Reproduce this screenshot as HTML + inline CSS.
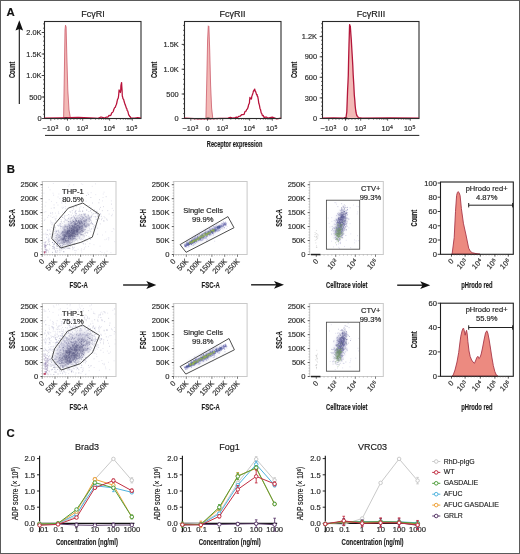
<!DOCTYPE html>
<html><head><meta charset="utf-8"><style>
html,body{margin:0;padding:0;background:#fff;}
svg{display:block;filter:blur(0.3px);}
text{font-family:"Liberation Sans", sans-serif;}
</style></head><body>
<svg width="520" height="554" viewBox="0 0 520 554">
<defs><filter id="bl" x="-50%" y="-50%" width="200%" height="200%"><feGaussianBlur stdDeviation="2.2"/></filter></defs>
<rect x="0.5" y="0.5" width="519" height="553" fill="#fff" stroke="#5a5a5a" stroke-width="1"/>
<text x="6.6" y="15.9" font-size="11.4" font-weight="bold" fill="#111" stroke="#111" stroke-width="0.144">A</text>
<line x1="19.3" y1="27" x2="19.3" y2="104" stroke="#111" stroke-width="1.1"/>
<path d="M15.5 30.4 L19.3 20.2 L23.1 30.4 L19.3 28.9 Z" fill="#111" stroke="none" stroke-width="1" stroke-linejoin="round"/>
<rect x="44.5" y="21.5" width="96.5" height="97.0" fill="none" stroke="#2a2a2a" stroke-width="1.1"/>
<text x="93.0" y="16.6" font-size="9" text-anchor="middle" fill="#222" stroke="#222" stroke-width="0.18">Fc&#947;RI</text>
<line x1="41.7" y1="118.5" x2="44.5" y2="118.5" stroke="#333" stroke-width="0.9"/>
<text x="41.5" y="121.1" font-size="7.4" text-anchor="end" fill="#2e2e2e" stroke="#2e2e2e" stroke-width="0.18">0</text>
<line x1="41.7" y1="97" x2="44.5" y2="97" stroke="#333" stroke-width="0.9"/>
<text x="41.5" y="99.6" font-size="7.4" text-anchor="end" fill="#2e2e2e" stroke="#2e2e2e" stroke-width="0.18">500</text>
<line x1="41.7" y1="75.5" x2="44.5" y2="75.5" stroke="#333" stroke-width="0.9"/>
<text x="41.5" y="78.1" font-size="7.4" text-anchor="end" fill="#2e2e2e" stroke="#2e2e2e" stroke-width="0.18">1.0K</text>
<line x1="41.7" y1="54" x2="44.5" y2="54" stroke="#333" stroke-width="0.9"/>
<text x="41.5" y="56.6" font-size="7.4" text-anchor="end" fill="#2e2e2e" stroke="#2e2e2e" stroke-width="0.18">1.5K</text>
<line x1="41.7" y1="32.5" x2="44.5" y2="32.5" stroke="#333" stroke-width="0.9"/>
<text x="41.5" y="35.1" font-size="7.4" text-anchor="end" fill="#2e2e2e" stroke="#2e2e2e" stroke-width="0.18">2.0K</text>
<line x1="43.1" y1="118.5" x2="44.5" y2="118.5" stroke="#333" stroke-width="0.8"/>
<line x1="43.1" y1="114.2" x2="44.5" y2="114.2" stroke="#333" stroke-width="0.8"/>
<line x1="43.1" y1="109.9" x2="44.5" y2="109.9" stroke="#333" stroke-width="0.8"/>
<line x1="43.1" y1="105.60000000000001" x2="44.5" y2="105.60000000000001" stroke="#333" stroke-width="0.8"/>
<line x1="43.1" y1="101.30000000000001" x2="44.5" y2="101.30000000000001" stroke="#333" stroke-width="0.8"/>
<line x1="43.1" y1="97.00000000000001" x2="44.5" y2="97.00000000000001" stroke="#333" stroke-width="0.8"/>
<line x1="43.1" y1="92.70000000000002" x2="44.5" y2="92.70000000000002" stroke="#333" stroke-width="0.8"/>
<line x1="43.1" y1="88.40000000000002" x2="44.5" y2="88.40000000000002" stroke="#333" stroke-width="0.8"/>
<line x1="43.1" y1="84.10000000000002" x2="44.5" y2="84.10000000000002" stroke="#333" stroke-width="0.8"/>
<line x1="43.1" y1="79.80000000000003" x2="44.5" y2="79.80000000000003" stroke="#333" stroke-width="0.8"/>
<line x1="43.1" y1="75.50000000000003" x2="44.5" y2="75.50000000000003" stroke="#333" stroke-width="0.8"/>
<line x1="43.1" y1="71.20000000000003" x2="44.5" y2="71.20000000000003" stroke="#333" stroke-width="0.8"/>
<line x1="43.1" y1="66.90000000000003" x2="44.5" y2="66.90000000000003" stroke="#333" stroke-width="0.8"/>
<line x1="43.1" y1="62.60000000000004" x2="44.5" y2="62.60000000000004" stroke="#333" stroke-width="0.8"/>
<line x1="43.1" y1="58.30000000000004" x2="44.5" y2="58.30000000000004" stroke="#333" stroke-width="0.8"/>
<line x1="43.1" y1="54.00000000000004" x2="44.5" y2="54.00000000000004" stroke="#333" stroke-width="0.8"/>
<line x1="43.1" y1="49.700000000000045" x2="44.5" y2="49.700000000000045" stroke="#333" stroke-width="0.8"/>
<line x1="43.1" y1="45.40000000000005" x2="44.5" y2="45.40000000000005" stroke="#333" stroke-width="0.8"/>
<line x1="43.1" y1="41.10000000000005" x2="44.5" y2="41.10000000000005" stroke="#333" stroke-width="0.8"/>
<line x1="43.1" y1="36.800000000000054" x2="44.5" y2="36.800000000000054" stroke="#333" stroke-width="0.8"/>
<line x1="43.1" y1="32.50000000000006" x2="44.5" y2="32.50000000000006" stroke="#333" stroke-width="0.8"/>
<line x1="43.1" y1="28.200000000000056" x2="44.5" y2="28.200000000000056" stroke="#333" stroke-width="0.8"/>
<line x1="43.1" y1="23.900000000000055" x2="44.5" y2="23.900000000000055" stroke="#333" stroke-width="0.8"/>
<text x="50.4" y="130.6" font-size="7.4" text-anchor="middle" fill="#2e2e2e" stroke="#2e2e2e" stroke-width="0.18">−10<tspan dx="0.3" dy="-2.1" font-size="5.2">3</tspan></text>
<text x="67.5" y="130.6" font-size="7.4" text-anchor="middle" fill="#2e2e2e" stroke="#2e2e2e" stroke-width="0.18">0</text>
<text x="82.5" y="130.6" font-size="7.4" text-anchor="middle" fill="#2e2e2e" stroke="#2e2e2e" stroke-width="0.18">10<tspan dx="0.3" dy="-2.1" font-size="5.2">3</tspan></text>
<text x="109.3" y="130.6" font-size="7.4" text-anchor="middle" fill="#2e2e2e" stroke="#2e2e2e" stroke-width="0.18">10<tspan dx="0.3" dy="-2.1" font-size="5.2">4</tspan></text>
<text x="131.7" y="130.6" font-size="7.4" text-anchor="middle" fill="#2e2e2e" stroke="#2e2e2e" stroke-width="0.18">10<tspan dx="0.3" dy="-2.1" font-size="5.2">5</tspan></text>
<line x1="50.8" y1="118.5" x2="50.8" y2="120.7" stroke="#333" stroke-width="0.8"/>
<line x1="67.5" y1="118.5" x2="67.5" y2="120.7" stroke="#333" stroke-width="0.8"/>
<line x1="82.7" y1="118.5" x2="82.7" y2="120.7" stroke="#333" stroke-width="0.8"/>
<line x1="109.6" y1="118.5" x2="109.6" y2="120.7" stroke="#333" stroke-width="0.8"/>
<line x1="132.3" y1="118.5" x2="132.3" y2="120.7" stroke="#333" stroke-width="0.8"/>
<line x1="90.7977068833611" y1="118.5" x2="90.7977068833611" y2="119.8" stroke="#444" stroke-width="0.6"/>
<line x1="95.53456175195892" y1="118.5" x2="95.53456175195892" y2="119.8" stroke="#444" stroke-width="0.6"/>
<line x1="98.89541376672219" y1="118.5" x2="98.89541376672219" y2="119.8" stroke="#444" stroke-width="0.6"/>
<line x1="101.50229311663891" y1="118.5" x2="101.50229311663891" y2="119.8" stroke="#444" stroke-width="0.6"/>
<line x1="103.63226863532002" y1="118.5" x2="103.63226863532002" y2="119.8" stroke="#444" stroke-width="0.6"/>
<line x1="105.4331372763835" y1="118.5" x2="105.4331372763835" y2="119.8" stroke="#444" stroke-width="0.6"/>
<line x1="106.99312065008328" y1="118.5" x2="106.99312065008328" y2="119.8" stroke="#444" stroke-width="0.6"/>
<line x1="108.36912350391785" y1="118.5" x2="108.36912350391785" y2="119.8" stroke="#444" stroke-width="0.6"/>
<line x1="116.43338090157236" y1="118.5" x2="116.43338090157236" y2="119.8" stroke="#444" stroke-width="0.6"/>
<line x1="120.43065248213634" y1="118.5" x2="120.43065248213634" y2="119.8" stroke="#444" stroke-width="0.6"/>
<line x1="123.26676180314475" y1="118.5" x2="123.26676180314475" y2="119.8" stroke="#444" stroke-width="0.6"/>
<line x1="125.46661909842763" y1="118.5" x2="125.46661909842763" y2="119.8" stroke="#444" stroke-width="0.6"/>
<line x1="127.2640333837087" y1="118.5" x2="127.2640333837087" y2="119.8" stroke="#444" stroke-width="0.6"/>
<line x1="128.7837255083236" y1="118.5" x2="128.7837255083236" y2="119.8" stroke="#444" stroke-width="0.6"/>
<line x1="130.10014270471711" y1="118.5" x2="130.10014270471711" y2="119.8" stroke="#444" stroke-width="0.6"/>
<line x1="131.26130496427265" y1="118.5" x2="131.26130496427265" y2="119.8" stroke="#444" stroke-width="0.6"/>
<rect x="184.5" y="21.5" width="96.5" height="97.0" fill="none" stroke="#2a2a2a" stroke-width="1.1"/>
<text x="232.5" y="16.6" font-size="9" text-anchor="middle" fill="#222" stroke="#222" stroke-width="0.18">Fc&#947;RII</text>
<line x1="181.7" y1="118.5" x2="184.5" y2="118.5" stroke="#333" stroke-width="0.9"/>
<text x="178.7" y="121.1" font-size="7.4" text-anchor="end" fill="#2e2e2e" stroke="#2e2e2e" stroke-width="0.18">0</text>
<line x1="181.7" y1="94" x2="184.5" y2="94" stroke="#333" stroke-width="0.9"/>
<text x="178.7" y="96.6" font-size="7.4" text-anchor="end" fill="#2e2e2e" stroke="#2e2e2e" stroke-width="0.18">500</text>
<line x1="181.7" y1="69.2" x2="184.5" y2="69.2" stroke="#333" stroke-width="0.9"/>
<text x="178.7" y="71.8" font-size="7.4" text-anchor="end" fill="#2e2e2e" stroke="#2e2e2e" stroke-width="0.18">1.0K</text>
<line x1="181.7" y1="44.4" x2="184.5" y2="44.4" stroke="#333" stroke-width="0.9"/>
<text x="178.7" y="47.0" font-size="7.4" text-anchor="end" fill="#2e2e2e" stroke="#2e2e2e" stroke-width="0.18">1.5K</text>
<line x1="183.1" y1="118.5" x2="184.5" y2="118.5" stroke="#333" stroke-width="0.8"/>
<line x1="183.1" y1="113.6" x2="184.5" y2="113.6" stroke="#333" stroke-width="0.8"/>
<line x1="183.1" y1="108.69999999999999" x2="184.5" y2="108.69999999999999" stroke="#333" stroke-width="0.8"/>
<line x1="183.1" y1="103.79999999999998" x2="184.5" y2="103.79999999999998" stroke="#333" stroke-width="0.8"/>
<line x1="183.1" y1="98.89999999999998" x2="184.5" y2="98.89999999999998" stroke="#333" stroke-width="0.8"/>
<line x1="183.1" y1="93.99999999999997" x2="184.5" y2="93.99999999999997" stroke="#333" stroke-width="0.8"/>
<line x1="183.1" y1="89.09999999999997" x2="184.5" y2="89.09999999999997" stroke="#333" stroke-width="0.8"/>
<line x1="183.1" y1="84.19999999999996" x2="184.5" y2="84.19999999999996" stroke="#333" stroke-width="0.8"/>
<line x1="183.1" y1="79.29999999999995" x2="184.5" y2="79.29999999999995" stroke="#333" stroke-width="0.8"/>
<line x1="183.1" y1="74.39999999999995" x2="184.5" y2="74.39999999999995" stroke="#333" stroke-width="0.8"/>
<line x1="183.1" y1="69.49999999999994" x2="184.5" y2="69.49999999999994" stroke="#333" stroke-width="0.8"/>
<line x1="183.1" y1="64.59999999999994" x2="184.5" y2="64.59999999999994" stroke="#333" stroke-width="0.8"/>
<line x1="183.1" y1="59.69999999999994" x2="184.5" y2="59.69999999999994" stroke="#333" stroke-width="0.8"/>
<line x1="183.1" y1="54.79999999999994" x2="184.5" y2="54.79999999999994" stroke="#333" stroke-width="0.8"/>
<line x1="183.1" y1="49.89999999999994" x2="184.5" y2="49.89999999999994" stroke="#333" stroke-width="0.8"/>
<line x1="183.1" y1="44.99999999999994" x2="184.5" y2="44.99999999999994" stroke="#333" stroke-width="0.8"/>
<line x1="183.1" y1="40.099999999999945" x2="184.5" y2="40.099999999999945" stroke="#333" stroke-width="0.8"/>
<line x1="183.1" y1="35.199999999999946" x2="184.5" y2="35.199999999999946" stroke="#333" stroke-width="0.8"/>
<line x1="183.1" y1="30.299999999999947" x2="184.5" y2="30.299999999999947" stroke="#333" stroke-width="0.8"/>
<line x1="183.1" y1="25.39999999999995" x2="184.5" y2="25.39999999999995" stroke="#333" stroke-width="0.8"/>
<text x="190.4" y="130.6" font-size="7.4" text-anchor="middle" fill="#2e2e2e" stroke="#2e2e2e" stroke-width="0.18">−10<tspan dx="0.3" dy="-2.1" font-size="5.2">3</tspan></text>
<text x="207.5" y="130.6" font-size="7.4" text-anchor="middle" fill="#2e2e2e" stroke="#2e2e2e" stroke-width="0.18">0</text>
<text x="222.5" y="130.6" font-size="7.4" text-anchor="middle" fill="#2e2e2e" stroke="#2e2e2e" stroke-width="0.18">10<tspan dx="0.3" dy="-2.1" font-size="5.2">3</tspan></text>
<text x="249.29999999999998" y="130.6" font-size="7.4" text-anchor="middle" fill="#2e2e2e" stroke="#2e2e2e" stroke-width="0.18">10<tspan dx="0.3" dy="-2.1" font-size="5.2">4</tspan></text>
<text x="271.70000000000005" y="130.6" font-size="7.4" text-anchor="middle" fill="#2e2e2e" stroke="#2e2e2e" stroke-width="0.18">10<tspan dx="0.3" dy="-2.1" font-size="5.2">5</tspan></text>
<line x1="190.8" y1="118.5" x2="190.8" y2="120.7" stroke="#333" stroke-width="0.8"/>
<line x1="207.5" y1="118.5" x2="207.5" y2="120.7" stroke="#333" stroke-width="0.8"/>
<line x1="222.7" y1="118.5" x2="222.7" y2="120.7" stroke="#333" stroke-width="0.8"/>
<line x1="249.6" y1="118.5" x2="249.6" y2="120.7" stroke="#333" stroke-width="0.8"/>
<line x1="272.3" y1="118.5" x2="272.3" y2="120.7" stroke="#333" stroke-width="0.8"/>
<line x1="230.7977068833611" y1="118.5" x2="230.7977068833611" y2="119.8" stroke="#444" stroke-width="0.6"/>
<line x1="235.5345617519589" y1="118.5" x2="235.5345617519589" y2="119.8" stroke="#444" stroke-width="0.6"/>
<line x1="238.89541376672219" y1="118.5" x2="238.89541376672219" y2="119.8" stroke="#444" stroke-width="0.6"/>
<line x1="241.5022931166389" y1="118.5" x2="241.5022931166389" y2="119.8" stroke="#444" stroke-width="0.6"/>
<line x1="243.63226863532" y1="118.5" x2="243.63226863532" y2="119.8" stroke="#444" stroke-width="0.6"/>
<line x1="245.4331372763835" y1="118.5" x2="245.4331372763835" y2="119.8" stroke="#444" stroke-width="0.6"/>
<line x1="246.99312065008326" y1="118.5" x2="246.99312065008326" y2="119.8" stroke="#444" stroke-width="0.6"/>
<line x1="248.36912350391782" y1="118.5" x2="248.36912350391782" y2="119.8" stroke="#444" stroke-width="0.6"/>
<line x1="256.4333809015724" y1="118.5" x2="256.4333809015724" y2="119.8" stroke="#444" stroke-width="0.6"/>
<line x1="260.43065248213634" y1="118.5" x2="260.43065248213634" y2="119.8" stroke="#444" stroke-width="0.6"/>
<line x1="263.26676180314473" y1="118.5" x2="263.26676180314473" y2="119.8" stroke="#444" stroke-width="0.6"/>
<line x1="265.4666190984276" y1="118.5" x2="265.4666190984276" y2="119.8" stroke="#444" stroke-width="0.6"/>
<line x1="267.2640333837087" y1="118.5" x2="267.2640333837087" y2="119.8" stroke="#444" stroke-width="0.6"/>
<line x1="268.78372550832364" y1="118.5" x2="268.78372550832364" y2="119.8" stroke="#444" stroke-width="0.6"/>
<line x1="270.1001427047171" y1="118.5" x2="270.1001427047171" y2="119.8" stroke="#444" stroke-width="0.6"/>
<line x1="271.26130496427265" y1="118.5" x2="271.26130496427265" y2="119.8" stroke="#444" stroke-width="0.6"/>
<rect x="322.5" y="21.5" width="96.5" height="97.0" fill="none" stroke="#2a2a2a" stroke-width="1.1"/>
<text x="371.0" y="16.6" font-size="9" text-anchor="middle" fill="#222" stroke="#222" stroke-width="0.18">Fc&#947;RIII</text>
<line x1="319.7" y1="118.5" x2="322.5" y2="118.5" stroke="#333" stroke-width="0.9"/>
<text x="317.0" y="121.1" font-size="7.4" text-anchor="end" fill="#2e2e2e" stroke="#2e2e2e" stroke-width="0.18">0</text>
<line x1="319.7" y1="97.9" x2="322.5" y2="97.9" stroke="#333" stroke-width="0.9"/>
<text x="317.0" y="100.5" font-size="7.4" text-anchor="end" fill="#2e2e2e" stroke="#2e2e2e" stroke-width="0.18">300</text>
<line x1="319.7" y1="77.3" x2="322.5" y2="77.3" stroke="#333" stroke-width="0.9"/>
<text x="317.0" y="79.89999999999999" font-size="7.4" text-anchor="end" fill="#2e2e2e" stroke="#2e2e2e" stroke-width="0.18">600</text>
<line x1="319.7" y1="56.8" x2="322.5" y2="56.8" stroke="#333" stroke-width="0.9"/>
<text x="317.0" y="59.4" font-size="7.4" text-anchor="end" fill="#2e2e2e" stroke="#2e2e2e" stroke-width="0.18">900</text>
<line x1="319.7" y1="36.6" x2="322.5" y2="36.6" stroke="#333" stroke-width="0.9"/>
<text x="317.0" y="39.2" font-size="7.4" text-anchor="end" fill="#2e2e2e" stroke="#2e2e2e" stroke-width="0.18">1.2K</text>
<line x1="321.1" y1="118.5" x2="322.5" y2="118.5" stroke="#333" stroke-width="0.8"/>
<line x1="321.1" y1="114.38" x2="322.5" y2="114.38" stroke="#333" stroke-width="0.8"/>
<line x1="321.1" y1="110.25999999999999" x2="322.5" y2="110.25999999999999" stroke="#333" stroke-width="0.8"/>
<line x1="321.1" y1="106.13999999999999" x2="322.5" y2="106.13999999999999" stroke="#333" stroke-width="0.8"/>
<line x1="321.1" y1="102.01999999999998" x2="322.5" y2="102.01999999999998" stroke="#333" stroke-width="0.8"/>
<line x1="321.1" y1="97.89999999999998" x2="322.5" y2="97.89999999999998" stroke="#333" stroke-width="0.8"/>
<line x1="321.1" y1="93.77999999999997" x2="322.5" y2="93.77999999999997" stroke="#333" stroke-width="0.8"/>
<line x1="321.1" y1="89.65999999999997" x2="322.5" y2="89.65999999999997" stroke="#333" stroke-width="0.8"/>
<line x1="321.1" y1="85.53999999999996" x2="322.5" y2="85.53999999999996" stroke="#333" stroke-width="0.8"/>
<line x1="321.1" y1="81.41999999999996" x2="322.5" y2="81.41999999999996" stroke="#333" stroke-width="0.8"/>
<line x1="321.1" y1="77.29999999999995" x2="322.5" y2="77.29999999999995" stroke="#333" stroke-width="0.8"/>
<line x1="321.1" y1="73.17999999999995" x2="322.5" y2="73.17999999999995" stroke="#333" stroke-width="0.8"/>
<line x1="321.1" y1="69.05999999999995" x2="322.5" y2="69.05999999999995" stroke="#333" stroke-width="0.8"/>
<line x1="321.1" y1="64.93999999999994" x2="322.5" y2="64.93999999999994" stroke="#333" stroke-width="0.8"/>
<line x1="321.1" y1="60.81999999999994" x2="322.5" y2="60.81999999999994" stroke="#333" stroke-width="0.8"/>
<line x1="321.1" y1="56.699999999999946" x2="322.5" y2="56.699999999999946" stroke="#333" stroke-width="0.8"/>
<line x1="321.1" y1="52.57999999999995" x2="322.5" y2="52.57999999999995" stroke="#333" stroke-width="0.8"/>
<line x1="321.1" y1="48.45999999999995" x2="322.5" y2="48.45999999999995" stroke="#333" stroke-width="0.8"/>
<line x1="321.1" y1="44.339999999999954" x2="322.5" y2="44.339999999999954" stroke="#333" stroke-width="0.8"/>
<line x1="321.1" y1="40.219999999999956" x2="322.5" y2="40.219999999999956" stroke="#333" stroke-width="0.8"/>
<line x1="321.1" y1="36.09999999999996" x2="322.5" y2="36.09999999999996" stroke="#333" stroke-width="0.8"/>
<line x1="321.1" y1="31.97999999999996" x2="322.5" y2="31.97999999999996" stroke="#333" stroke-width="0.8"/>
<line x1="321.1" y1="27.859999999999964" x2="322.5" y2="27.859999999999964" stroke="#333" stroke-width="0.8"/>
<line x1="321.1" y1="23.739999999999966" x2="322.5" y2="23.739999999999966" stroke="#333" stroke-width="0.8"/>
<text x="328.40000000000003" y="130.6" font-size="7.4" text-anchor="middle" fill="#2e2e2e" stroke="#2e2e2e" stroke-width="0.18">−10<tspan dx="0.3" dy="-2.1" font-size="5.2">3</tspan></text>
<text x="345.5" y="130.6" font-size="7.4" text-anchor="middle" fill="#2e2e2e" stroke="#2e2e2e" stroke-width="0.18">0</text>
<text x="360.5" y="130.6" font-size="7.4" text-anchor="middle" fill="#2e2e2e" stroke="#2e2e2e" stroke-width="0.18">10<tspan dx="0.3" dy="-2.1" font-size="5.2">3</tspan></text>
<text x="387.3" y="130.6" font-size="7.4" text-anchor="middle" fill="#2e2e2e" stroke="#2e2e2e" stroke-width="0.18">10<tspan dx="0.3" dy="-2.1" font-size="5.2">4</tspan></text>
<text x="409.70000000000005" y="130.6" font-size="7.4" text-anchor="middle" fill="#2e2e2e" stroke="#2e2e2e" stroke-width="0.18">10<tspan dx="0.3" dy="-2.1" font-size="5.2">5</tspan></text>
<line x1="328.8" y1="118.5" x2="328.8" y2="120.7" stroke="#333" stroke-width="0.8"/>
<line x1="345.5" y1="118.5" x2="345.5" y2="120.7" stroke="#333" stroke-width="0.8"/>
<line x1="360.7" y1="118.5" x2="360.7" y2="120.7" stroke="#333" stroke-width="0.8"/>
<line x1="387.6" y1="118.5" x2="387.6" y2="120.7" stroke="#333" stroke-width="0.8"/>
<line x1="410.3" y1="118.5" x2="410.3" y2="120.7" stroke="#333" stroke-width="0.8"/>
<line x1="368.79770688336106" y1="118.5" x2="368.79770688336106" y2="119.8" stroke="#444" stroke-width="0.6"/>
<line x1="373.5345617519589" y1="118.5" x2="373.5345617519589" y2="119.8" stroke="#444" stroke-width="0.6"/>
<line x1="376.8954137667222" y1="118.5" x2="376.8954137667222" y2="119.8" stroke="#444" stroke-width="0.6"/>
<line x1="379.5022931166389" y1="118.5" x2="379.5022931166389" y2="119.8" stroke="#444" stroke-width="0.6"/>
<line x1="381.63226863532" y1="118.5" x2="381.63226863532" y2="119.8" stroke="#444" stroke-width="0.6"/>
<line x1="383.4331372763835" y1="118.5" x2="383.4331372763835" y2="119.8" stroke="#444" stroke-width="0.6"/>
<line x1="384.99312065008326" y1="118.5" x2="384.99312065008326" y2="119.8" stroke="#444" stroke-width="0.6"/>
<line x1="386.3691235039178" y1="118.5" x2="386.3691235039178" y2="119.8" stroke="#444" stroke-width="0.6"/>
<line x1="394.4333809015724" y1="118.5" x2="394.4333809015724" y2="119.8" stroke="#444" stroke-width="0.6"/>
<line x1="398.43065248213634" y1="118.5" x2="398.43065248213634" y2="119.8" stroke="#444" stroke-width="0.6"/>
<line x1="401.2667618031448" y1="118.5" x2="401.2667618031448" y2="119.8" stroke="#444" stroke-width="0.6"/>
<line x1="403.46661909842766" y1="118.5" x2="403.46661909842766" y2="119.8" stroke="#444" stroke-width="0.6"/>
<line x1="405.26403338370875" y1="118.5" x2="405.26403338370875" y2="119.8" stroke="#444" stroke-width="0.6"/>
<line x1="406.78372550832364" y1="118.5" x2="406.78372550832364" y2="119.8" stroke="#444" stroke-width="0.6"/>
<line x1="408.10014270471714" y1="118.5" x2="408.10014270471714" y2="119.8" stroke="#444" stroke-width="0.6"/>
<line x1="409.2613049642727" y1="118.5" x2="409.2613049642727" y2="119.8" stroke="#444" stroke-width="0.6"/>
<text transform="translate(14.6,69.9) rotate(-90)" font-size="8.8" text-anchor="middle" font-weight="bold" fill="#1a1a1a" textLength="16.4" lengthAdjust="spacingAndGlyphs" stroke="#1a1a1a" stroke-width="0.144">Count</text>
<text transform="translate(157.4,69.9) rotate(-90)" font-size="8.8" text-anchor="middle" font-weight="bold" fill="#1a1a1a" textLength="16.4" lengthAdjust="spacingAndGlyphs" stroke="#1a1a1a" stroke-width="0.144">Count</text>
<text transform="translate(297.4,69.9) rotate(-90)" font-size="8.8" text-anchor="middle" font-weight="bold" fill="#1a1a1a" textLength="16.4" lengthAdjust="spacingAndGlyphs" stroke="#1a1a1a" stroke-width="0.144">Count</text>
<line x1="45" y1="135.4" x2="419.3" y2="135.4" stroke="#222" stroke-width="1"/>
<text x="234.6" y="146.5" font-size="8.4" text-anchor="middle" font-weight="bold" fill="#1a1a1a" textLength="55.5" lengthAdjust="spacingAndGlyphs" stroke="#1a1a1a" stroke-width="0.144">Receptor expression</text>
<path d="M63.6 118.4 L64.4 70.0 L65.0 30.0 L65.5 25.2 L66.1 27.0 L66.8 55.0 L67.8 90.0 L69.0 110.0 L70.5 118.4 Z" fill="#f3b9b6" stroke="#cc5a6a" stroke-width="0.8" stroke-linejoin="round"/>
<path d="M44.5 118.2 L61.3 117.8 L78.2 117.4 L95.0 118.2 L98.0 118.4 L101.0 117.0 L104.0 117.8 L105.3 117.6 L106.7 117.0 L108.0 117.0 L109.0 115.4 L110.0 115.7 L111.0 115.0 L111.7 112.8 L112.5 112.5 L113.2 111.5 L113.9 109.2 L114.6 107.8 L115.3 107.3 L115.9 105.4 L116.4 104.5 L117.0 102.0 L117.4 99.8 L117.9 98.7 L118.3 97.9 L118.6 95.5 L118.8 93.6 L119.1 89.9 L119.5 90.9 L120.0 91.4 L120.4 92.5 L120.7 90.7 L120.9 85.8 L121.2 84.0 L121.3 84.3 L121.5 82.6 L121.6 82.6 L121.8 86.4 L122.1 90.8 L122.3 96.2 L122.6 96.7 L123.0 98.8 L123.3 99.0 L123.7 99.6 L124.2 101.8 L124.6 103.0 L125.1 104.6 L125.5 105.4 L126.0 107.0 L126.4 108.3 L126.8 108.5 L127.2 110.7 L127.6 110.8 L128.1 112.3 L128.5 114.0 L128.9 115.3 L129.3 115.6 L129.7 116.6 L130.3 116.7 L130.8 117.7 L131.4 118.0 L134.6 118.0 L137.8 117.7 L141.0 118.2" fill="none" stroke="#b8123a" stroke-width="1.25" stroke-linejoin="round"/>
<path d="M205.9 118.4 L206.8 80.0 L207.6 40.0 L208.3 25.8 L208.9 26.5 L209.7 50.0 L210.6 85.0 L211.6 108.0 L212.8 118.4 Z" fill="#f3b9b6" stroke="#cc5a6a" stroke-width="0.8" stroke-linejoin="round"/>
<path d="M184.5 118.2 L199.0 118.8 L213.5 118.6 L228.0 118.2 L230.4 117.4 L232.8 118.0 L235.2 117.6 L236.4 117.2 L237.5 117.6 L238.7 116.3 L240.1 116.2 L241.6 114.7 L243.0 114.6 L244.0 114.5 L245.0 111.5 L246.0 111.2 L246.7 109.6 L247.5 108.8 L248.2 106.8 L248.6 104.6 L249.1 103.9 L249.5 102.5 L249.6 99.8 L249.8 99.4 L249.9 97.3 L250.3 98.4 L250.8 98.6 L251.2 99.0 L251.5 98.7 L251.8 96.3 L252.1 95.6 L252.5 94.6 L253.0 92.9 L253.4 91.2 L253.8 90.7 L254.3 89.7 L254.7 89.1 L255.0 90.5 L255.2 91.5 L255.5 91.2 L255.9 92.4 L256.4 94.2 L256.8 95.1 L257.1 94.6 L257.4 96.4 L257.7 96.4 L258.3 99.6 L258.8 103.3 L259.4 105.1 L260.0 108.4 L260.6 109.8 L261.2 112.9 L261.8 113.6 L262.3 115.3 L262.9 115.9 L263.3 115.4 L263.8 116.9 L264.2 117.6 L265.5 117.1 L266.7 117.2 L268.0 118.2 L272.3 117.2 L276.7 118.8 L281.0 118.2" fill="none" stroke="#b8123a" stroke-width="1.25" stroke-linejoin="round"/>
<path d="M346.0 118.4 L346.8 112.0 L347.6 90.0 L348.3 75.0 L349.0 45.0 L349.6 24.6 L350.3 26.0 L351.3 40.0 L352.3 57.0 L353.2 75.0 L354.3 95.0 L355.2 106.0 L355.8 111.0 L356.8 115.5 L358.4 118.4 Z" fill="#f3b9b6" stroke="none" stroke-width="1" stroke-linejoin="round"/>
<path d="M322.5 118.2 L333.2 118.0 L344.0 118.2 L345.0 117.7 L346.0 117.6 L346.4 114.7 L346.8 112.0 L347.2 101.2 L347.6 90.0 L348.0 82.2 L348.3 75.0 L348.6 60.0 L349.0 45.0 L349.3 34.8 L349.6 24.6 L350.0 25.5 L350.3 26.0 L350.8 33.2 L351.3 40.0 L351.8 48.7 L352.3 57.0 L352.8 65.9 L353.2 75.0 L353.8 84.9 L354.3 95.0 L354.8 100.4 L355.2 106.0 L355.5 108.7 L355.8 111.0 L356.3 113.5 L356.8 115.5 L357.6 116.4 L358.4 117.8 L360.2 117.8 L362.0 118.2 L390.5 118.0 L419.0 118.2" fill="none" stroke="#b3163a" stroke-width="1.3" stroke-linejoin="round"/>
<line x1="44.5" y1="118.5" x2="141.0" y2="118.5" stroke="#2a2a2a" stroke-width="1.1"/>
<line x1="54.7" y1="118.5" x2="54.7" y2="119.9" stroke="#444" stroke-width="0.6"/>
<line x1="57.9" y1="118.5" x2="57.9" y2="119.9" stroke="#444" stroke-width="0.6"/>
<line x1="61.1" y1="118.5" x2="61.1" y2="119.9" stroke="#444" stroke-width="0.6"/>
<line x1="64.3" y1="118.5" x2="64.3" y2="119.9" stroke="#444" stroke-width="0.6"/>
<line x1="67.5" y1="118.5" x2="67.5" y2="119.9" stroke="#444" stroke-width="0.6"/>
<line x1="70.7" y1="118.5" x2="70.7" y2="119.9" stroke="#444" stroke-width="0.6"/>
<line x1="73.9" y1="118.5" x2="73.9" y2="119.9" stroke="#444" stroke-width="0.6"/>
<line x1="77.1" y1="118.5" x2="77.1" y2="119.9" stroke="#444" stroke-width="0.6"/>
<line x1="80.3" y1="118.5" x2="80.3" y2="119.9" stroke="#444" stroke-width="0.6"/>
<line x1="184.5" y1="118.5" x2="281.0" y2="118.5" stroke="#2a2a2a" stroke-width="1.1"/>
<line x1="194.7" y1="118.5" x2="194.7" y2="119.9" stroke="#444" stroke-width="0.6"/>
<line x1="197.9" y1="118.5" x2="197.9" y2="119.9" stroke="#444" stroke-width="0.6"/>
<line x1="201.1" y1="118.5" x2="201.1" y2="119.9" stroke="#444" stroke-width="0.6"/>
<line x1="204.3" y1="118.5" x2="204.3" y2="119.9" stroke="#444" stroke-width="0.6"/>
<line x1="207.5" y1="118.5" x2="207.5" y2="119.9" stroke="#444" stroke-width="0.6"/>
<line x1="210.7" y1="118.5" x2="210.7" y2="119.9" stroke="#444" stroke-width="0.6"/>
<line x1="213.9" y1="118.5" x2="213.9" y2="119.9" stroke="#444" stroke-width="0.6"/>
<line x1="217.1" y1="118.5" x2="217.1" y2="119.9" stroke="#444" stroke-width="0.6"/>
<line x1="220.3" y1="118.5" x2="220.3" y2="119.9" stroke="#444" stroke-width="0.6"/>
<line x1="322.5" y1="118.5" x2="419.0" y2="118.5" stroke="#2a2a2a" stroke-width="1.1"/>
<line x1="332.7" y1="118.5" x2="332.7" y2="119.9" stroke="#444" stroke-width="0.6"/>
<line x1="335.9" y1="118.5" x2="335.9" y2="119.9" stroke="#444" stroke-width="0.6"/>
<line x1="339.1" y1="118.5" x2="339.1" y2="119.9" stroke="#444" stroke-width="0.6"/>
<line x1="342.3" y1="118.5" x2="342.3" y2="119.9" stroke="#444" stroke-width="0.6"/>
<line x1="345.5" y1="118.5" x2="345.5" y2="119.9" stroke="#444" stroke-width="0.6"/>
<line x1="348.7" y1="118.5" x2="348.7" y2="119.9" stroke="#444" stroke-width="0.6"/>
<line x1="351.9" y1="118.5" x2="351.9" y2="119.9" stroke="#444" stroke-width="0.6"/>
<line x1="355.1" y1="118.5" x2="355.1" y2="119.9" stroke="#444" stroke-width="0.6"/>
<line x1="358.3" y1="118.5" x2="358.3" y2="119.9" stroke="#444" stroke-width="0.6"/>
<rect x="64.5" y="117.6" width="3" height="1.6" fill="#222"/>
<rect x="206.5" y="117.6" width="3" height="1.6" fill="#222"/>
<rect x="344.5" y="117.6" width="3" height="1.6" fill="#222"/>
<text x="6.7" y="173.1" font-size="11.4" font-weight="bold" fill="#111" stroke="#111" stroke-width="0.144">B</text>
<ellipse cx="73" cy="230" rx="20" ry="8.5" transform="rotate(-40 73 230)" fill="#a8a8c8" fill-opacity="0.5" filter="url(#bl)"/>
<ellipse cx="72" cy="232" rx="11" ry="4.2" transform="rotate(-40 72 232)" fill="#707094" fill-opacity="0.5" filter="url(#bl)"/>
<path d="M60.2 216.9h.9M85.6 201.2h.9M43.8 212.2h.9M69.9 222.7h.9M111.6 231.5h.9M80.4 226.3h.9M91.8 186.3h.9M107.8 237.9h.9M106.0 239.1h.9M71.6 210.8h.9M50.9 227.5h.9M48.0 187.3h.9M58.4 194.0h.9M67.8 186.2h.9M43.5 193.2h.9M50.8 208.3h.9M45.3 244.6h.9M87.4 193.0h.9M61.5 207.2h.9M69.5 191.2h.9M104.2 253.0h.9M76.8 216.9h.9M49.6 189.8h.9M68.0 201.3h.9M102.8 194.0h.9M45.2 250.0h.9M81.3 192.9h.9M82.3 184.4h.9M81.3 252.0h.9M105.2 231.9h.9M62.2 208.5h.9M55.4 237.3h.9M81.6 237.8h.9M67.1 198.3h.9M101.5 252.4h.9M104.5 239.7h.9M102.0 235.0h.9M59.7 219.3h.9M68.9 184.6h.9M45.5 202.3h.9M62.0 231.7h.9M111.9 214.3h.9M110.5 252.7h.9M111.8 208.4h.9M59.3 198.6h.9M57.6 197.0h.9M88.1 246.4h.9M103.6 216.5h.9M90.2 239.3h.9M49.6 229.4h.9M108.5 238.0h.9M97.1 216.4h.9M56.3 238.5h.9M67.3 239.4h.9M113.0 210.6h.9M72.2 249.7h.9M95.3 194.6h.9M52.6 193.2h.9M108.2 239.8h.9M54.0 241.2h.9M113.6 229.2h.9M68.6 221.5h.9M52.9 183.5h.9M112.9 228.6h.9M81.2 248.8h.9M74.5 244.4h.9M102.6 197.5h.9M61.5 203.3h.9M60.7 224.1h.9M62.0 212.2h.9M52.9 247.1h.9M68.8 215.0h.9M85.2 246.7h.9M73.6 247.7h.9M79.4 220.3h.9M80.9 183.8h.9M75.0 195.5h.9M43.8 239.2h.9M55.8 216.1h.9M95.4 222.0h.9M66.8 219.3h.9M83.2 238.2h.9M51.1 222.3h.9M61.3 202.2h.9M98.7 218.5h.9M83.7 236.5h.9M108.7 214.0h.9M87.3 218.4h.9M80.1 231.7h.9M75.8 220.4h.9M77.7 249.3h.9M93.5 244.7h.9M110.9 200.9h.9M83.5 249.5h.9M103.6 192.2h.9M52.2 213.9h.9M48.7 199.6h.9M48.7 230.0h.9M99.6 246.2h.9M54.5 233.3h.9M90.7 192.7h.9M106.6 251.2h.9M59.2 250.1h.9M72.0 217.1h.9M114.3 241.6h.9M55.0 213.1h.9M80.4 206.6h.9M57.5 205.1h.9M95.1 183.9h.9M83.1 213.8h.9M44.8 206.0h.9M88.1 218.9h.9M48.1 252.4h.9M99.9 251.5h.9M51.0 201.4h.9M46.3 237.8h.9M62.8 191.7h.9M73.7 247.2h.9M102.1 200.9h.9M54.2 247.8h.9" stroke="#a0a0c4" stroke-width=".9" stroke-opacity="0.3" fill="none"/>
<path d="M66.3 225.0h.9M50.2 221.0h.9M90.7 216.3h.9M86.3 219.6h.9M85.9 217.0h.9M55.8 236.0h.9M65.7 231.1h.9M54.1 231.4h.9M69.4 225.2h.9M69.8 222.2h.9M65.4 235.8h.9M55.7 218.3h.9M56.0 231.5h.9M62.2 228.3h.9M63.4 227.5h.9M50.4 216.1h.9M74.6 231.5h.9M64.6 220.5h.9M58.3 213.6h.9M44.5 243.3h.9M59.2 240.7h.9M65.0 249.1h.9M47.2 217.4h.9M59.0 237.3h.9M68.2 223.1h.9M81.9 219.1h.9M66.7 231.4h.9M85.7 219.9h.9M62.9 207.4h.9M66.6 233.7h.9M67.9 238.0h.9M75.1 228.7h.9M80.8 250.2h.9M72.0 213.1h.9M84.1 248.0h.9M65.9 236.7h.9M71.4 217.4h.9M52.4 238.0h.9M74.7 232.7h.9M69.6 219.3h.9M74.5 223.2h.9M64.4 224.7h.9M65.3 234.2h.9M46.8 229.8h.9M50.1 213.1h.9M60.2 237.0h.9M66.9 220.5h.9M48.2 215.6h.9M83.6 214.3h.9M65.2 208.6h.9M45.4 211.7h.9M77.1 227.3h.9M43.5 242.4h.9M53.6 204.9h.9M44.5 219.3h.9M64.3 227.9h.9M73.8 226.5h.9M85.8 222.9h.9M45.4 233.2h.9M61.3 226.8h.9M53.7 207.7h.9M50.0 236.8h.9M57.6 225.0h.9M55.2 219.9h.9M71.6 222.9h.9M55.7 220.9h.9M53.0 235.0h.9M49.3 241.1h.9M52.1 212.6h.9M57.0 225.5h.9M71.4 227.3h.9M54.7 218.8h.9M60.1 226.7h.9M71.4 222.1h.9M44.0 220.5h.9M52.4 222.8h.9M50.5 234.8h.9M58.2 231.3h.9M63.6 217.7h.9M81.5 202.6h.9M73.5 217.3h.9M53.2 195.2h.9M56.9 234.8h.9M86.8 241.2h.9M75.5 234.4h.9M77.0 227.5h.9M65.6 220.1h.9M58.0 212.0h.9M64.9 206.6h.9M81.7 242.4h.9M60.0 228.2h.9M73.3 215.9h.9M56.4 235.4h.9M73.3 227.1h.9M69.0 248.2h.9M78.0 211.4h.9M61.0 219.9h.9M69.7 207.3h.9M64.5 215.8h.9M61.3 238.5h.9M74.6 214.1h.9M62.2 239.1h.9M64.1 229.2h.9M85.7 222.4h.9M75.7 250.7h.9M68.5 232.9h.9M55.5 231.3h.9M65.1 203.2h.9M69.4 211.5h.9M58.9 223.8h.9M51.9 217.5h.9M50.5 213.2h.9M63.8 229.3h.9M64.6 219.8h.9M54.7 235.4h.9M70.2 244.0h.9M68.4 218.2h.9M51.8 224.0h.9M50.2 231.2h.9M69.0 227.9h.9M84.6 239.4h.9M55.4 232.4h.9M73.3 184.8h.9M58.4 232.1h.9M66.8 228.2h.9M62.7 231.3h.9M68.8 232.3h.9M53.5 217.0h.9M57.2 240.8h.9M61.0 237.3h.9M71.6 222.1h.9M66.0 220.6h.9M48.4 238.2h.9M62.0 217.3h.9M67.2 233.5h.9M58.9 239.4h.9M75.2 204.6h.9M62.2 223.4h.9M79.2 215.1h.9M64.9 212.0h.9M61.8 226.1h.9M56.2 202.7h.9M68.0 218.3h.9M69.3 225.2h.9M46.0 237.4h.9M71.5 207.7h.9M53.1 239.8h.9M81.6 214.8h.9M82.6 243.4h.9M51.5 224.7h.9M71.5 226.1h.9M66.8 225.6h.9M47.9 235.8h.9M60.6 234.8h.9M60.2 226.3h.9M67.3 238.4h.9M72.2 210.5h.9M63.9 211.9h.9M68.8 231.9h.9M73.3 209.2h.9M62.9 228.4h.9M47.9 239.4h.9M58.6 235.3h.9M64.5 227.9h.9M64.0 238.7h.9M54.4 223.1h.9M53.7 208.0h.9M55.4 231.8h.9M68.7 217.0h.9M59.6 217.5h.9M78.5 237.9h.9M74.8 252.9h.9M56.0 231.9h.9M72.0 233.5h.9M74.3 227.6h.9M89.4 243.6h.9M66.0 226.4h.9M73.9 221.0h.9M67.7 200.4h.9M66.7 215.5h.9M88.4 236.7h.9M59.9 223.8h.9M50.4 223.1h.9" stroke="#a0a0c4" stroke-width=".9" stroke-opacity="0.36" fill="none"/>
<path d="M69.7 239.0h.9M74.7 229.5h.9M76.1 236.1h.9M79.0 224.0h.9M80.9 222.3h.9M67.3 248.4h.9M75.0 219.9h.9M87.9 220.9h.9M81.8 231.1h.9M75.6 226.8h.9M60.6 249.7h.9M73.1 227.7h.9M78.4 226.5h.9M80.1 221.0h.9M63.9 218.4h.9M72.2 237.2h.9M87.7 214.6h.9M79.7 239.2h.9M73.6 236.6h.9M93.4 213.5h.9M84.9 213.8h.9M76.0 227.1h.9M80.4 234.4h.9M98.4 202.8h.9M69.6 237.7h.9M64.1 242.4h.9M79.3 222.5h.9M73.1 216.1h.9M75.8 213.9h.9M63.5 233.3h.9M73.3 238.0h.9M73.1 226.6h.9M87.4 232.7h.9M75.7 231.4h.9M89.4 219.0h.9M90.4 197.5h.9M75.4 232.1h.9M88.1 223.7h.9M66.1 226.5h.9M79.8 234.0h.9M56.9 234.5h.9M65.0 219.4h.9M69.0 229.7h.9M76.0 221.4h.9M62.1 235.9h.9M70.4 226.4h.9M77.5 233.4h.9M95.3 227.2h.9M63.1 234.8h.9M65.5 236.3h.9M73.9 217.2h.9M79.2 224.9h.9M54.4 248.7h.9M79.3 208.0h.9M84.2 222.8h.9M81.4 227.3h.9M88.0 215.7h.9M82.2 218.9h.9M78.7 218.1h.9M80.6 239.8h.9M78.4 224.3h.9M57.3 236.3h.9M80.5 232.7h.9M81.3 228.2h.9M79.6 237.1h.9M67.0 230.3h.9M84.5 221.3h.9M68.2 229.1h.9M73.9 235.3h.9M72.6 219.6h.9M79.7 226.3h.9M66.0 243.3h.9M69.3 230.4h.9M89.1 228.9h.9M68.1 238.5h.9M74.4 250.4h.9M73.7 240.7h.9M70.2 240.1h.9M88.0 194.5h.9M71.3 236.4h.9M69.9 226.8h.9M99.0 209.1h.9M59.0 250.0h.9M59.4 252.3h.9M68.0 235.9h.9M89.0 217.9h.9M50.4 233.9h.9M90.9 222.0h.9M68.5 242.0h.9M82.6 228.2h.9M46.7 249.7h.9M87.6 224.7h.9M73.0 207.8h.9M78.2 230.5h.9M99.0 199.7h.9M70.4 232.9h.9M82.2 218.6h.9M83.6 214.2h.9M74.7 224.1h.9M72.7 224.3h.9M60.6 250.8h.9M75.0 223.6h.9M80.8 232.9h.9M62.3 238.4h.9M82.6 227.1h.9M60.7 221.5h.9M89.7 219.2h.9M72.9 227.9h.9M75.1 224.7h.9M58.9 235.4h.9M64.4 232.0h.9M63.6 244.1h.9M61.9 245.7h.9M63.9 241.2h.9M90.7 217.3h.9M65.8 236.8h.9M67.9 218.8h.9M67.8 236.2h.9M69.0 234.5h.9M85.9 226.5h.9M87.0 223.9h.9M70.6 232.2h.9M69.5 230.4h.9M64.2 222.0h.9M70.1 232.6h.9M62.7 238.8h.9M79.2 223.6h.9M86.1 195.5h.9M63.4 221.7h.9M97.2 234.2h.9M78.6 222.9h.9M70.2 212.2h.9M85.5 223.3h.9M71.6 226.1h.9M79.1 220.7h.9M74.3 224.6h.9M48.1 251.0h.9M79.7 231.6h.9M63.8 237.8h.9M81.7 224.3h.9M97.2 228.2h.9M54.9 228.0h.9M90.7 229.4h.9M88.3 224.9h.9M63.7 231.7h.9M80.1 216.0h.9M48.7 241.7h.9M111.3 215.7h.9M62.8 232.2h.9M73.3 223.3h.9M88.7 216.4h.9M67.4 247.0h.9M68.3 236.3h.9M72.4 227.9h.9M74.6 222.7h.9M56.0 237.7h.9M74.0 230.0h.9M80.9 224.8h.9M61.7 233.4h.9M48.9 249.1h.9M82.0 227.7h.9M71.8 229.7h.9M84.8 220.5h.9M85.1 225.5h.9M82.3 234.4h.9M65.8 233.1h.9M61.1 233.0h.9M99.8 223.9h.9M76.8 232.3h.9M91.1 222.5h.9M82.1 211.1h.9M68.7 238.1h.9M90.9 216.2h.9M62.6 235.9h.9M62.6 231.3h.9M88.4 211.6h.9M84.0 240.9h.9M89.1 219.9h.9M68.8 237.6h.9M95.4 217.2h.9M88.9 217.8h.9M79.0 223.4h.9M84.8 232.3h.9M57.3 243.0h.9M74.2 224.1h.9M74.0 236.7h.9M99.8 213.5h.9M70.7 218.0h.9M96.5 211.3h.9M68.6 223.8h.9M68.4 224.2h.9M76.9 231.3h.9M75.6 230.7h.9M70.7 245.4h.9M58.3 226.1h.9M68.4 227.2h.9M60.8 237.4h.9M72.0 220.4h.9M78.9 238.5h.9M81.1 222.1h.9M74.9 227.6h.9M76.8 233.9h.9M62.1 217.5h.9M69.7 224.9h.9M78.7 219.9h.9M85.5 239.7h.9M56.9 233.6h.9M47.0 230.3h.9M54.1 249.6h.9M58.3 225.7h.9M59.8 247.1h.9M63.5 235.0h.9M83.9 233.6h.9M100.9 216.3h.9M76.5 229.1h.9M101.1 219.7h.9M72.5 235.0h.9M77.5 227.0h.9M62.3 227.2h.9M60.9 226.4h.9M90.5 220.5h.9M66.5 248.6h.9M75.6 210.7h.9M98.8 216.0h.9M92.1 203.0h.9M82.0 226.6h.9M77.1 228.5h.9M79.3 211.3h.9M53.5 234.0h.9M64.9 231.6h.9M79.4 227.4h.9M71.3 225.6h.9M73.2 238.9h.9M83.2 222.7h.9M77.3 240.9h.9M70.1 238.7h.9M86.0 216.9h.9M78.4 215.6h.9M86.5 220.8h.9M58.8 248.4h.9M69.5 245.0h.9M65.5 235.2h.9M75.7 225.0h.9M74.5 224.0h.9M81.7 223.0h.9M64.0 212.7h.9M87.5 218.4h.9M54.0 247.2h.9M84.2 230.7h.9M68.6 248.2h.9M83.0 243.9h.9M75.4 234.6h.9M64.8 227.1h.9M90.7 223.8h.9M95.5 219.2h.9M59.9 226.1h.9M63.5 232.2h.9M67.3 240.5h.9M76.5 224.9h.9M75.3 227.1h.9M79.8 231.5h.9M81.9 216.6h.9M63.1 251.7h.9M80.3 234.3h.9M53.7 243.6h.9M67.8 221.5h.9M71.3 238.4h.9M93.6 227.6h.9M57.8 230.3h.9M84.2 229.5h.9M70.3 220.7h.9M86.5 226.2h.9M78.2 221.5h.9M81.1 230.8h.9M59.3 225.0h.9M79.9 228.9h.9M78.2 234.1h.9M66.9 234.7h.9M73.1 235.5h.9M91.2 212.7h.9M104.5 217.8h.9M85.7 225.0h.9M93.5 211.4h.9M67.9 224.9h.9M85.5 232.1h.9M82.0 226.6h.9M72.5 232.3h.9M62.4 248.9h.9M64.3 227.5h.9M61.7 232.3h.9M88.6 226.9h.9M62.6 247.6h.9M81.6 217.8h.9M53.6 239.9h.9M68.3 237.5h.9M60.8 222.1h.9M69.8 219.0h.9M78.9 214.3h.9M62.2 231.6h.9M73.6 241.7h.9M86.5 224.5h.9M70.7 218.1h.9M65.5 231.6h.9M65.1 241.7h.9M62.3 232.9h.9M52.7 228.6h.9M86.8 230.9h.9M71.6 222.6h.9M89.3 219.3h.9M91.3 228.5h.9M84.9 216.2h.9M89.6 223.5h.9M54.5 242.2h.9M57.2 242.7h.9M75.8 218.2h.9M85.0 233.7h.9M63.6 248.0h.9M106.8 220.2h.9M72.8 233.0h.9M76.7 236.3h.9M86.3 219.9h.9M61.7 246.6h.9M71.4 237.4h.9M84.3 235.6h.9M85.0 216.1h.9M86.0 235.6h.9M69.8 237.0h.9M93.3 224.7h.9M74.0 217.4h.9M60.6 243.0h.9M89.9 239.4h.9M69.2 243.9h.9M75.3 213.1h.9M65.4 238.3h.9M67.6 233.4h.9M75.7 220.6h.9M76.5 221.6h.9M70.2 237.6h.9M68.7 236.6h.9M92.5 214.2h.9M75.6 234.8h.9M74.7 238.8h.9M62.1 245.2h.9M64.5 230.2h.9M90.5 207.8h.9M97.1 216.0h.9M86.3 210.2h.9M94.3 225.7h.9M72.1 229.9h.9M103.0 206.7h.9M66.3 230.2h.9M80.6 227.0h.9M83.8 237.0h.9M72.4 235.2h.9M86.2 210.0h.9M94.2 229.3h.9M53.5 236.7h.9M53.8 229.6h.9M70.8 215.2h.9M86.3 232.5h.9M54.0 243.4h.9M55.5 252.2h.9M64.3 235.2h.9M77.1 231.9h.9M70.1 232.9h.9M68.2 235.4h.9M60.8 241.2h.9M49.6 245.5h.9M96.3 211.4h.9M60.7 243.1h.9M55.4 230.1h.9M68.9 240.6h.9M78.0 225.3h.9M58.5 232.7h.9M90.6 217.8h.9M53.6 227.4h.9M60.5 240.2h.9M75.7 226.6h.9M64.6 224.8h.9M69.6 248.7h.9M69.1 241.3h.9M53.3 244.4h.9M81.7 232.5h.9M63.8 243.5h.9M75.1 221.8h.9M75.4 220.1h.9M64.8 237.1h.9M55.9 231.3h.9M72.6 237.7h.9M75.1 240.2h.9M54.8 233.7h.9M93.6 216.6h.9M81.1 215.9h.9M84.4 223.1h.9M81.6 223.4h.9M84.9 214.4h.9M56.3 230.9h.9M84.0 214.3h.9M57.8 234.5h.9M63.2 227.0h.9M67.8 228.9h.9M63.3 229.7h.9M72.3 226.7h.9M76.4 229.7h.9M68.0 214.5h.9M64.3 230.4h.9M75.8 213.6h.9M64.5 234.8h.9M74.6 238.1h.9M73.3 238.9h.9M49.0 234.0h.9M90.0 220.1h.9M80.2 225.4h.9M74.1 218.3h.9M82.5 217.5h.9M85.7 220.4h.9M45.6 241.7h.9M86.3 217.9h.9M70.6 234.6h.9M66.7 230.7h.9M75.8 229.3h.9M91.6 215.1h.9M103.7 221.0h.9M98.5 218.6h.9M76.1 229.0h.9M69.1 227.0h.9M70.3 226.7h.9M95.2 216.5h.9M60.2 223.6h.9M71.5 227.8h.9M56.4 233.9h.9M84.9 244.0h.9M73.0 229.0h.9M91.2 216.3h.9M74.2 225.9h.9M73.8 243.4h.9M93.2 229.0h.9M70.1 233.0h.9M68.3 243.2h.9M60.6 246.0h.9M92.9 226.5h.9M68.1 244.4h.9M62.4 232.3h.9M64.0 248.5h.9M90.2 210.4h.9M63.8 235.0h.9M107.3 210.6h.9M59.7 225.1h.9M71.6 242.4h.9M94.2 210.0h.9M63.8 233.5h.9M56.5 252.6h.9M66.3 245.7h.9M48.7 239.2h.9M73.9 222.6h.9M83.0 222.0h.9M63.3 244.2h.9M75.0 211.1h.9M97.2 214.5h.9M74.3 212.2h.9M64.2 234.6h.9M79.8 211.3h.9M54.7 227.2h.9M72.8 233.7h.9M52.0 242.6h.9M87.0 233.1h.9M80.2 221.5h.9M56.3 235.9h.9M67.0 236.7h.9M80.9 238.9h.9M72.5 221.0h.9M96.0 219.7h.9M71.9 224.7h.9M47.9 242.1h.9M80.8 216.4h.9M59.7 243.3h.9M79.5 230.4h.9M87.9 230.7h.9M68.8 242.9h.9M65.8 242.8h.9M77.2 229.1h.9M85.0 220.1h.9M90.7 223.4h.9M73.0 225.2h.9M63.0 234.0h.9M71.6 231.3h.9M111.1 204.1h.9M78.9 217.5h.9M64.4 234.7h.9M71.5 222.1h.9M90.0 210.9h.9M75.8 206.6h.9M75.2 231.1h.9M78.9 230.9h.9M77.9 227.7h.9M49.1 244.0h.9M76.6 225.5h.9M62.0 234.3h.9M103.0 220.9h.9M79.1 237.0h.9M47.1 234.5h.9M64.5 229.5h.9M68.4 235.9h.9M105.7 196.7h.9M75.8 230.5h.9M77.8 234.8h.9M88.8 205.7h.9M74.7 226.5h.9M71.2 217.9h.9M43.4 234.1h.9M80.9 225.5h.9M64.2 216.1h.9M66.3 229.1h.9M53.7 238.3h.9M84.5 225.7h.9M76.1 232.5h.9M67.4 235.7h.9M77.0 232.1h.9M72.6 229.4h.9M69.5 227.3h.9M101.9 210.7h.9M89.3 237.6h.9M83.1 207.6h.9M85.8 227.3h.9M101.6 218.3h.9M77.5 215.8h.9M65.2 239.4h.9M75.2 219.2h.9M67.8 231.1h.9M76.2 230.7h.9M65.1 225.7h.9M95.5 226.0h.9M77.4 236.0h.9M82.1 228.7h.9M76.1 220.8h.9M85.1 229.4h.9M72.6 248.7h.9M106.2 219.1h.9M100.2 214.3h.9M67.4 229.6h.9M65.2 238.0h.9M76.6 233.4h.9M100.0 207.4h.9M83.9 225.5h.9M76.2 225.7h.9M68.9 226.3h.9M75.9 227.6h.9M73.8 221.8h.9M74.7 229.4h.9M76.1 218.0h.9M83.2 230.7h.9M79.2 221.8h.9M67.3 233.0h.9M89.4 230.8h.9M69.3 227.6h.9M79.2 227.0h.9M60.3 234.3h.9M75.9 234.1h.9M55.7 235.6h.9M74.2 218.1h.9M76.8 230.3h.9M68.1 225.1h.9M71.8 228.3h.9M74.1 221.8h.9M79.0 210.0h.9M72.0 231.2h.9M82.3 217.0h.9M77.7 221.2h.9M90.3 231.7h.9M71.4 235.7h.9M67.7 243.7h.9M88.0 218.0h.9M62.8 242.6h.9M92.1 224.2h.9M75.1 211.8h.9M72.6 243.7h.9M65.0 247.4h.9M99.0 215.4h.9M85.4 216.9h.9M59.5 240.8h.9M71.5 231.2h.9M81.3 222.0h.9M78.1 229.9h.9M82.3 239.4h.9M79.5 225.7h.9M68.8 228.2h.9M90.1 217.3h.9M59.1 236.9h.9" stroke="#8888ae" stroke-width=".9" stroke-opacity="0.4" fill="none"/>
<path d="M69.9 231.6h.9M77.4 221.6h.9M76.1 229.2h.9M63.1 239.7h.9M72.5 234.1h.9M69.3 235.8h.9M56.6 239.6h.9M80.6 230.0h.9M70.4 230.3h.9M75.2 218.9h.9M67.5 239.1h.9M74.5 224.8h.9M61.1 248.4h.9M71.0 228.4h.9M74.6 234.3h.9M54.9 251.9h.9M72.6 221.2h.9M73.5 221.9h.9M81.7 225.8h.9M87.7 215.7h.9M74.6 235.0h.9M65.4 234.1h.9M69.0 234.2h.9M64.9 240.4h.9M76.3 228.7h.9M84.2 220.1h.9M80.7 222.0h.9M73.0 221.5h.9M73.1 230.2h.9M66.7 233.4h.9M67.6 232.1h.9M53.8 244.4h.9M66.5 234.0h.9M63.6 238.4h.9M77.4 226.2h.9M71.6 239.1h.9M81.7 228.4h.9M80.0 223.6h.9M73.7 236.1h.9M67.5 235.2h.9M75.8 230.6h.9M72.3 236.6h.9M72.4 235.3h.9M81.8 227.0h.9M74.8 223.9h.9M60.5 238.6h.9M79.3 233.3h.9M63.4 240.8h.9M63.7 235.4h.9M71.6 235.8h.9M76.5 234.1h.9M66.6 240.9h.9M79.3 226.2h.9M74.3 227.3h.9M62.7 237.8h.9M74.2 244.5h.9M72.3 239.9h.9M74.3 231.6h.9M75.8 224.9h.9M79.9 227.2h.9M61.9 243.5h.9M77.3 229.8h.9M83.1 220.6h.9M77.7 230.9h.9M68.1 241.3h.9M57.7 237.6h.9M73.3 225.5h.9M67.1 228.0h.9M69.8 228.3h.9M70.9 225.3h.9M74.8 228.3h.9M72.3 231.4h.9M69.8 227.3h.9M52.5 248.6h.9M63.7 236.7h.9M70.4 223.5h.9M64.7 235.1h.9M64.7 239.8h.9M68.9 230.5h.9M66.4 240.7h.9M68.4 237.9h.9M70.8 223.6h.9M63.7 239.0h.9M76.5 232.1h.9M80.7 229.8h.9M68.6 233.8h.9M76.9 225.8h.9M76.2 220.6h.9M76.6 227.3h.9M59.4 247.5h.9M74.4 230.1h.9M62.6 237.6h.9M81.5 219.9h.9M43.3 251.9h.9M62.5 239.3h.9M66.8 231.9h.9M68.1 240.5h.9M65.8 247.0h.9M65.2 232.3h.9M79.4 228.6h.9M65.9 240.9h.9M55.7 241.2h.9M80.0 224.0h.9M63.3 241.9h.9M79.0 226.0h.9M57.3 242.6h.9M77.1 231.5h.9M85.6 219.3h.9M68.2 235.0h.9M78.9 221.5h.9M75.3 215.6h.9M76.4 224.9h.9M77.2 231.0h.9M62.7 239.4h.9M75.3 232.2h.9M62.5 235.1h.9M63.5 251.8h.9M70.0 232.6h.9M62.8 244.3h.9M71.4 239.6h.9M78.6 226.6h.9M74.8 224.1h.9M68.1 232.4h.9M62.3 240.2h.9M74.4 237.1h.9M44.7 251.6h.9M63.8 236.6h.9M76.2 230.5h.9M71.1 230.4h.9M76.7 229.9h.9M57.3 243.1h.9M58.6 237.4h.9M73.3 231.2h.9M70.7 228.7h.9M68.2 230.6h.9M76.6 231.5h.9M88.5 224.4h.9M64.7 235.9h.9M65.6 238.9h.9M88.9 221.3h.9M52.1 242.5h.9M63.4 241.8h.9M72.7 232.9h.9M83.6 218.1h.9M70.3 243.2h.9M72.7 227.5h.9M52.8 240.6h.9M53.5 247.9h.9M74.8 234.6h.9M69.2 230.9h.9M71.0 242.3h.9M58.9 243.9h.9M73.7 233.6h.9M70.1 236.1h.9M77.9 226.3h.9M68.0 234.4h.9M64.1 237.6h.9M70.2 234.6h.9M85.4 227.2h.9M70.1 236.6h.9M76.1 232.3h.9M72.8 232.6h.9M66.5 232.7h.9M81.8 230.2h.9M78.1 229.0h.9M72.9 229.0h.9M60.0 245.4h.9M72.2 229.1h.9M67.7 241.9h.9M62.5 248.7h.9M82.7 234.8h.9M66.5 236.6h.9M68.5 235.7h.9M68.6 231.2h.9M78.3 222.8h.9M69.5 236.9h.9M66.8 234.2h.9M73.8 228.6h.9M62.2 239.7h.9M74.5 238.4h.9M66.0 241.9h.9M65.1 236.0h.9M70.2 234.9h.9M82.9 231.5h.9M70.4 240.0h.9M81.6 227.9h.9M68.4 239.5h.9M72.0 233.7h.9M71.6 235.7h.9M83.3 228.1h.9M72.9 236.2h.9M80.8 219.9h.9M80.0 218.6h.9M77.6 230.2h.9M84.0 223.3h.9M66.4 232.8h.9M64.3 242.3h.9M68.4 231.4h.9M74.2 226.3h.9M67.5 233.5h.9M88.2 225.6h.9M66.9 228.5h.9M74.3 230.4h.9M76.1 231.4h.9M71.8 236.8h.9M78.9 227.2h.9M67.7 233.2h.9M74.6 224.3h.9M68.9 230.8h.9M62.8 242.7h.9M71.9 232.3h.9M75.0 222.0h.9M72.2 233.3h.9M75.7 223.5h.9M78.0 228.0h.9M85.2 226.6h.9M81.5 234.7h.9M71.0 230.8h.9M67.1 231.5h.9M67.2 226.7h.9M72.4 233.8h.9M78.7 224.6h.9M81.0 221.2h.9M66.4 227.4h.9M64.2 234.6h.9M84.4 224.1h.9M65.0 240.5h.9M75.0 228.3h.9M71.4 231.0h.9M63.7 230.4h.9M74.4 236.2h.9M82.0 222.2h.9M65.9 236.1h.9M79.5 227.4h.9M68.5 236.7h.9M71.7 234.8h.9M65.4 230.4h.9M74.2 233.8h.9M63.5 238.7h.9M77.7 225.4h.9M72.0 241.8h.9M80.6 229.7h.9M68.8 242.6h.9M58.4 240.9h.9M80.7 231.1h.9M63.5 236.0h.9M68.9 225.3h.9M78.1 229.6h.9M70.0 236.3h.9M78.5 228.0h.9M79.5 233.0h.9M68.8 235.4h.9M70.6 238.2h.9M70.1 235.9h.9M73.2 231.3h.9M84.5 221.0h.9M84.5 225.5h.9M81.4 223.3h.9M80.7 228.3h.9M68.1 236.6h.9M71.0 232.7h.9M79.9 221.9h.9M55.4 237.6h.9M67.1 233.0h.9M73.4 233.5h.9M85.7 221.9h.9M73.7 227.1h.9M79.5 232.2h.9M77.3 218.2h.9M82.3 230.9h.9M74.6 222.7h.9M71.1 235.6h.9M73.1 227.1h.9M67.7 240.2h.9M65.6 244.3h.9M72.9 232.7h.9M60.8 238.6h.9M73.6 223.6h.9M83.9 215.2h.9M63.1 239.7h.9M77.3 231.1h.9M68.8 233.7h.9M68.9 231.9h.9M55.3 250.7h.9M74.2 230.9h.9M68.0 236.6h.9M71.7 231.9h.9M76.1 220.3h.9M71.3 227.5h.9M73.2 238.2h.9M63.8 238.4h.9M69.9 238.3h.9M60.8 233.4h.9M74.9 227.8h.9M72.2 237.0h.9M64.6 236.5h.9M74.1 232.2h.9M70.6 238.1h.9M87.5 217.0h.9M80.8 214.5h.9M81.5 222.3h.9M72.2 230.2h.9M64.3 232.4h.9M72.1 238.1h.9M79.6 224.0h.9M66.5 233.3h.9M67.4 244.5h.9M77.1 228.2h.9M66.0 232.2h.9M83.5 226.0h.9M67.3 240.7h.9M65.4 240.6h.9M64.0 236.8h.9M76.7 230.1h.9M77.5 223.4h.9M86.8 226.0h.9M73.0 233.4h.9M65.9 236.4h.9M62.5 240.4h.9M76.6 234.5h.9M80.9 228.4h.9M68.8 233.6h.9M70.0 234.7h.9M59.6 246.1h.9M59.3 240.3h.9M71.0 230.4h.9M84.0 221.4h.9M86.3 225.6h.9M69.3 236.2h.9M80.8 223.0h.9M71.3 229.9h.9M71.6 230.6h.9M75.0 234.3h.9M82.5 223.8h.9M75.5 233.1h.9M67.4 230.8h.9M78.0 222.5h.9M76.6 223.6h.9M83.0 217.8h.9M81.8 230.9h.9M68.4 242.1h.9M61.8 232.2h.9M78.9 229.5h.9M64.6 226.2h.9M70.9 231.5h.9M68.5 233.5h.9M57.5 241.5h.9M88.9 225.2h.9M67.7 232.2h.9M77.4 232.5h.9M74.6 224.3h.9M73.5 231.4h.9M85.4 226.4h.9M78.7 232.2h.9M72.7 238.7h.9M69.8 235.7h.9M76.6 223.8h.9M62.7 231.4h.9M73.1 230.8h.9M70.8 235.4h.9M56.4 245.0h.9M72.0 230.7h.9M81.9 232.0h.9M66.5 232.1h.9M67.8 236.0h.9M74.3 226.0h.9M76.9 223.0h.9M79.1 228.1h.9M80.5 235.2h.9M69.7 233.2h.9M77.5 231.5h.9M62.8 241.0h.9M68.0 238.3h.9M82.2 223.7h.9M71.6 233.2h.9M52.1 252.4h.9M76.5 229.0h.9M67.4 232.4h.9M73.5 236.5h.9M74.4 236.4h.9M52.0 246.6h.9M74.0 230.3h.9M58.2 240.4h.9M78.1 220.7h.9M62.1 235.1h.9M69.5 237.2h.9M71.6 222.7h.9M81.3 221.3h.9M71.6 240.3h.9M68.5 229.0h.9M65.6 233.9h.9M63.8 237.3h.9M79.3 227.6h.9M68.4 248.3h.9M65.0 238.4h.9M74.0 233.9h.9M70.7 235.3h.9M87.7 219.2h.9M64.8 239.6h.9M65.2 235.9h.9M74.2 231.8h.9M71.9 236.1h.9M67.5 229.6h.9M77.6 225.6h.9M79.4 222.7h.9M76.9 229.3h.9M48.7 244.5h.9M67.1 242.8h.9M60.3 246.2h.9M81.2 226.6h.9M75.8 226.4h.9M72.5 232.7h.9M76.8 231.4h.9M68.8 231.3h.9M68.8 236.6h.9M56.9 238.8h.9M67.7 233.0h.9M63.8 226.2h.9M68.9 233.4h.9M73.0 221.7h.9M70.9 235.2h.9M78.4 232.3h.9M77.3 222.5h.9M75.9 227.1h.9M69.7 241.3h.9M65.4 233.5h.9M67.0 232.1h.9M80.3 226.8h.9M83.3 224.5h.9M69.9 238.7h.9M66.1 234.8h.9M70.9 233.1h.9M79.4 222.9h.9M74.5 229.7h.9M60.2 236.7h.9M71.3 234.5h.9M75.5 231.4h.9M71.3 230.4h.9M72.8 226.5h.9M61.3 239.4h.9M60.3 239.4h.9M65.2 235.1h.9M69.8 230.0h.9M64.8 229.8h.9M71.0 228.6h.9M68.3 221.6h.9M66.7 237.7h.9M53.2 246.2h.9M72.9 231.7h.9M61.5 241.9h.9M70.8 228.3h.9M77.4 227.2h.9M71.1 230.6h.9M76.3 228.9h.9M81.5 226.2h.9M66.9 235.2h.9M77.9 225.3h.9M76.1 231.1h.9M65.2 226.6h.9M73.5 231.8h.9M71.2 229.0h.9M80.6 224.1h.9M65.7 233.9h.9M72.1 226.7h.9M69.3 243.9h.9M84.2 226.8h.9M83.5 225.2h.9M62.4 245.9h.9M82.3 225.7h.9M60.5 247.7h.9M80.9 222.1h.9M74.8 233.4h.9M74.0 235.6h.9M74.2 233.4h.9M69.1 227.3h.9M72.1 247.1h.9M77.2 233.9h.9M84.5 229.7h.9M74.7 226.9h.9M67.6 226.5h.9M72.8 235.7h.9M56.4 246.1h.9M81.3 230.6h.9M63.6 236.0h.9M55.7 240.8h.9M80.9 234.5h.9M66.8 243.1h.9M74.0 227.9h.9M82.3 211.2h.9M72.0 233.0h.9M92.1 223.7h.9M89.1 218.2h.9M82.5 229.7h.9M76.7 229.8h.9M69.7 232.0h.9M67.5 245.2h.9M63.7 228.9h.9M73.9 230.3h.9M77.6 236.0h.9M70.6 231.9h.9M66.4 236.6h.9M69.2 235.3h.9M96.2 213.5h.9M70.2 242.8h.9M80.4 228.9h.9M79.3 229.8h.9M80.4 231.8h.9M82.7 229.5h.9M68.3 235.1h.9M68.9 239.3h.9M77.1 225.5h.9M82.6 235.8h.9M78.5 221.1h.9M72.8 234.4h.9M72.7 233.3h.9M81.6 225.5h.9M65.5 240.9h.9M71.5 232.9h.9M64.5 231.6h.9M61.9 238.8h.9M57.6 231.0h.9M77.8 221.5h.9M67.9 238.1h.9M57.2 250.9h.9M67.8 238.7h.9M69.1 235.9h.9M72.8 231.3h.9M54.9 239.3h.9M75.1 236.3h.9M69.2 236.9h.9M74.4 232.3h.9M75.8 221.5h.9M73.6 229.8h.9M67.6 231.5h.9M63.7 234.0h.9M69.8 246.0h.9M84.7 221.4h.9M75.2 224.6h.9M46.9 244.3h.9M76.5 235.2h.9M69.3 229.4h.9M67.8 230.7h.9M61.1 240.1h.9M67.1 232.2h.9M63.2 234.9h.9M77.1 234.5h.9M75.8 239.7h.9M60.6 242.9h.9M63.0 238.8h.9M74.1 232.9h.9M79.1 223.3h.9M62.3 239.3h.9M72.5 228.2h.9M82.7 231.2h.9M62.3 242.0h.9M75.0 220.2h.9M73.0 230.1h.9M64.5 244.7h.9M72.5 229.3h.9M76.8 231.0h.9M79.1 228.8h.9M72.2 226.1h.9M69.2 235.0h.9M66.7 231.4h.9M59.0 244.1h.9M70.8 230.1h.9M66.8 232.1h.9M66.2 236.4h.9M68.8 238.0h.9M71.3 233.3h.9M78.1 233.1h.9M77.0 228.9h.9M68.9 230.7h.9M71.1 236.1h.9M72.8 229.5h.9M58.4 236.0h.9M76.8 232.9h.9M71.5 225.8h.9M70.9 234.0h.9M66.0 238.7h.9M68.5 230.9h.9M64.7 242.1h.9M72.5 227.2h.9M66.6 240.9h.9M75.7 227.4h.9M83.2 221.2h.9M66.7 241.7h.9M71.4 234.2h.9M69.9 228.9h.9M62.7 238.9h.9M80.1 220.3h.9M82.6 224.1h.9M64.4 239.7h.9M74.1 225.9h.9M57.0 246.4h.9M64.8 240.2h.9M57.4 243.6h.9M62.4 232.9h.9M70.6 234.0h.9M65.0 232.2h.9M69.4 225.7h.9M77.1 230.0h.9M86.6 224.0h.9M75.3 230.5h.9M69.0 228.1h.9M84.1 224.3h.9M67.1 230.6h.9M84.3 224.2h.9M64.8 241.3h.9M86.0 220.1h.9M74.0 228.3h.9M69.9 239.0h.9M95.2 213.1h.9M73.0 235.0h.9M71.5 236.0h.9M75.7 223.9h.9M63.9 238.5h.9M78.8 227.6h.9M77.9 220.4h.9M74.2 227.2h.9M73.5 232.3h.9M64.3 237.4h.9M64.0 240.0h.9M64.5 235.9h.9M72.1 228.8h.9M79.0 223.0h.9M79.0 227.5h.9M63.8 237.8h.9M64.9 236.2h.9M74.3 238.8h.9M72.6 239.0h.9M72.2 225.5h.9M56.5 248.4h.9M58.9 246.5h.9M80.6 226.7h.9M69.9 232.6h.9M73.2 229.5h.9M67.2 234.3h.9M79.2 222.9h.9M72.1 226.4h.9M63.5 232.6h.9M72.2 235.2h.9M73.1 228.7h.9M75.7 227.2h.9M75.4 230.4h.9M70.1 221.7h.9M64.2 242.3h.9M76.5 239.0h.9M69.0 231.9h.9" stroke="#585882" stroke-width=".9" stroke-opacity="0.45" fill="none"/>
<path d="M46.2 250.7h.9M46.6 250.5h.9M44.6 251.5h.9M44.0 245.8h.9M44.3 246.9h.9M45.6 245.7h.9M45.1 245.6h.9M45.7 234.7h.9M44.6 248.8h.9M43.8 252.9h.9M45.7 251.1h.9M44.7 242.7h.9M44.6 245.8h.9M45.0 245.8h.9M47.8 240.3h.9M45.9 245.7h.9M44.6 252.5h.9M44.8 242.1h.9M45.2 247.1h.9M43.8 244.4h.9M45.3 249.4h.9M45.2 245.0h.9M45.0 247.4h.9M44.6 246.7h.9M44.3 252.7h.9M44.7 249.8h.9M44.4 247.2h.9M43.9 244.9h.9M46.0 249.3h.9M46.0 252.1h.9M45.7 252.8h.9M44.2 251.9h.9" stroke="#9080b0" stroke-width=".9" stroke-opacity="0.5" fill="none"/>
<path d="M43.8 252.0h.9M44.6 251.8h.9M44.2 252.8h.9M44.3 252.2h.9M44.1 252.9h.9" stroke="#c04060" stroke-width=".9" stroke-opacity="0.7" fill="none"/>
<path d="M51.8 238.5 L54.4 224.5 L68.3 208.1 L82.8 203.0 L99.4 214.4 L92.3 237.2 L80.9 242.3 L60.7 248.0 Z" fill="none" stroke="#3a3a3a" stroke-width="0.9" stroke-linejoin="round"/>
<text x="72.9" y="193.8" font-size="7.5" text-anchor="middle" fill="#262626" stroke="#262626" stroke-width="0.18">THP-1</text>
<text x="72.9" y="201.9" font-size="7.6" text-anchor="middle" fill="#262626" stroke="#262626" stroke-width="0.18">80.5%</text>
<rect x="42.5" y="181.5" width="73.5" height="73.0" fill="none" stroke="#c9c9c9" stroke-width="1"/>
<line x1="40.5" y1="254.5" x2="42.5" y2="254.5" stroke="#444" stroke-width="0.9"/>
<text x="38.2" y="257.2" font-size="7.6" text-anchor="end" fill="#2e2e2e" stroke="#2e2e2e" stroke-width="0.18">0</text>
<line x1="41.3" y1="251.708" x2="42.5" y2="251.708" stroke="#999" stroke-width="0.6"/>
<line x1="41.3" y1="248.916" x2="42.5" y2="248.916" stroke="#999" stroke-width="0.6"/>
<line x1="41.3" y1="246.124" x2="42.5" y2="246.124" stroke="#999" stroke-width="0.6"/>
<line x1="41.3" y1="243.332" x2="42.5" y2="243.332" stroke="#999" stroke-width="0.6"/>
<line x1="40.5" y1="240.54" x2="42.5" y2="240.54" stroke="#444" stroke-width="0.9"/>
<text x="38.2" y="243.23999999999998" font-size="7.6" text-anchor="end" fill="#2e2e2e" stroke="#2e2e2e" stroke-width="0.18">50K</text>
<line x1="41.3" y1="237.748" x2="42.5" y2="237.748" stroke="#999" stroke-width="0.6"/>
<line x1="41.3" y1="234.956" x2="42.5" y2="234.956" stroke="#999" stroke-width="0.6"/>
<line x1="41.3" y1="232.164" x2="42.5" y2="232.164" stroke="#999" stroke-width="0.6"/>
<line x1="41.3" y1="229.37199999999999" x2="42.5" y2="229.37199999999999" stroke="#999" stroke-width="0.6"/>
<line x1="40.5" y1="226.58" x2="42.5" y2="226.58" stroke="#444" stroke-width="0.9"/>
<text x="38.2" y="229.28" font-size="7.6" text-anchor="end" fill="#2e2e2e" stroke="#2e2e2e" stroke-width="0.18">100K</text>
<line x1="41.3" y1="223.788" x2="42.5" y2="223.788" stroke="#999" stroke-width="0.6"/>
<line x1="41.3" y1="220.996" x2="42.5" y2="220.996" stroke="#999" stroke-width="0.6"/>
<line x1="41.3" y1="218.204" x2="42.5" y2="218.204" stroke="#999" stroke-width="0.6"/>
<line x1="41.3" y1="215.412" x2="42.5" y2="215.412" stroke="#999" stroke-width="0.6"/>
<line x1="40.5" y1="212.62" x2="42.5" y2="212.62" stroke="#444" stroke-width="0.9"/>
<text x="38.2" y="215.32" font-size="7.6" text-anchor="end" fill="#2e2e2e" stroke="#2e2e2e" stroke-width="0.18">150K</text>
<line x1="41.3" y1="209.828" x2="42.5" y2="209.828" stroke="#999" stroke-width="0.6"/>
<line x1="41.3" y1="207.036" x2="42.5" y2="207.036" stroke="#999" stroke-width="0.6"/>
<line x1="41.3" y1="204.244" x2="42.5" y2="204.244" stroke="#999" stroke-width="0.6"/>
<line x1="41.3" y1="201.452" x2="42.5" y2="201.452" stroke="#999" stroke-width="0.6"/>
<line x1="40.5" y1="198.66" x2="42.5" y2="198.66" stroke="#444" stroke-width="0.9"/>
<text x="38.2" y="201.35999999999999" font-size="7.6" text-anchor="end" fill="#2e2e2e" stroke="#2e2e2e" stroke-width="0.18">200K</text>
<line x1="41.3" y1="195.868" x2="42.5" y2="195.868" stroke="#999" stroke-width="0.6"/>
<line x1="41.3" y1="193.076" x2="42.5" y2="193.076" stroke="#999" stroke-width="0.6"/>
<line x1="41.3" y1="190.284" x2="42.5" y2="190.284" stroke="#999" stroke-width="0.6"/>
<line x1="41.3" y1="187.492" x2="42.5" y2="187.492" stroke="#999" stroke-width="0.6"/>
<line x1="40.5" y1="184.7" x2="42.5" y2="184.7" stroke="#444" stroke-width="0.9"/>
<text x="38.2" y="187.39999999999998" font-size="7.6" text-anchor="end" fill="#2e2e2e" stroke="#2e2e2e" stroke-width="0.18">250K</text>
<line x1="41.3" y1="181.908" x2="42.5" y2="181.908" stroke="#999" stroke-width="0.6"/>
<line x1="42.2" y1="254.5" x2="42.2" y2="256.8" stroke="#555" stroke-width="0.8"/>
<text transform="translate(44.800000000000004,261.7) rotate(-47)" font-size="7.4" text-anchor="end" fill="#2e2e2e" stroke="#2e2e2e" stroke-width="0.18">0</text>
<line x1="55.0" y1="254.5" x2="55.0" y2="256.8" stroke="#555" stroke-width="0.8"/>
<text transform="translate(57.6,261.7) rotate(-47)" font-size="7.4" text-anchor="end" fill="#2e2e2e" stroke="#2e2e2e" stroke-width="0.18">50K</text>
<line x1="67.80000000000001" y1="254.5" x2="67.80000000000001" y2="256.8" stroke="#555" stroke-width="0.8"/>
<text transform="translate(70.4,261.7) rotate(-47)" font-size="7.4" text-anchor="end" fill="#2e2e2e" stroke="#2e2e2e" stroke-width="0.18">100K</text>
<line x1="80.60000000000001" y1="254.5" x2="80.60000000000001" y2="256.8" stroke="#555" stroke-width="0.8"/>
<text transform="translate(83.2,261.7) rotate(-47)" font-size="7.4" text-anchor="end" fill="#2e2e2e" stroke="#2e2e2e" stroke-width="0.18">150K</text>
<line x1="93.4" y1="254.5" x2="93.4" y2="256.8" stroke="#555" stroke-width="0.8"/>
<text transform="translate(96.0,261.7) rotate(-47)" font-size="7.4" text-anchor="end" fill="#2e2e2e" stroke="#2e2e2e" stroke-width="0.18">200K</text>
<line x1="106.2" y1="254.5" x2="106.2" y2="256.8" stroke="#555" stroke-width="0.8"/>
<text transform="translate(108.8,261.7) rotate(-47)" font-size="7.4" text-anchor="end" fill="#2e2e2e" stroke="#2e2e2e" stroke-width="0.18">250K</text>
<line x1="44.760000000000005" y1="254.5" x2="44.760000000000005" y2="255.6" stroke="#999" stroke-width="0.6"/>
<line x1="47.32" y1="254.5" x2="47.32" y2="255.6" stroke="#999" stroke-width="0.6"/>
<line x1="49.88" y1="254.5" x2="49.88" y2="255.6" stroke="#999" stroke-width="0.6"/>
<line x1="52.44" y1="254.5" x2="52.44" y2="255.6" stroke="#999" stroke-width="0.6"/>
<line x1="57.56" y1="254.5" x2="57.56" y2="255.6" stroke="#999" stroke-width="0.6"/>
<line x1="60.120000000000005" y1="254.5" x2="60.120000000000005" y2="255.6" stroke="#999" stroke-width="0.6"/>
<line x1="62.68000000000001" y1="254.5" x2="62.68000000000001" y2="255.6" stroke="#999" stroke-width="0.6"/>
<line x1="65.24000000000001" y1="254.5" x2="65.24000000000001" y2="255.6" stroke="#999" stroke-width="0.6"/>
<line x1="70.36000000000001" y1="254.5" x2="70.36000000000001" y2="255.6" stroke="#999" stroke-width="0.6"/>
<line x1="72.92000000000002" y1="254.5" x2="72.92000000000002" y2="255.6" stroke="#999" stroke-width="0.6"/>
<line x1="75.48" y1="254.5" x2="75.48" y2="255.6" stroke="#999" stroke-width="0.6"/>
<line x1="78.04" y1="254.5" x2="78.04" y2="255.6" stroke="#999" stroke-width="0.6"/>
<line x1="83.16000000000001" y1="254.5" x2="83.16000000000001" y2="255.6" stroke="#999" stroke-width="0.6"/>
<line x1="85.72000000000001" y1="254.5" x2="85.72000000000001" y2="255.6" stroke="#999" stroke-width="0.6"/>
<line x1="88.28" y1="254.5" x2="88.28" y2="255.6" stroke="#999" stroke-width="0.6"/>
<line x1="90.84" y1="254.5" x2="90.84" y2="255.6" stroke="#999" stroke-width="0.6"/>
<line x1="95.96000000000001" y1="254.5" x2="95.96000000000001" y2="255.6" stroke="#999" stroke-width="0.6"/>
<line x1="98.52000000000001" y1="254.5" x2="98.52000000000001" y2="255.6" stroke="#999" stroke-width="0.6"/>
<line x1="101.08" y1="254.5" x2="101.08" y2="255.6" stroke="#999" stroke-width="0.6"/>
<line x1="103.64" y1="254.5" x2="103.64" y2="255.6" stroke="#999" stroke-width="0.6"/>
<text x="78.6" y="287.9" font-size="9.2" text-anchor="middle" font-weight="bold" fill="#1a1a1a" textLength="18.2" lengthAdjust="spacingAndGlyphs" stroke="#1a1a1a" stroke-width="0.144">FSC-A</text>
<text transform="translate(14.6,218.0) rotate(-90)" font-size="8.6" text-anchor="middle" font-weight="bold" fill="#1a1a1a" textLength="17.6" lengthAdjust="spacingAndGlyphs" stroke="#1a1a1a" stroke-width="0.144">SSC-A</text>
<ellipse cx="204" cy="235" rx="19" ry="2.8" transform="rotate(-28.6 204 235)" fill="#8c8cc4" fill-opacity="0.45" filter="url(#bl)"/>
<path d="M194.6 241.6h.9M221.0 225.1h.9M185.1 246.5h.9M217.0 227.7h.9M207.8 232.8h.9M215.1 228.3h.9M190.4 242.5h.9M200.7 237.5h.9M205.3 233.6h.9M188.6 246.0h.9M208.4 233.2h.9M217.8 229.9h.9M214.3 230.9h.9M209.4 232.9h.9M225.9 225.0h.9M213.3 230.9h.9M217.6 226.5h.9M204.5 237.8h.9M223.9 227.5h.9M201.4 237.0h.9M201.6 237.7h.9M215.1 230.0h.9M212.9 231.4h.9M190.3 243.6h.9M192.4 241.7h.9M225.4 224.8h.9M226.0 223.8h.9M204.1 233.3h.9M217.6 230.1h.9M210.1 230.4h.9M191.5 240.0h.9M216.2 226.7h.9M187.8 243.7h.9M190.3 241.4h.9M224.2 223.6h.9M188.9 241.4h.9M220.0 229.6h.9M214.7 228.2h.9M219.2 227.7h.9M201.3 234.4h.9M218.9 227.9h.9M195.2 236.7h.9M223.3 222.4h.9M188.6 242.9h.9M224.8 224.4h.9M218.8 226.3h.9M194.0 241.2h.9M194.6 241.9h.9M205.7 236.7h.9M213.3 229.0h.9M200.7 237.7h.9M211.5 228.4h.9M223.8 225.2h.9M187.2 243.2h.9M211.7 231.9h.9M208.4 231.5h.9M219.1 227.2h.9M204.5 234.9h.9M185.3 246.8h.9M202.5 238.2h.9M208.8 231.2h.9M193.1 241.5h.9M199.4 239.1h.9M195.5 238.0h.9M187.6 243.8h.9M203.7 238.2h.9M211.9 231.4h.9M212.4 230.0h.9M185.9 245.3h.9M195.0 239.2h.9M224.0 224.1h.9M221.7 226.5h.9M210.2 233.3h.9M204.5 233.9h.9M222.8 221.9h.9M191.9 241.6h.9M219.3 228.0h.9M184.4 246.8h.9M192.0 243.2h.9M217.8 227.4h.9M194.4 240.0h.9M207.5 234.1h.9M219.7 225.6h.9M223.0 225.0h.9M221.4 225.7h.9M210.0 231.5h.9M203.3 237.3h.9M211.6 230.8h.9M209.9 230.6h.9M213.0 231.9h.9M221.6 224.7h.9M225.0 224.0h.9M186.8 245.4h.9M206.4 231.6h.9M202.8 235.9h.9M213.2 227.0h.9M216.1 230.2h.9M189.9 243.1h.9M224.2 224.9h.9M208.4 232.3h.9M208.9 234.4h.9M215.6 229.5h.9M210.7 231.1h.9M197.4 241.6h.9M205.0 230.3h.9M212.2 233.2h.9M217.5 227.4h.9M224.0 223.6h.9M213.6 229.7h.9M190.4 241.5h.9M208.8 234.2h.9M197.5 236.1h.9M188.7 240.7h.9M190.7 242.1h.9M215.3 229.9h.9M186.6 245.5h.9M195.2 236.8h.9M225.2 225.8h.9M191.3 240.8h.9M193.7 244.1h.9M197.2 238.2h.9M195.0 240.4h.9M199.1 234.5h.9M196.3 242.1h.9M193.1 242.5h.9M218.8 226.5h.9M210.9 231.9h.9M189.9 241.7h.9M215.0 227.4h.9M212.3 231.2h.9M215.5 228.9h.9M223.0 226.2h.9M206.0 233.6h.9M195.8 241.9h.9M217.6 230.8h.9M208.2 233.9h.9M199.4 239.0h.9M194.0 240.2h.9M186.2 243.0h.9M212.1 230.1h.9M201.5 237.0h.9M196.6 238.5h.9M212.1 233.4h.9M212.9 230.1h.9M215.3 226.3h.9M216.1 231.1h.9M197.3 236.4h.9M199.5 239.6h.9M192.3 242.8h.9M205.2 233.0h.9M212.4 231.5h.9M198.0 238.0h.9M186.3 243.6h.9M220.1 227.5h.9M211.4 229.8h.9M207.7 232.4h.9M196.2 241.1h.9M218.4 225.6h.9M189.9 241.8h.9M203.9 232.7h.9M222.4 227.1h.9M217.9 226.4h.9M211.5 231.9h.9M213.3 229.7h.9M213.1 229.4h.9M186.6 244.0h.9M209.6 232.9h.9M192.5 240.4h.9M194.2 242.4h.9M225.3 224.8h.9M217.1 226.8h.9M187.6 245.5h.9M219.2 227.1h.9M210.5 231.9h.9M189.8 242.8h.9M203.0 236.5h.9M207.4 233.7h.9M218.6 227.1h.9M188.8 243.7h.9M199.3 240.2h.9M197.5 237.7h.9M217.1 227.8h.9M193.4 242.4h.9M205.4 231.8h.9M185.3 245.3h.9M205.0 234.3h.9M202.8 238.3h.9M214.8 230.4h.9M207.8 231.5h.9M209.2 233.7h.9M194.9 243.6h.9M216.3 225.1h.9M223.7 223.2h.9M188.3 246.8h.9M204.6 236.3h.9M213.2 231.7h.9M213.2 228.9h.9M192.1 242.0h.9M200.8 236.8h.9M215.3 230.2h.9M205.2 233.5h.9M213.7 230.5h.9M192.2 241.4h.9M214.3 231.9h.9M224.9 224.1h.9M221.4 223.0h.9M214.3 229.7h.9M192.4 241.0h.9M185.0 246.5h.9M209.6 230.2h.9M194.8 239.6h.9M210.9 232.4h.9M225.6 223.6h.9M191.5 242.4h.9M200.0 240.0h.9M202.3 234.3h.9M188.5 244.1h.9M216.9 228.9h.9M205.5 238.5h.9M217.3 228.0h.9M204.2 235.6h.9M188.3 243.1h.9M207.2 232.4h.9M194.6 240.3h.9M185.5 246.6h.9M223.3 224.0h.9M224.5 222.7h.9M200.6 238.2h.9M218.3 228.1h.9M184.3 245.3h.9M192.5 240.2h.9M184.2 245.4h.9M219.0 227.6h.9M185.3 244.1h.9M221.1 225.6h.9M197.5 238.6h.9M210.9 233.1h.9M210.3 230.6h.9M192.7 241.5h.9M201.7 240.4h.9M188.1 243.2h.9M192.2 241.2h.9M202.2 234.0h.9M213.2 229.2h.9M203.6 238.2h.9M186.6 245.4h.9M202.9 233.7h.9M214.6 231.1h.9M193.5 239.5h.9M202.9 233.6h.9M190.6 244.0h.9M186.3 243.9h.9M194.5 241.5h.9M200.4 237.1h.9M217.5 229.0h.9M214.3 227.7h.9M186.6 247.1h.9M218.6 229.7h.9M185.9 245.7h.9M223.2 225.3h.9M192.5 239.8h.9M209.3 228.9h.9M222.6 225.3h.9M185.0 246.1h.9M217.2 231.6h.9M214.9 232.1h.9M192.0 242.0h.9M205.1 233.7h.9M188.7 244.1h.9M221.5 223.5h.9M184.4 246.5h.9M217.9 226.4h.9M204.4 233.3h.9M217.0 227.0h.9M187.8 245.4h.9M196.5 240.0h.9M201.9 239.3h.9M185.0 245.5h.9M219.1 227.8h.9M188.6 242.2h.9M211.5 231.8h.9M189.2 244.5h.9M224.6 223.3h.9M187.8 243.6h.9M215.4 231.0h.9M187.4 242.2h.9M199.0 237.0h.9M191.1 244.4h.9M210.7 234.7h.9M184.2 245.7h.9M187.7 245.4h.9M209.9 233.9h.9M205.1 232.9h.9M209.9 232.6h.9M212.3 233.3h.9M217.0 227.1h.9M222.8 226.2h.9M184.7 244.2h.9M213.0 231.5h.9M220.4 225.4h.9M192.2 243.1h.9M213.4 229.6h.9M194.4 240.0h.9M198.2 239.9h.9M186.6 241.3h.9M212.2 232.6h.9M223.2 225.2h.9M225.0 222.1h.9M215.5 228.9h.9M201.9 237.8h.9M185.0 245.7h.9M223.7 227.2h.9M198.0 238.9h.9M220.5 224.3h.9M217.1 227.6h.9M218.6 227.3h.9M196.7 238.1h.9M206.1 232.9h.9M224.9 224.8h.9M212.0 232.8h.9M207.3 235.2h.9M222.2 225.1h.9M213.3 231.0h.9M192.9 241.1h.9M196.2 239.7h.9M194.9 240.0h.9M214.5 230.7h.9M202.4 236.1h.9M212.4 229.8h.9M214.6 227.2h.9M194.4 240.4h.9M213.2 230.8h.9M192.7 241.1h.9M212.9 235.0h.9M208.3 231.7h.9M212.4 228.9h.9M197.0 239.6h.9M184.7 245.8h.9M199.4 238.3h.9M205.0 235.4h.9M224.6 223.9h.9M215.8 227.8h.9M191.9 242.8h.9M201.5 237.5h.9M211.9 228.5h.9M188.3 244.4h.9M222.7 224.1h.9M186.0 246.6h.9M219.0 227.7h.9M218.9 230.2h.9M212.2 230.9h.9M192.1 241.9h.9M222.4 226.4h.9M209.6 234.5h.9M211.9 231.4h.9M188.3 244.3h.9M224.8 223.0h.9M208.7 234.5h.9M193.5 241.2h.9M219.8 226.9h.9M190.0 244.0h.9M214.2 229.5h.9M189.9 243.1h.9M198.8 236.8h.9M206.4 235.0h.9M217.7 228.7h.9M195.1 238.0h.9M194.1 242.3h.9M192.3 241.9h.9M200.0 239.1h.9M209.5 228.9h.9M186.3 245.2h.9M212.1 231.6h.9M185.0 244.8h.9M203.0 237.3h.9M214.4 230.9h.9M188.4 244.7h.9M191.8 242.9h.9M193.4 240.2h.9M186.9 244.6h.9M197.5 234.8h.9M207.6 234.2h.9M187.1 244.7h.9M208.9 235.6h.9M221.6 228.4h.9M188.4 243.1h.9M223.3 224.1h.9M191.1 242.0h.9M220.4 226.6h.9M195.4 240.5h.9M222.0 223.8h.9M187.3 244.7h.9M202.8 235.4h.9M212.3 231.9h.9M200.7 240.7h.9M205.7 237.9h.9M192.4 243.6h.9M205.7 234.6h.9M184.3 244.1h.9M206.8 234.3h.9M193.0 239.1h.9M211.4 231.4h.9M190.5 243.6h.9M213.6 226.5h.9M219.2 225.2h.9M192.6 243.7h.9M192.4 238.8h.9M186.8 243.0h.9M193.8 242.4h.9M190.0 243.1h.9M192.0 241.7h.9M222.8 223.7h.9M200.8 236.9h.9M223.8 224.5h.9M193.0 239.3h.9M223.9 224.8h.9M205.7 236.9h.9M193.0 241.0h.9M219.7 228.5h.9M206.0 241.0h.9M194.0 241.9h.9M200.9 236.5h.9M198.3 238.1h.9M199.6 237.3h.9M190.8 242.4h.9M209.5 232.3h.9M194.0 238.7h.9M214.1 230.5h.9M189.8 242.9h.9M224.6 224.8h.9M190.7 243.5h.9M209.1 234.2h.9M221.6 226.7h.9M191.2 242.5h.9M207.9 231.5h.9M221.5 226.3h.9M212.9 233.2h.9M194.0 237.5h.9M223.4 224.6h.9M222.5 225.6h.9M188.8 244.5h.9M196.2 239.6h.9M224.9 224.8h.9M205.7 233.0h.9M219.9 227.4h.9M204.5 232.5h.9M188.9 243.4h.9M209.7 234.8h.9M218.9 230.3h.9M191.2 239.9h.9M187.7 245.3h.9M191.2 241.0h.9M213.1 230.4h.9M199.9 238.8h.9M205.9 234.0h.9M214.9 228.9h.9M209.1 230.0h.9M217.7 228.3h.9M183.8 244.6h.9M213.9 230.3h.9M212.0 232.9h.9M218.4 231.0h.9M192.3 238.0h.9M193.4 242.6h.9M202.7 239.7h.9M193.4 240.2h.9M214.3 228.3h.9M216.9 230.1h.9M189.4 243.3h.9M195.6 240.9h.9M185.8 245.8h.9M202.2 237.6h.9M186.2 242.3h.9M207.4 231.4h.9M198.7 237.6h.9M190.8 240.9h.9M205.4 237.3h.9M190.9 242.6h.9M200.7 239.9h.9M218.9 226.8h.9" stroke="#6262aa" stroke-width=".9" stroke-opacity="0.42" fill="none"/>
<path d="M208.0 231.8h.9M219.5 226.0h.9M192.9 241.3h.9M194.6 239.4h.9M214.1 228.2h.9M216.2 227.6h.9M206.6 233.9h.9M204.8 235.0h.9M211.4 231.2h.9M186.3 245.1h.9M192.1 241.7h.9M194.0 240.6h.9M194.9 239.4h.9M185.8 243.0h.9M190.9 244.5h.9M190.8 241.4h.9M197.3 237.8h.9M200.5 237.0h.9M202.8 235.9h.9M189.1 243.6h.9M192.2 242.8h.9M210.7 232.4h.9M195.4 240.4h.9M197.2 237.1h.9M203.7 236.5h.9M206.7 236.4h.9M188.1 244.6h.9M200.1 238.9h.9M211.2 231.6h.9M214.8 231.2h.9M189.1 242.8h.9M210.6 231.3h.9M214.2 229.9h.9M189.0 242.8h.9M209.0 231.9h.9M192.7 241.2h.9M207.0 235.0h.9M194.8 241.2h.9M194.5 239.2h.9M211.6 231.7h.9M187.0 244.3h.9M195.8 238.9h.9M208.1 232.4h.9M217.1 227.0h.9M192.9 240.7h.9M195.8 241.2h.9M191.6 242.2h.9M215.6 230.6h.9M211.9 232.9h.9M196.6 238.7h.9M197.0 239.0h.9M207.2 233.1h.9M189.5 244.1h.9M191.4 242.4h.9M218.9 227.8h.9M192.6 240.6h.9M189.7 241.9h.9M198.7 238.1h.9M210.3 229.9h.9M189.6 242.8h.9M188.2 243.1h.9M195.2 240.8h.9M209.5 232.4h.9M203.1 236.8h.9M211.0 231.6h.9M201.1 235.6h.9M218.9 228.2h.9M189.5 242.6h.9M201.7 235.8h.9M187.1 243.9h.9M220.5 226.6h.9M202.2 235.9h.9M207.6 233.1h.9M212.4 231.0h.9M212.8 230.0h.9M199.9 237.7h.9M189.4 243.4h.9M196.0 239.5h.9M213.0 230.7h.9M188.6 243.9h.9M191.0 240.5h.9M191.8 241.5h.9M192.1 241.8h.9M197.3 237.6h.9M190.4 242.7h.9M191.1 244.6h.9M195.0 240.0h.9M216.9 226.4h.9M203.2 237.3h.9M195.9 239.2h.9M202.1 235.8h.9M189.9 241.4h.9M193.0 241.7h.9M214.4 229.4h.9M197.9 238.6h.9M202.8 236.8h.9M221.0 226.8h.9M198.0 240.3h.9M192.0 241.7h.9M192.2 240.7h.9M201.1 237.9h.9M205.2 232.4h.9M186.4 244.9h.9M217.0 227.0h.9M219.0 226.4h.9M215.4 230.8h.9M195.0 239.4h.9M198.7 239.0h.9M199.5 238.3h.9M218.0 228.0h.9M199.7 235.9h.9M211.7 229.3h.9M195.3 241.7h.9M220.4 225.7h.9M211.5 231.2h.9M194.0 238.6h.9M208.3 231.3h.9M191.2 243.4h.9M204.4 233.8h.9M198.9 239.9h.9M216.0 229.8h.9M190.2 241.2h.9M218.8 227.1h.9M208.1 231.2h.9M188.0 244.6h.9M201.5 235.5h.9M198.1 238.9h.9M215.8 227.3h.9M193.3 240.6h.9M189.7 243.5h.9M198.3 240.4h.9M194.1 240.9h.9M189.0 244.6h.9M193.2 241.8h.9M201.4 234.8h.9M219.7 227.5h.9M196.2 237.8h.9M201.6 234.5h.9M217.5 227.8h.9M216.3 227.8h.9M206.6 235.1h.9M215.4 229.9h.9M203.6 234.2h.9M216.9 228.3h.9M209.4 232.6h.9M199.2 238.9h.9M219.5 226.7h.9M217.8 227.3h.9M186.9 243.8h.9M210.8 230.9h.9M201.6 237.8h.9M215.0 229.9h.9M213.4 229.7h.9M212.3 231.3h.9M214.2 230.1h.9M221.3 227.2h.9M200.6 235.7h.9M218.9 228.0h.9M192.9 240.9h.9M212.0 231.8h.9M192.1 240.6h.9M209.2 232.0h.9M192.7 245.4h.9M205.0 233.2h.9M214.2 230.6h.9M206.3 236.5h.9M212.9 231.1h.9M218.1 227.0h.9M193.8 242.0h.9M217.5 228.0h.9M217.9 228.7h.9M218.5 227.1h.9M206.1 235.2h.9M214.6 230.6h.9M200.5 236.4h.9M195.4 239.4h.9M200.1 235.9h.9M189.2 243.2h.9M185.9 244.4h.9M212.8 231.9h.9M194.3 240.5h.9M192.6 242.6h.9M207.4 234.1h.9M206.3 233.5h.9M211.2 231.3h.9M210.1 230.1h.9M196.1 240.9h.9M187.2 242.8h.9M218.9 226.8h.9M188.5 243.8h.9M213.8 229.7h.9M201.8 235.8h.9M208.8 233.7h.9M212.8 230.4h.9M194.7 240.5h.9M200.6 237.7h.9M207.5 233.1h.9M193.9 241.3h.9M189.1 243.6h.9M204.1 236.2h.9M192.0 240.7h.9M220.1 226.6h.9M203.6 236.8h.9M192.8 240.9h.9M206.9 234.1h.9M188.7 243.9h.9M211.0 232.6h.9M198.3 238.1h.9M200.4 236.0h.9M200.3 238.7h.9M191.7 242.7h.9M185.9 244.3h.9M215.7 228.8h.9M207.6 232.2h.9M217.9 227.0h.9M196.7 239.9h.9M205.0 233.7h.9M218.8 226.1h.9M190.6 241.3h.9M214.3 231.1h.9M206.4 233.4h.9M218.8 226.6h.9M205.0 234.1h.9M190.2 243.1h.9M217.4 228.0h.9M197.2 238.7h.9M202.3 235.0h.9M217.3 228.0h.9M197.1 236.3h.9M208.1 232.4h.9M202.4 235.5h.9M207.8 234.2h.9M213.5 230.0h.9M200.1 238.5h.9M199.2 239.1h.9M195.4 239.2h.9M197.8 238.9h.9M209.9 231.4h.9M186.8 244.7h.9M214.3 230.0h.9M191.2 242.2h.9M195.4 240.3h.9M211.5 230.7h.9M218.4 225.7h.9M205.5 234.9h.9M218.3 227.3h.9M201.5 237.3h.9M216.7 229.8h.9M200.4 239.3h.9M212.9 231.6h.9M207.0 233.9h.9M187.9 243.9h.9M190.9 243.7h.9M208.2 233.2h.9M190.1 243.1h.9M207.6 233.9h.9M210.0 233.1h.9M220.2 226.3h.9M200.9 236.2h.9M194.4 241.0h.9" stroke="#4a5a98" stroke-width=".9" stroke-opacity="0.42" fill="none"/>
<path d="M213.7 230.8h.9M193.4 240.8h.9M193.7 241.1h.9M207.7 233.8h.9M190.1 241.7h.9M189.8 242.6h.9M200.1 237.5h.9M199.8 236.3h.9M210.8 231.0h.9M198.7 237.5h.9M212.9 231.2h.9M202.4 234.5h.9M192.7 241.5h.9M206.6 234.5h.9M189.2 243.4h.9M201.2 235.1h.9M189.2 243.2h.9M205.4 233.6h.9M203.2 235.5h.9M212.8 229.9h.9M213.2 230.9h.9M196.7 238.6h.9M198.3 238.0h.9M209.5 233.8h.9M209.1 233.4h.9M205.2 232.2h.9M197.0 239.0h.9M204.0 234.5h.9M193.2 241.5h.9M195.6 238.9h.9M212.6 231.8h.9M208.3 233.8h.9M192.8 241.3h.9M211.3 230.4h.9M202.9 233.9h.9M191.4 242.5h.9M208.6 233.2h.9M192.0 241.9h.9M210.4 230.8h.9M195.6 240.1h.9M207.2 233.2h.9M201.2 236.3h.9M207.2 233.7h.9M196.4 240.4h.9M199.0 239.7h.9M213.7 229.4h.9M199.1 236.3h.9M207.7 232.6h.9M200.7 237.6h.9M212.6 230.1h.9M201.3 237.7h.9M192.9 241.9h.9M207.0 235.9h.9M202.9 236.6h.9M207.8 233.9h.9M198.8 238.9h.9M195.3 239.9h.9M200.9 236.6h.9M191.5 242.6h.9M189.5 242.0h.9M200.0 235.9h.9M207.3 233.6h.9M197.8 239.0h.9M192.3 241.2h.9M209.5 232.5h.9M201.7 236.8h.9M197.8 239.5h.9M201.6 238.2h.9M208.6 232.7h.9M195.2 241.5h.9M211.1 230.1h.9M207.7 231.8h.9M204.1 233.4h.9M199.9 237.0h.9M191.9 242.6h.9M205.7 233.5h.9M207.7 233.3h.9M209.9 232.8h.9M213.2 230.5h.9M206.0 233.9h.9M202.7 235.4h.9M192.5 241.5h.9M200.5 236.3h.9M198.2 238.3h.9M202.9 235.8h.9M192.7 240.3h.9M210.7 230.5h.9M213.9 230.8h.9M191.9 240.1h.9M198.2 237.2h.9M202.7 235.8h.9M194.2 240.6h.9M192.0 241.4h.9M203.6 236.6h.9M212.6 230.3h.9M212.5 230.1h.9M204.2 233.4h.9M205.6 233.9h.9M197.8 237.9h.9M213.1 230.0h.9M195.2 240.1h.9M189.2 243.0h.9M203.0 236.0h.9M192.3 242.2h.9M209.7 231.6h.9M211.8 230.2h.9M213.7 229.6h.9M188.7 242.6h.9M189.7 241.5h.9M197.2 239.8h.9M203.6 236.3h.9M211.6 231.1h.9M203.8 235.4h.9M194.0 240.4h.9M193.5 240.9h.9M212.2 230.5h.9M196.0 240.2h.9M196.8 238.3h.9M212.9 229.7h.9M190.9 242.7h.9M209.9 232.3h.9M207.6 233.2h.9M196.0 239.9h.9M205.8 234.8h.9M213.6 231.8h.9M204.5 234.8h.9M205.6 235.0h.9M203.3 236.8h.9M198.2 238.8h.9M192.4 241.1h.9M193.2 241.5h.9M209.4 233.1h.9M192.6 240.3h.9M203.0 235.7h.9M199.3 237.6h.9M190.4 242.4h.9M199.6 237.6h.9M195.6 241.0h.9M209.6 232.2h.9M201.1 237.1h.9M198.4 237.4h.9M195.0 241.1h.9M205.9 234.6h.9M201.2 235.8h.9M212.0 230.6h.9M190.6 242.1h.9M191.0 242.0h.9M205.4 234.8h.9M199.4 237.2h.9M212.7 231.2h.9M195.3 240.2h.9M197.4 239.3h.9M211.7 230.9h.9M192.9 240.4h.9M190.5 243.2h.9M205.7 235.4h.9M192.8 241.0h.9M201.6 236.2h.9M197.9 239.6h.9M207.3 234.2h.9M202.0 236.9h.9M200.3 238.3h.9M206.2 235.5h.9M189.3 243.6h.9M194.4 239.9h.9M191.3 242.2h.9M206.5 234.6h.9M195.6 239.6h.9M205.8 234.3h.9M206.6 234.6h.9" stroke="#9ab84e" stroke-width=".9" stroke-opacity="0.55" fill="none"/>
<path d="M210.2 234.9h.9M223.7 228.5h.9M231.5 222.0h.9M222.6 229.7h.9M208.9 235.0h.9M208.1 231.7h.9M215.3 228.7h.9M226.2 222.8h.9M209.8 234.6h.9M210.0 234.4h.9M207.2 230.9h.9M193.1 239.0h.9M226.7 226.6h.9M214.5 230.1h.9M213.3 233.4h.9M201.9 235.9h.9M208.8 239.2h.9M207.3 239.6h.9M214.2 241.2h.9M213.4 232.4h.9M225.9 228.5h.9M219.9 225.1h.9M225.4 231.5h.9M212.5 231.2h.9M206.8 239.4h.9M216.3 230.7h.9M206.6 241.6h.9M220.9 228.2h.9M224.3 223.1h.9M219.5 225.6h.9" stroke="#a0a0d0" stroke-width=".9" stroke-opacity="0.4" fill="none"/>
<path d="M180.1 244.6 L186.1 252.3 L234.0 227.7 L227.9 216.6 Z" fill="none" stroke="#3a3a3a" stroke-width="0.9" stroke-linejoin="round"/>
<text x="203.1" y="213.0" font-size="7.5" text-anchor="middle" fill="#262626" stroke="#262626" stroke-width="0.18">Single Cells</text>
<text x="202.7" y="222.3" font-size="7.6" text-anchor="middle" fill="#262626" stroke="#262626" stroke-width="0.18">99.9%</text>
<rect x="173.8" y="181.5" width="73.29999999999998" height="73.0" fill="none" stroke="#c9c9c9" stroke-width="1"/>
<line x1="171.8" y1="254.5" x2="173.8" y2="254.5" stroke="#444" stroke-width="0.9"/>
<text x="169.5" y="257.2" font-size="7.6" text-anchor="end" fill="#2e2e2e" stroke="#2e2e2e" stroke-width="0.18">0</text>
<line x1="172.60000000000002" y1="251.708" x2="173.8" y2="251.708" stroke="#999" stroke-width="0.6"/>
<line x1="172.60000000000002" y1="248.916" x2="173.8" y2="248.916" stroke="#999" stroke-width="0.6"/>
<line x1="172.60000000000002" y1="246.124" x2="173.8" y2="246.124" stroke="#999" stroke-width="0.6"/>
<line x1="172.60000000000002" y1="243.332" x2="173.8" y2="243.332" stroke="#999" stroke-width="0.6"/>
<line x1="171.8" y1="240.54" x2="173.8" y2="240.54" stroke="#444" stroke-width="0.9"/>
<text x="169.5" y="243.23999999999998" font-size="7.6" text-anchor="end" fill="#2e2e2e" stroke="#2e2e2e" stroke-width="0.18">50K</text>
<line x1="172.60000000000002" y1="237.748" x2="173.8" y2="237.748" stroke="#999" stroke-width="0.6"/>
<line x1="172.60000000000002" y1="234.956" x2="173.8" y2="234.956" stroke="#999" stroke-width="0.6"/>
<line x1="172.60000000000002" y1="232.164" x2="173.8" y2="232.164" stroke="#999" stroke-width="0.6"/>
<line x1="172.60000000000002" y1="229.37199999999999" x2="173.8" y2="229.37199999999999" stroke="#999" stroke-width="0.6"/>
<line x1="171.8" y1="226.58" x2="173.8" y2="226.58" stroke="#444" stroke-width="0.9"/>
<text x="169.5" y="229.28" font-size="7.6" text-anchor="end" fill="#2e2e2e" stroke="#2e2e2e" stroke-width="0.18">100K</text>
<line x1="172.60000000000002" y1="223.788" x2="173.8" y2="223.788" stroke="#999" stroke-width="0.6"/>
<line x1="172.60000000000002" y1="220.996" x2="173.8" y2="220.996" stroke="#999" stroke-width="0.6"/>
<line x1="172.60000000000002" y1="218.204" x2="173.8" y2="218.204" stroke="#999" stroke-width="0.6"/>
<line x1="172.60000000000002" y1="215.412" x2="173.8" y2="215.412" stroke="#999" stroke-width="0.6"/>
<line x1="171.8" y1="212.62" x2="173.8" y2="212.62" stroke="#444" stroke-width="0.9"/>
<text x="169.5" y="215.32" font-size="7.6" text-anchor="end" fill="#2e2e2e" stroke="#2e2e2e" stroke-width="0.18">150K</text>
<line x1="172.60000000000002" y1="209.828" x2="173.8" y2="209.828" stroke="#999" stroke-width="0.6"/>
<line x1="172.60000000000002" y1="207.036" x2="173.8" y2="207.036" stroke="#999" stroke-width="0.6"/>
<line x1="172.60000000000002" y1="204.244" x2="173.8" y2="204.244" stroke="#999" stroke-width="0.6"/>
<line x1="172.60000000000002" y1="201.452" x2="173.8" y2="201.452" stroke="#999" stroke-width="0.6"/>
<line x1="171.8" y1="198.66" x2="173.8" y2="198.66" stroke="#444" stroke-width="0.9"/>
<text x="169.5" y="201.35999999999999" font-size="7.6" text-anchor="end" fill="#2e2e2e" stroke="#2e2e2e" stroke-width="0.18">200K</text>
<line x1="172.60000000000002" y1="195.868" x2="173.8" y2="195.868" stroke="#999" stroke-width="0.6"/>
<line x1="172.60000000000002" y1="193.076" x2="173.8" y2="193.076" stroke="#999" stroke-width="0.6"/>
<line x1="172.60000000000002" y1="190.284" x2="173.8" y2="190.284" stroke="#999" stroke-width="0.6"/>
<line x1="172.60000000000002" y1="187.492" x2="173.8" y2="187.492" stroke="#999" stroke-width="0.6"/>
<line x1="171.8" y1="184.7" x2="173.8" y2="184.7" stroke="#444" stroke-width="0.9"/>
<text x="169.5" y="187.39999999999998" font-size="7.6" text-anchor="end" fill="#2e2e2e" stroke="#2e2e2e" stroke-width="0.18">250K</text>
<line x1="172.60000000000002" y1="181.908" x2="173.8" y2="181.908" stroke="#999" stroke-width="0.6"/>
<line x1="173.5" y1="254.5" x2="173.5" y2="256.8" stroke="#555" stroke-width="0.8"/>
<text transform="translate(176.1,261.7) rotate(-47)" font-size="7.4" text-anchor="end" fill="#2e2e2e" stroke="#2e2e2e" stroke-width="0.18">0</text>
<line x1="186.3" y1="254.5" x2="186.3" y2="256.8" stroke="#555" stroke-width="0.8"/>
<text transform="translate(188.9,261.7) rotate(-47)" font-size="7.4" text-anchor="end" fill="#2e2e2e" stroke="#2e2e2e" stroke-width="0.18">50K</text>
<line x1="199.1" y1="254.5" x2="199.1" y2="256.8" stroke="#555" stroke-width="0.8"/>
<text transform="translate(201.7,261.7) rotate(-47)" font-size="7.4" text-anchor="end" fill="#2e2e2e" stroke="#2e2e2e" stroke-width="0.18">100K</text>
<line x1="211.9" y1="254.5" x2="211.9" y2="256.8" stroke="#555" stroke-width="0.8"/>
<text transform="translate(214.5,261.7) rotate(-47)" font-size="7.4" text-anchor="end" fill="#2e2e2e" stroke="#2e2e2e" stroke-width="0.18">150K</text>
<line x1="224.7" y1="254.5" x2="224.7" y2="256.8" stroke="#555" stroke-width="0.8"/>
<text transform="translate(227.29999999999998,261.7) rotate(-47)" font-size="7.4" text-anchor="end" fill="#2e2e2e" stroke="#2e2e2e" stroke-width="0.18">200K</text>
<line x1="237.5" y1="254.5" x2="237.5" y2="256.8" stroke="#555" stroke-width="0.8"/>
<text transform="translate(240.1,261.7) rotate(-47)" font-size="7.4" text-anchor="end" fill="#2e2e2e" stroke="#2e2e2e" stroke-width="0.18">250K</text>
<line x1="176.06" y1="254.5" x2="176.06" y2="255.6" stroke="#999" stroke-width="0.6"/>
<line x1="178.62" y1="254.5" x2="178.62" y2="255.6" stroke="#999" stroke-width="0.6"/>
<line x1="181.18" y1="254.5" x2="181.18" y2="255.6" stroke="#999" stroke-width="0.6"/>
<line x1="183.74" y1="254.5" x2="183.74" y2="255.6" stroke="#999" stroke-width="0.6"/>
<line x1="188.86" y1="254.5" x2="188.86" y2="255.6" stroke="#999" stroke-width="0.6"/>
<line x1="191.42000000000002" y1="254.5" x2="191.42000000000002" y2="255.6" stroke="#999" stroke-width="0.6"/>
<line x1="193.98" y1="254.5" x2="193.98" y2="255.6" stroke="#999" stroke-width="0.6"/>
<line x1="196.54" y1="254.5" x2="196.54" y2="255.6" stroke="#999" stroke-width="0.6"/>
<line x1="201.66" y1="254.5" x2="201.66" y2="255.6" stroke="#999" stroke-width="0.6"/>
<line x1="204.22" y1="254.5" x2="204.22" y2="255.6" stroke="#999" stroke-width="0.6"/>
<line x1="206.78" y1="254.5" x2="206.78" y2="255.6" stroke="#999" stroke-width="0.6"/>
<line x1="209.34" y1="254.5" x2="209.34" y2="255.6" stroke="#999" stroke-width="0.6"/>
<line x1="214.46" y1="254.5" x2="214.46" y2="255.6" stroke="#999" stroke-width="0.6"/>
<line x1="217.02" y1="254.5" x2="217.02" y2="255.6" stroke="#999" stroke-width="0.6"/>
<line x1="219.57999999999998" y1="254.5" x2="219.57999999999998" y2="255.6" stroke="#999" stroke-width="0.6"/>
<line x1="222.14" y1="254.5" x2="222.14" y2="255.6" stroke="#999" stroke-width="0.6"/>
<line x1="227.26" y1="254.5" x2="227.26" y2="255.6" stroke="#999" stroke-width="0.6"/>
<line x1="229.82" y1="254.5" x2="229.82" y2="255.6" stroke="#999" stroke-width="0.6"/>
<line x1="232.38" y1="254.5" x2="232.38" y2="255.6" stroke="#999" stroke-width="0.6"/>
<line x1="234.94" y1="254.5" x2="234.94" y2="255.6" stroke="#999" stroke-width="0.6"/>
<text x="210.7" y="287.9" font-size="9.2" text-anchor="middle" font-weight="bold" fill="#1a1a1a" textLength="18.2" lengthAdjust="spacingAndGlyphs" stroke="#1a1a1a" stroke-width="0.144">FSC-A</text>
<text transform="translate(145.79999999999998,218.0) rotate(-90)" font-size="8.6" text-anchor="middle" font-weight="bold" fill="#1a1a1a" textLength="17.8" lengthAdjust="spacingAndGlyphs" stroke="#1a1a1a" stroke-width="0.144">FSC-H</text>
<ellipse cx="340" cy="225" rx="14" ry="4.6" transform="rotate(-77 340 225)" fill="#a0a0c8" fill-opacity="0.45" filter="url(#bl)"/>
<path d="M341.7 213.0h.9M341.0 214.5h.9M344.1 222.4h.9M338.7 232.6h.9M341.0 232.6h.9M337.8 229.8h.9M343.1 227.4h.9M338.1 233.7h.9M337.8 227.4h.9M338.1 231.5h.9M335.8 222.4h.9M336.9 222.3h.9M346.7 226.3h.9M338.1 233.1h.9M342.4 227.8h.9M333.9 227.9h.9M337.6 238.7h.9M343.6 223.5h.9M341.0 229.9h.9M341.9 234.8h.9M337.9 225.2h.9M345.4 224.6h.9M334.8 231.3h.9M334.8 232.8h.9M340.9 225.6h.9M340.3 226.5h.9M341.3 214.9h.9M331.0 234.1h.9M338.4 222.5h.9M340.8 227.4h.9M336.2 220.1h.9M338.5 233.1h.9M343.1 226.9h.9M333.0 227.9h.9M337.3 214.1h.9M339.4 233.4h.9M345.4 235.5h.9M342.0 223.3h.9M345.7 230.1h.9M338.9 220.0h.9M337.3 213.4h.9M339.8 230.1h.9M337.4 223.2h.9M347.2 212.6h.9M339.4 233.1h.9M337.6 230.1h.9M342.1 216.8h.9M340.1 226.0h.9M341.5 235.6h.9M342.5 232.1h.9M337.8 228.6h.9M343.2 212.6h.9M337.3 230.0h.9M346.6 221.1h.9M340.0 219.6h.9M336.0 234.0h.9M340.5 226.2h.9M342.6 231.3h.9M336.2 232.6h.9M342.3 221.1h.9M342.1 228.9h.9M342.3 237.9h.9M349.7 207.8h.9M346.0 225.2h.9M344.0 225.4h.9M340.2 226.8h.9M335.8 219.5h.9M344.7 227.8h.9M342.6 217.5h.9M344.4 224.2h.9M335.1 221.0h.9M337.4 232.8h.9M338.9 223.5h.9M344.7 226.9h.9M343.5 217.5h.9M340.2 224.9h.9M341.4 222.1h.9M341.0 231.6h.9M338.4 231.9h.9M336.0 227.3h.9M340.9 219.9h.9M337.7 234.7h.9M341.7 237.5h.9M346.7 221.9h.9M341.0 230.2h.9M335.8 232.6h.9M341.0 226.0h.9M340.9 217.1h.9M344.8 216.4h.9M337.9 232.2h.9M343.3 233.8h.9M341.6 230.2h.9M340.9 217.2h.9M340.1 229.3h.9M334.9 230.7h.9M339.3 233.3h.9M345.5 224.5h.9M338.2 240.6h.9M341.3 235.4h.9M341.6 219.3h.9M341.6 212.4h.9M336.0 228.8h.9M339.2 230.6h.9M344.9 220.2h.9M337.4 226.8h.9M338.1 227.5h.9M338.0 228.7h.9M338.3 232.3h.9M338.6 229.2h.9M337.9 236.7h.9M342.9 220.6h.9M335.7 228.9h.9M334.3 235.1h.9M337.9 230.2h.9M338.8 240.2h.9M335.3 237.4h.9M341.1 231.5h.9M342.3 209.4h.9M338.4 227.0h.9M339.2 226.6h.9M341.2 203.7h.9M337.5 225.4h.9M339.1 221.7h.9M337.9 219.5h.9M344.4 207.5h.9M338.9 240.2h.9M335.8 228.2h.9M339.3 221.0h.9M339.7 218.5h.9M342.0 217.6h.9M341.1 222.1h.9M338.3 227.8h.9M342.9 221.7h.9M345.8 229.8h.9M339.7 210.2h.9M341.7 215.9h.9M338.1 222.6h.9M340.6 210.8h.9M337.8 225.2h.9M347.1 209.7h.9M336.4 235.7h.9M339.4 221.7h.9M336.3 227.3h.9M337.3 222.2h.9M348.4 219.6h.9M344.2 228.7h.9M338.7 221.5h.9M336.6 227.3h.9M342.2 224.5h.9M340.9 217.1h.9M337.7 234.9h.9M343.8 211.3h.9M333.9 224.2h.9M340.8 228.9h.9M342.2 233.7h.9M336.5 229.2h.9M338.7 229.8h.9M340.1 216.4h.9M336.6 239.7h.9M345.4 221.6h.9M342.3 235.2h.9M342.5 219.7h.9M336.1 230.8h.9M341.0 233.5h.9M343.5 223.8h.9M343.3 210.0h.9M345.4 226.6h.9M336.4 235.5h.9M338.3 227.8h.9M337.9 223.3h.9M338.1 214.5h.9M333.7 230.7h.9M339.2 237.0h.9M340.6 219.7h.9M343.3 218.4h.9M338.9 229.7h.9M346.4 223.2h.9M340.3 228.9h.9M344.5 221.2h.9M343.8 222.1h.9M337.4 233.6h.9M336.4 241.0h.9M344.8 205.9h.9M340.9 224.4h.9M336.5 223.0h.9M338.3 230.6h.9M337.8 223.1h.9M337.7 225.4h.9M335.8 235.5h.9M341.0 232.2h.9M344.0 214.3h.9M338.0 226.4h.9M335.7 237.7h.9M346.1 212.8h.9M339.7 223.0h.9M341.2 225.2h.9M341.2 225.3h.9M338.8 231.4h.9M342.5 228.6h.9M341.5 236.1h.9M338.4 225.4h.9M340.4 224.9h.9M340.8 227.2h.9M334.2 228.7h.9M341.2 219.2h.9M344.1 211.5h.9M340.0 242.3h.9M340.4 231.0h.9M347.1 207.3h.9M337.8 234.0h.9M339.1 238.7h.9M338.1 219.7h.9M343.5 221.8h.9M339.5 217.9h.9M335.6 230.0h.9M338.6 235.9h.9M343.8 225.5h.9M339.6 222.5h.9M341.9 237.7h.9M340.2 223.6h.9M335.3 232.7h.9M338.4 219.2h.9M342.9 220.6h.9M334.7 227.2h.9M344.8 222.5h.9M335.0 231.0h.9M342.4 216.1h.9M342.4 230.9h.9M340.8 227.6h.9M337.2 227.9h.9M338.0 222.7h.9M335.4 239.3h.9M345.3 215.5h.9M346.7 207.7h.9M343.6 211.8h.9M340.6 228.9h.9M340.4 233.3h.9M340.0 228.9h.9M338.1 232.0h.9M341.1 216.8h.9M339.6 230.7h.9M341.1 217.6h.9M333.5 233.7h.9M340.7 236.7h.9M341.2 226.0h.9M342.7 216.3h.9M339.4 220.7h.9M339.0 238.7h.9M341.5 226.1h.9M337.7 233.7h.9M341.2 207.9h.9M343.9 225.0h.9M340.0 227.0h.9M338.5 243.0h.9M342.9 229.4h.9M338.8 225.5h.9M340.1 221.3h.9M343.5 230.2h.9M342.1 217.0h.9M343.8 218.8h.9M341.2 220.2h.9M341.3 224.7h.9M342.0 220.6h.9M338.9 229.5h.9M338.1 220.6h.9M342.2 225.5h.9M339.5 223.4h.9M338.6 224.9h.9M340.7 216.7h.9M333.7 238.0h.9M341.2 222.7h.9M335.5 228.1h.9M337.4 225.7h.9M338.9 230.4h.9M339.6 231.5h.9M337.4 230.8h.9M343.8 227.8h.9M345.5 212.6h.9M338.8 231.1h.9M343.9 218.0h.9M337.0 238.4h.9M340.9 231.5h.9M339.7 219.4h.9M343.0 207.2h.9M343.9 204.8h.9M345.2 226.8h.9M337.8 229.1h.9M342.5 212.8h.9M337.4 220.3h.9M346.0 210.9h.9M342.7 222.5h.9M337.8 228.8h.9M338.3 238.2h.9M344.6 215.3h.9M343.7 217.9h.9M334.8 231.8h.9M341.6 219.8h.9M341.0 216.7h.9M339.7 232.5h.9M334.5 228.6h.9M336.5 229.5h.9M336.5 233.9h.9M348.3 218.6h.9M341.9 210.5h.9M341.9 215.6h.9M338.9 221.3h.9M335.2 224.6h.9M341.1 209.8h.9M339.4 219.8h.9M337.2 222.1h.9M341.9 228.6h.9M335.7 219.0h.9M337.9 217.2h.9M342.0 223.0h.9M338.0 230.1h.9M340.7 227.3h.9M345.5 218.3h.9M346.2 223.5h.9M343.3 233.9h.9M341.7 227.6h.9M340.1 226.1h.9M339.5 232.8h.9M344.0 208.4h.9M340.0 225.2h.9M340.7 219.0h.9M340.6 225.2h.9M345.0 214.9h.9M336.4 233.3h.9M342.4 225.3h.9M341.2 216.9h.9M343.3 207.4h.9M346.5 214.3h.9M343.4 212.0h.9M336.8 219.4h.9M335.2 239.3h.9M344.3 219.7h.9M342.8 226.5h.9M345.3 221.2h.9M334.9 237.6h.9M335.5 232.3h.9M340.4 210.9h.9M337.5 231.6h.9M340.3 217.5h.9M342.9 219.3h.9M332.3 228.9h.9M335.0 231.8h.9M340.9 211.1h.9M339.2 234.1h.9M337.5 224.0h.9M344.5 216.5h.9M338.4 222.3h.9M332.8 231.0h.9M341.8 222.1h.9M338.5 232.6h.9M338.7 239.4h.9M337.9 228.2h.9M340.8 219.8h.9M343.2 217.1h.9M342.4 215.5h.9M340.0 243.6h.9M339.9 239.7h.9M336.6 222.1h.9M342.6 225.0h.9M338.4 233.5h.9M335.9 230.5h.9M342.5 230.9h.9M341.2 219.3h.9M340.2 225.8h.9M341.1 222.8h.9M339.6 239.7h.9M331.3 230.5h.9M337.9 218.5h.9M339.5 226.1h.9M340.5 230.2h.9M338.8 227.1h.9M337.6 232.7h.9M338.3 233.6h.9M345.2 214.7h.9M337.0 220.7h.9M344.5 217.1h.9M337.4 206.6h.9M339.1 224.7h.9M338.9 215.4h.9M345.8 229.5h.9M336.2 215.6h.9M343.9 225.7h.9M340.6 230.5h.9M336.1 223.3h.9M342.1 230.9h.9M340.4 214.9h.9M340.0 215.3h.9M340.4 223.0h.9M338.7 235.5h.9M331.7 226.6h.9M336.2 231.4h.9M335.8 231.3h.9M332.0 229.2h.9M341.8 217.7h.9M339.7 222.7h.9M339.4 224.3h.9M333.8 233.1h.9M343.0 225.0h.9M344.9 224.0h.9M336.9 236.1h.9M342.4 230.8h.9M341.6 210.7h.9M340.6 218.8h.9M337.9 233.2h.9M342.5 234.5h.9M344.4 220.8h.9M333.8 220.6h.9M341.7 218.4h.9M336.1 244.8h.9M346.6 217.7h.9M340.4 233.9h.9M340.1 222.1h.9M341.0 227.7h.9" stroke="#7c7cb0" stroke-width=".9" stroke-opacity="0.45" fill="none"/>
<path d="M343.3 217.5h.9M338.0 222.3h.9M345.5 213.5h.9M340.4 223.7h.9M338.6 215.1h.9M346.8 218.7h.9M340.1 218.6h.9M343.8 208.7h.9M340.6 219.1h.9M337.7 218.7h.9M336.6 227.3h.9M342.1 215.3h.9M338.4 213.0h.9M343.5 224.6h.9M336.4 224.3h.9M339.6 224.7h.9M343.9 221.2h.9M346.0 213.5h.9M340.9 216.9h.9M337.5 222.7h.9M345.4 213.7h.9M339.5 219.6h.9M343.0 216.8h.9M339.0 219.1h.9M340.3 218.9h.9M343.3 216.5h.9M340.9 217.8h.9M344.7 212.1h.9M344.5 213.6h.9M342.8 216.8h.9M336.1 225.9h.9M341.3 226.2h.9M342.7 215.3h.9M345.1 220.8h.9M337.0 222.0h.9M338.6 229.3h.9M343.6 216.8h.9M342.6 222.1h.9M339.7 220.5h.9M342.3 223.0h.9M340.1 214.5h.9M340.2 226.2h.9M341.4 207.7h.9M340.5 227.9h.9M340.6 217.3h.9M342.2 220.9h.9M339.0 230.5h.9M343.8 217.4h.9M342.5 213.8h.9M342.2 229.4h.9M340.8 215.8h.9M344.6 215.0h.9M336.2 220.3h.9M339.1 222.9h.9M340.0 225.3h.9M340.7 226.9h.9M341.1 209.1h.9M341.4 214.3h.9M341.6 217.3h.9M341.3 212.8h.9M340.5 215.9h.9M341.5 219.2h.9M339.3 213.5h.9M342.4 228.9h.9M345.2 219.0h.9M340.4 226.5h.9M345.6 217.8h.9M340.2 220.6h.9M341.9 216.3h.9M341.9 225.1h.9M336.8 231.0h.9M341.8 212.5h.9M341.6 222.5h.9M343.7 214.3h.9M338.8 225.8h.9M342.2 214.4h.9M342.2 224.5h.9M347.1 214.9h.9M338.4 226.4h.9M341.1 224.6h.9M342.9 223.7h.9M339.9 236.3h.9M339.8 224.1h.9M342.3 217.3h.9M343.1 227.0h.9M340.9 217.0h.9M339.2 218.8h.9M339.1 227.4h.9M341.9 218.5h.9M337.4 224.3h.9M342.4 230.8h.9M340.0 218.0h.9M343.8 213.9h.9M339.4 222.6h.9M343.3 214.1h.9M344.0 211.3h.9M339.2 223.6h.9M340.9 224.6h.9M342.8 219.3h.9M339.6 217.5h.9M339.0 221.3h.9M339.1 217.2h.9M338.7 223.4h.9M339.9 223.9h.9M342.5 211.7h.9M338.8 228.6h.9M343.3 216.5h.9M345.6 220.0h.9M342.7 214.2h.9M339.9 213.0h.9M339.2 221.1h.9M344.8 220.2h.9M343.9 224.0h.9M342.9 227.0h.9M337.4 229.8h.9M342.2 214.8h.9M341.4 219.7h.9M341.1 219.4h.9M339.4 226.0h.9M339.5 219.5h.9M345.4 218.6h.9M338.1 229.6h.9M340.9 222.1h.9M339.8 219.6h.9M341.2 220.7h.9M344.3 221.7h.9M338.3 219.1h.9M340.5 229.7h.9M339.5 222.2h.9M338.9 228.1h.9M339.7 220.7h.9M342.6 222.9h.9M343.3 216.3h.9M338.2 220.9h.9M345.2 216.7h.9M345.2 213.7h.9M342.3 219.1h.9M343.8 221.1h.9M345.3 223.0h.9M341.5 215.9h.9M337.9 219.8h.9M339.7 224.5h.9M342.5 206.2h.9M342.5 215.3h.9M342.1 222.5h.9M340.7 232.3h.9M344.2 209.6h.9M341.5 220.9h.9M341.0 216.5h.9M342.4 220.0h.9M341.6 222.7h.9M343.1 218.9h.9M338.9 225.9h.9M343.2 223.5h.9M338.1 218.3h.9M343.6 228.6h.9M338.9 218.0h.9M340.4 225.7h.9M346.3 213.1h.9M340.1 222.4h.9M341.5 209.1h.9M343.8 211.7h.9M344.0 220.5h.9M340.1 217.4h.9M339.4 229.2h.9M344.6 218.2h.9M340.8 236.0h.9M345.1 217.6h.9M342.6 216.1h.9M342.6 218.2h.9M340.2 224.0h.9M340.4 219.6h.9M336.4 228.2h.9M342.9 217.9h.9M338.9 219.4h.9M341.4 215.5h.9M341.9 233.0h.9M344.0 230.0h.9M340.9 217.3h.9M336.9 233.6h.9M345.8 212.7h.9M338.0 218.3h.9M340.2 222.5h.9M341.5 217.8h.9M338.2 217.8h.9M343.4 224.8h.9M341.3 229.2h.9M345.4 207.6h.9M342.1 229.0h.9M339.6 231.2h.9M343.3 223.4h.9M343.0 213.9h.9M345.4 210.7h.9M338.6 222.8h.9M343.4 206.3h.9M341.5 218.1h.9M337.3 222.5h.9M340.8 221.3h.9M341.3 214.7h.9M337.1 228.9h.9M341.7 220.8h.9M341.3 216.2h.9M342.2 217.5h.9M343.1 210.9h.9M342.5 219.9h.9M340.8 213.1h.9M340.1 223.1h.9M341.3 233.2h.9M342.6 214.4h.9M346.9 209.7h.9M339.4 214.7h.9M343.9 212.0h.9M339.9 227.3h.9M344.2 216.6h.9M340.3 219.3h.9M340.6 215.8h.9M342.7 221.3h.9M340.2 228.9h.9M336.9 231.2h.9M339.5 227.5h.9M342.0 216.4h.9M342.5 215.3h.9M342.0 221.9h.9M341.2 221.9h.9M341.3 214.3h.9M340.3 213.4h.9M337.3 221.0h.9M343.8 224.2h.9M344.3 219.0h.9M337.3 228.4h.9M343.5 218.2h.9M338.7 215.0h.9M341.7 217.6h.9M342.3 220.0h.9M337.3 221.3h.9M336.9 226.0h.9M339.3 227.9h.9M341.3 212.7h.9M337.9 224.3h.9" stroke="#5a5a90" stroke-width=".9" stroke-opacity="0.45" fill="none"/>
<path d="M336.9 239.4h.9M337.6 234.0h.9M338.3 236.3h.9M338.1 237.3h.9M339.0 235.1h.9M338.3 235.9h.9M338.7 230.1h.9M340.2 225.1h.9M338.6 236.0h.9M336.8 235.4h.9M338.7 232.0h.9M337.3 224.1h.9M339.9 233.5h.9M338.7 232.8h.9M337.9 225.1h.9M339.6 232.1h.9M335.2 233.9h.9M337.8 236.3h.9M341.4 231.8h.9M337.3 225.8h.9M340.7 227.9h.9M339.7 225.0h.9M338.1 234.4h.9M340.8 225.6h.9M341.1 225.0h.9M336.3 234.2h.9M337.8 223.6h.9M337.6 233.4h.9M336.7 235.7h.9M342.0 232.7h.9M337.5 232.1h.9M339.9 231.8h.9M337.0 235.4h.9M337.9 239.7h.9M341.3 229.6h.9M340.6 237.8h.9M338.8 228.2h.9M337.6 233.6h.9M338.5 237.5h.9M336.7 234.4h.9M339.0 229.8h.9M337.5 234.4h.9M340.0 234.5h.9M338.2 227.5h.9M340.4 232.6h.9M340.8 233.8h.9M339.8 230.3h.9M337.8 241.2h.9M339.6 230.7h.9M339.6 230.1h.9M339.3 234.5h.9M336.9 231.4h.9M337.7 236.4h.9M335.4 229.8h.9M338.1 241.2h.9M342.7 233.0h.9M336.6 238.5h.9M338.7 234.8h.9M342.1 226.5h.9M339.3 236.7h.9M337.8 237.3h.9M339.5 231.5h.9M339.7 235.9h.9M338.3 232.3h.9M336.5 232.8h.9M339.6 229.0h.9M341.6 230.6h.9M337.2 235.6h.9M339.7 232.2h.9M339.7 233.1h.9M336.2 229.5h.9M334.7 234.3h.9M337.5 233.1h.9M339.2 229.5h.9M340.3 232.7h.9M337.1 229.0h.9M338.3 235.1h.9M339.7 224.6h.9M338.6 232.8h.9M339.0 228.6h.9M338.0 230.6h.9M336.7 234.1h.9M338.2 229.0h.9M339.5 229.8h.9M335.2 226.9h.9M335.7 235.8h.9M339.5 233.0h.9M343.1 221.6h.9M340.2 226.3h.9M338.9 233.8h.9M337.8 241.7h.9M339.3 232.2h.9M335.8 236.1h.9M337.7 234.7h.9M338.2 230.4h.9M339.8 230.7h.9M337.2 237.0h.9M336.1 238.5h.9M338.1 227.9h.9M340.9 224.2h.9M339.4 228.2h.9M340.9 228.6h.9M337.7 231.4h.9M340.8 235.0h.9M337.5 232.6h.9M335.2 234.5h.9M338.4 234.3h.9M336.8 233.8h.9M339.5 230.4h.9M338.5 234.0h.9M338.8 236.5h.9M337.0 236.1h.9M337.9 231.3h.9M340.5 237.6h.9M337.1 224.9h.9M336.6 231.1h.9M336.7 230.2h.9M339.7 229.7h.9M341.8 225.0h.9M339.4 234.3h.9M337.8 233.9h.9M335.3 233.6h.9M335.9 228.7h.9M339.0 233.2h.9M336.1 231.0h.9M338.8 235.0h.9M341.8 227.8h.9M337.4 240.0h.9M339.1 234.3h.9M336.6 239.2h.9M338.1 228.7h.9M336.6 233.2h.9M337.4 226.8h.9M337.1 235.8h.9M341.3 234.0h.9M337.4 230.5h.9M339.5 229.6h.9M338.6 230.8h.9M337.0 229.6h.9M336.6 237.0h.9M338.5 237.0h.9M342.1 224.1h.9M339.3 230.2h.9M335.8 234.5h.9M336.7 229.2h.9M338.5 230.7h.9M339.2 228.8h.9M337.6 231.4h.9M336.3 239.3h.9M340.6 229.3h.9M338.2 225.7h.9M338.6 236.3h.9M341.9 234.8h.9M336.4 230.2h.9M340.3 234.9h.9M337.0 239.9h.9M339.6 238.5h.9M336.4 233.6h.9M335.7 239.1h.9M335.3 242.8h.9M340.6 222.7h.9M336.4 232.8h.9M338.0 230.4h.9M339.7 236.1h.9M337.5 229.8h.9M339.7 225.6h.9M339.1 229.9h.9M340.4 227.1h.9M339.2 233.7h.9M338.2 233.7h.9" stroke="#76986a" stroke-width=".9" stroke-opacity="0.5" fill="none"/>
<path d="M355.7 240.9h.9M344.8 222.4h.9M337.1 229.8h.9M338.3 247.3h.9M357.1 235.7h.9M353.1 205.0h.9M331.3 217.7h.9M331.4 221.4h.9M358.1 240.7h.9M357.2 211.9h.9M334.4 202.6h.9M336.0 204.2h.9M343.9 215.6h.9M348.4 227.9h.9M346.0 215.6h.9M350.3 233.9h.9M349.6 223.6h.9M341.9 214.9h.9M328.7 223.4h.9M346.6 210.2h.9M354.2 242.8h.9M354.0 239.9h.9M342.6 209.8h.9M335.9 236.2h.9M358.0 206.7h.9M327.7 218.1h.9M338.3 229.6h.9M331.0 241.2h.9M338.0 244.2h.9M337.7 215.9h.9M333.0 246.9h.9M345.8 240.3h.9M329.5 227.0h.9M350.2 247.7h.9M356.5 206.4h.9M339.1 248.4h.9M344.1 246.5h.9M335.4 202.7h.9M356.8 213.9h.9M344.9 218.4h.9" stroke="#9a9ad0" stroke-width=".9" stroke-opacity="0.35" fill="none"/>
<path d="M314.6 232.5h.9M317.4 234.6h.9M315.9 247.3h.9M316.7 238.6h.9M316.5 236.7h.9M315.4 242.9h.9M316.1 245.8h.9M315.8 236.2h.9M316.2 237.1h.9M315.8 233.6h.9M316.2 239.6h.9M317.3 237.9h.9M314.8 240.3h.9M317.6 235.8h.9M315.5 237.2h.9M314.0 236.4h.9M315.9 230.6h.9M316.4 233.7h.9M314.7 234.5h.9M316.4 247.4h.9" stroke="#b0b0b0" stroke-width=".9" stroke-opacity="0.5" fill="none"/>
<rect x="326.4" y="200.2" width="33.3" height="49" fill="none" stroke="#4a4a4a" stroke-width="0.85"/>
<text x="380.4" y="190.7" font-size="7.5" text-anchor="end" fill="#262626" stroke="#262626" stroke-width="0.18">CTV+</text>
<text x="381.2" y="199.6" font-size="7.6" text-anchor="end" fill="#262626" stroke="#262626" stroke-width="0.18">99.3%</text>
<rect x="309.7" y="181.5" width="73.60000000000002" height="73.0" fill="none" stroke="#c9c9c9" stroke-width="1"/>
<line x1="307.7" y1="254.5" x2="309.7" y2="254.5" stroke="#444" stroke-width="0.9"/>
<text x="305.4" y="257.2" font-size="7.6" text-anchor="end" fill="#2e2e2e" stroke="#2e2e2e" stroke-width="0.18">0</text>
<line x1="308.5" y1="251.708" x2="309.7" y2="251.708" stroke="#999" stroke-width="0.6"/>
<line x1="308.5" y1="248.916" x2="309.7" y2="248.916" stroke="#999" stroke-width="0.6"/>
<line x1="308.5" y1="246.124" x2="309.7" y2="246.124" stroke="#999" stroke-width="0.6"/>
<line x1="308.5" y1="243.332" x2="309.7" y2="243.332" stroke="#999" stroke-width="0.6"/>
<line x1="307.7" y1="240.54" x2="309.7" y2="240.54" stroke="#444" stroke-width="0.9"/>
<text x="305.4" y="243.23999999999998" font-size="7.6" text-anchor="end" fill="#2e2e2e" stroke="#2e2e2e" stroke-width="0.18">50K</text>
<line x1="308.5" y1="237.748" x2="309.7" y2="237.748" stroke="#999" stroke-width="0.6"/>
<line x1="308.5" y1="234.956" x2="309.7" y2="234.956" stroke="#999" stroke-width="0.6"/>
<line x1="308.5" y1="232.164" x2="309.7" y2="232.164" stroke="#999" stroke-width="0.6"/>
<line x1="308.5" y1="229.37199999999999" x2="309.7" y2="229.37199999999999" stroke="#999" stroke-width="0.6"/>
<line x1="307.7" y1="226.58" x2="309.7" y2="226.58" stroke="#444" stroke-width="0.9"/>
<text x="305.4" y="229.28" font-size="7.6" text-anchor="end" fill="#2e2e2e" stroke="#2e2e2e" stroke-width="0.18">100K</text>
<line x1="308.5" y1="223.788" x2="309.7" y2="223.788" stroke="#999" stroke-width="0.6"/>
<line x1="308.5" y1="220.996" x2="309.7" y2="220.996" stroke="#999" stroke-width="0.6"/>
<line x1="308.5" y1="218.204" x2="309.7" y2="218.204" stroke="#999" stroke-width="0.6"/>
<line x1="308.5" y1="215.412" x2="309.7" y2="215.412" stroke="#999" stroke-width="0.6"/>
<line x1="307.7" y1="212.62" x2="309.7" y2="212.62" stroke="#444" stroke-width="0.9"/>
<text x="305.4" y="215.32" font-size="7.6" text-anchor="end" fill="#2e2e2e" stroke="#2e2e2e" stroke-width="0.18">150K</text>
<line x1="308.5" y1="209.828" x2="309.7" y2="209.828" stroke="#999" stroke-width="0.6"/>
<line x1="308.5" y1="207.036" x2="309.7" y2="207.036" stroke="#999" stroke-width="0.6"/>
<line x1="308.5" y1="204.244" x2="309.7" y2="204.244" stroke="#999" stroke-width="0.6"/>
<line x1="308.5" y1="201.452" x2="309.7" y2="201.452" stroke="#999" stroke-width="0.6"/>
<line x1="307.7" y1="198.66" x2="309.7" y2="198.66" stroke="#444" stroke-width="0.9"/>
<text x="305.4" y="201.35999999999999" font-size="7.6" text-anchor="end" fill="#2e2e2e" stroke="#2e2e2e" stroke-width="0.18">200K</text>
<line x1="308.5" y1="195.868" x2="309.7" y2="195.868" stroke="#999" stroke-width="0.6"/>
<line x1="308.5" y1="193.076" x2="309.7" y2="193.076" stroke="#999" stroke-width="0.6"/>
<line x1="308.5" y1="190.284" x2="309.7" y2="190.284" stroke="#999" stroke-width="0.6"/>
<line x1="308.5" y1="187.492" x2="309.7" y2="187.492" stroke="#999" stroke-width="0.6"/>
<line x1="307.7" y1="184.7" x2="309.7" y2="184.7" stroke="#444" stroke-width="0.9"/>
<text x="305.4" y="187.39999999999998" font-size="7.6" text-anchor="end" fill="#2e2e2e" stroke="#2e2e2e" stroke-width="0.18">250K</text>
<line x1="308.5" y1="181.908" x2="309.7" y2="181.908" stroke="#999" stroke-width="0.6"/>
<line x1="316.3" y1="254.5" x2="316.3" y2="256.8" stroke="#555" stroke-width="0.8"/>
<text transform="translate(318.90000000000003,261.7) rotate(-47)" font-size="7.4" text-anchor="end" fill="#2e2e2e" stroke="#2e2e2e" stroke-width="0.18">0</text>
<line x1="335.7" y1="254.5" x2="335.7" y2="256.8" stroke="#555" stroke-width="0.8"/>
<text transform="translate(338.3,261.7) rotate(-47)" font-size="7.4" text-anchor="end" fill="#2e2e2e" stroke="#2e2e2e" stroke-width="0.18">10<tspan dx="0.3" dy="-2.1" font-size="5.2">3</tspan></text>
<line x1="355.3" y1="254.5" x2="355.3" y2="256.8" stroke="#555" stroke-width="0.8"/>
<text transform="translate(357.90000000000003,261.7) rotate(-47)" font-size="7.4" text-anchor="end" fill="#2e2e2e" stroke="#2e2e2e" stroke-width="0.18">10<tspan dx="0.3" dy="-2.1" font-size="5.2">4</tspan></text>
<line x1="375.5" y1="254.5" x2="375.5" y2="256.8" stroke="#555" stroke-width="0.8"/>
<text transform="translate(378.1,261.7) rotate(-47)" font-size="7.4" text-anchor="end" fill="#2e2e2e" stroke="#2e2e2e" stroke-width="0.18">10<tspan dx="0.3" dy="-2.1" font-size="5.2">5</tspan></text>
<line x1="320.18" y1="254.5" x2="320.18" y2="255.6" stroke="#999" stroke-width="0.6"/>
<line x1="324.06" y1="254.5" x2="324.06" y2="255.6" stroke="#999" stroke-width="0.6"/>
<line x1="327.94" y1="254.5" x2="327.94" y2="255.6" stroke="#999" stroke-width="0.6"/>
<line x1="331.82" y1="254.5" x2="331.82" y2="255.6" stroke="#999" stroke-width="0.6"/>
<line x1="339.62" y1="254.5" x2="339.62" y2="255.6" stroke="#999" stroke-width="0.6"/>
<line x1="343.54" y1="254.5" x2="343.54" y2="255.6" stroke="#999" stroke-width="0.6"/>
<line x1="347.46" y1="254.5" x2="347.46" y2="255.6" stroke="#999" stroke-width="0.6"/>
<line x1="351.38" y1="254.5" x2="351.38" y2="255.6" stroke="#999" stroke-width="0.6"/>
<line x1="359.34000000000003" y1="254.5" x2="359.34000000000003" y2="255.6" stroke="#999" stroke-width="0.6"/>
<line x1="363.38" y1="254.5" x2="363.38" y2="255.6" stroke="#999" stroke-width="0.6"/>
<line x1="367.42" y1="254.5" x2="367.42" y2="255.6" stroke="#999" stroke-width="0.6"/>
<line x1="371.46" y1="254.5" x2="371.46" y2="255.6" stroke="#999" stroke-width="0.6"/>
<text x="346.8" y="287.9" font-size="9.2" text-anchor="middle" font-weight="bold" fill="#1a1a1a" textLength="41.5" lengthAdjust="spacingAndGlyphs" stroke="#1a1a1a" stroke-width="0.144">Celltrace violet</text>
<text transform="translate(281.6,218.0) rotate(-90)" font-size="8.6" text-anchor="middle" font-weight="bold" fill="#1a1a1a" textLength="17.6" lengthAdjust="spacingAndGlyphs" stroke="#1a1a1a" stroke-width="0.144">SSC-A</text>
<rect x="310.9" y="253.8" width="9.5" height="1.5" fill="#222"/>
<ellipse cx="73" cy="349" rx="23" ry="12" transform="rotate(-42 73 349)" fill="#a8a8c8" fill-opacity="0.45" filter="url(#bl)"/>
<ellipse cx="72.5" cy="353" rx="12" ry="5.5" transform="rotate(-40 72.5 353)" fill="#707094" fill-opacity="0.5" filter="url(#bl)"/>
<path d="M45.3 342.6h.9M84.6 314.9h.9M109.4 335.7h.9M56.7 333.7h.9M85.8 335.0h.9M43.7 311.1h.9M94.5 313.9h.9M61.8 361.8h.9M105.1 367.1h.9M56.0 304.9h.9M97.4 347.0h.9M69.6 305.8h.9M74.4 321.3h.9M85.5 374.1h.9M58.5 309.8h.9M93.2 312.1h.9M59.4 335.7h.9M114.0 327.5h.9M66.1 338.2h.9M55.1 333.1h.9M93.6 327.5h.9M100.4 317.6h.9M50.8 349.0h.9M75.9 369.7h.9M51.0 357.5h.9M91.4 330.8h.9M52.7 347.9h.9M97.7 338.1h.9M77.3 353.2h.9M87.1 334.6h.9M56.8 337.4h.9M82.8 368.1h.9M114.6 344.0h.9M67.0 320.3h.9M88.6 356.9h.9M61.2 353.5h.9M114.9 332.3h.9M110.6 335.5h.9M90.1 366.0h.9M58.0 329.0h.9M113.9 309.1h.9M65.4 338.3h.9M96.8 349.3h.9M110.0 352.0h.9M43.6 309.6h.9M46.1 335.1h.9M45.4 341.8h.9M88.7 318.9h.9M104.7 333.9h.9M112.1 329.9h.9M87.8 343.0h.9M62.3 359.9h.9M43.8 322.2h.9M66.4 367.1h.9M79.3 307.1h.9M64.9 347.8h.9M101.3 312.2h.9M99.2 332.2h.9M81.0 334.4h.9M74.8 374.8h.9M109.2 369.7h.9M96.1 354.2h.9M53.6 307.0h.9M102.9 352.3h.9M88.6 326.7h.9M62.6 369.9h.9M81.5 305.9h.9M67.8 329.3h.9M48.3 373.9h.9M108.1 362.3h.9M43.8 334.1h.9M51.5 356.0h.9M101.4 360.5h.9M100.1 313.1h.9M44.5 311.1h.9M103.7 363.4h.9M80.4 321.2h.9M104.8 313.0h.9M66.7 304.6h.9M113.8 334.0h.9M98.6 361.4h.9M85.0 374.6h.9M98.9 370.3h.9M112.4 310.3h.9M97.2 320.6h.9M66.7 328.7h.9M114.2 308.8h.9M74.6 313.6h.9M114.8 339.7h.9M93.7 341.4h.9M98.4 328.4h.9M73.1 357.4h.9M93.7 367.5h.9M65.6 364.7h.9M96.2 345.2h.9M72.7 344.8h.9M49.0 311.4h.9M65.8 313.3h.9M47.0 355.4h.9M95.8 348.2h.9M58.2 355.8h.9M102.5 348.5h.9M59.8 344.6h.9M71.7 323.6h.9M54.1 365.9h.9M88.7 370.7h.9M55.8 323.3h.9M79.9 308.7h.9M65.1 342.8h.9M77.9 369.1h.9M84.8 349.8h.9M85.3 360.3h.9M69.7 304.5h.9M113.6 360.8h.9M52.6 312.4h.9M59.4 351.2h.9M52.9 305.9h.9M78.8 304.9h.9M62.0 331.6h.9M58.2 304.7h.9M62.1 321.8h.9M66.7 333.9h.9M69.2 327.5h.9M44.9 363.9h.9M96.3 339.5h.9M43.7 321.1h.9M107.9 337.0h.9M58.2 362.7h.9M107.2 313.2h.9M79.3 344.3h.9M51.9 327.2h.9M87.7 352.3h.9M88.4 348.5h.9M70.5 309.4h.9M44.7 364.0h.9M105.3 368.8h.9M48.9 359.1h.9M55.8 329.1h.9M57.8 365.6h.9M102.1 363.6h.9M70.8 371.0h.9M62.1 345.3h.9M91.6 321.1h.9M70.8 311.6h.9M100.5 317.6h.9M53.2 324.2h.9M89.3 349.7h.9M81.0 365.1h.9M97.3 319.4h.9M81.7 316.5h.9M60.8 314.9h.9M49.0 329.4h.9M106.9 351.1h.9M49.8 320.1h.9M85.8 342.1h.9M45.4 311.2h.9M84.0 347.2h.9M49.2 359.4h.9M60.7 346.3h.9M81.4 328.6h.9" stroke="#a0a0c4" stroke-width=".9" stroke-opacity="0.3" fill="none"/>
<path d="M72.5 328.0h.9M53.8 362.6h.9M52.9 327.3h.9M45.2 330.8h.9M91.1 304.9h.9M56.7 334.6h.9M45.3 349.5h.9M82.9 360.1h.9M82.1 357.1h.9M49.5 356.3h.9M58.9 331.7h.9M45.2 338.2h.9M72.8 326.5h.9M62.8 346.7h.9M48.9 360.0h.9M65.1 350.0h.9M58.2 348.0h.9M79.4 347.7h.9M63.3 361.9h.9M48.0 352.5h.9M66.2 343.1h.9M69.6 355.5h.9M68.4 368.1h.9M70.4 336.9h.9M75.7 350.3h.9M58.0 359.0h.9M74.9 327.9h.9M60.9 329.0h.9M101.7 320.3h.9M90.1 332.7h.9M59.5 366.5h.9M78.3 373.2h.9M61.4 356.1h.9M66.2 331.4h.9M72.3 357.7h.9M69.1 336.5h.9M86.0 357.3h.9M80.1 337.4h.9M52.1 321.7h.9M60.0 336.0h.9M66.9 327.6h.9M58.7 326.0h.9M67.9 324.4h.9M68.3 349.8h.9M58.7 346.9h.9M94.5 350.3h.9M81.2 345.6h.9M57.6 349.6h.9M82.7 370.6h.9M48.7 332.1h.9M76.6 323.4h.9M95.3 327.2h.9M74.4 345.7h.9M82.6 344.0h.9M44.5 348.2h.9M56.7 350.6h.9M47.6 332.2h.9M71.2 371.0h.9M83.0 308.6h.9M67.7 338.1h.9M58.6 360.9h.9M78.4 362.4h.9M66.1 334.2h.9M67.4 325.1h.9M81.5 340.2h.9M74.7 347.6h.9M64.9 341.0h.9M55.5 343.8h.9M52.7 331.1h.9M68.4 331.8h.9M65.0 331.2h.9M69.7 339.6h.9M79.4 337.7h.9M73.9 330.2h.9M59.7 340.7h.9M45.0 356.3h.9M85.1 338.8h.9M54.6 356.3h.9M59.8 319.1h.9M70.9 342.6h.9M75.5 337.1h.9M85.7 315.3h.9M92.4 342.1h.9M53.0 329.3h.9M80.9 326.5h.9M74.6 342.2h.9M85.6 343.1h.9M65.0 341.4h.9M72.1 332.4h.9M80.4 367.7h.9M92.7 339.8h.9M69.2 322.1h.9M61.2 343.2h.9M53.3 327.6h.9M74.9 341.9h.9M56.5 342.0h.9M75.7 341.3h.9M56.0 325.1h.9M50.7 346.6h.9M61.0 360.4h.9M52.7 342.4h.9M48.3 347.2h.9M44.5 364.5h.9M80.5 330.7h.9M68.1 363.3h.9M59.5 325.8h.9M49.4 342.9h.9M74.2 357.0h.9M52.2 349.6h.9M52.9 328.5h.9M62.6 355.4h.9M59.9 308.9h.9M69.6 331.5h.9M86.3 334.8h.9M92.4 323.3h.9M49.6 338.4h.9M49.3 365.9h.9M77.9 346.0h.9M53.1 322.3h.9M55.2 345.1h.9M72.6 349.6h.9M84.7 329.5h.9M49.3 359.7h.9M70.9 357.9h.9M73.0 325.3h.9M75.8 332.1h.9M82.2 352.6h.9M47.0 355.7h.9M76.2 316.5h.9M67.2 341.9h.9M44.7 333.4h.9M44.3 340.2h.9M79.9 333.1h.9M60.9 321.6h.9M71.1 338.7h.9M70.0 322.7h.9M87.2 348.7h.9M78.1 311.6h.9M81.6 338.3h.9M59.2 329.4h.9M95.3 346.0h.9M61.4 342.1h.9M83.8 334.6h.9M77.1 322.8h.9M64.3 335.3h.9M52.5 346.4h.9M64.1 351.9h.9M59.6 347.3h.9M72.6 315.4h.9M96.4 332.1h.9M57.6 348.1h.9M54.8 338.4h.9M78.5 326.9h.9M69.2 324.1h.9M66.7 365.8h.9M48.6 334.2h.9M70.9 356.6h.9M53.9 337.0h.9M81.0 346.4h.9M57.2 341.9h.9M77.4 364.5h.9M65.0 349.2h.9M60.7 338.9h.9M44.4 332.7h.9M44.7 362.3h.9M53.6 349.5h.9M55.7 339.5h.9M71.3 372.0h.9M43.4 350.3h.9M47.9 333.7h.9M58.6 363.7h.9M76.8 333.5h.9M114.4 314.1h.9M71.6 319.5h.9M93.8 348.9h.9M75.5 367.4h.9M54.6 334.6h.9M60.9 323.3h.9M45.2 320.4h.9M72.8 354.9h.9M62.5 349.5h.9M67.0 318.1h.9M46.8 358.8h.9M64.2 336.8h.9M61.8 367.7h.9M45.0 353.7h.9M69.5 351.5h.9M49.1 339.2h.9M81.8 310.1h.9M72.2 331.9h.9M56.3 348.1h.9M62.6 349.4h.9M54.6 331.4h.9M80.5 373.3h.9M93.9 328.4h.9M63.2 336.9h.9M77.3 321.8h.9M58.8 360.2h.9M66.9 308.3h.9M63.3 345.0h.9M52.4 323.9h.9M56.8 342.0h.9M98.4 331.5h.9M61.4 361.4h.9M70.7 334.1h.9M57.2 342.8h.9M89.5 347.9h.9M84.2 317.1h.9M48.1 309.3h.9M47.3 332.2h.9M58.0 315.1h.9M76.4 347.5h.9M68.2 373.6h.9M57.2 331.9h.9M67.6 338.7h.9M77.5 337.0h.9M103.6 330.2h.9M62.1 359.1h.9M63.6 323.0h.9M45.3 342.8h.9M72.1 359.0h.9M56.3 350.3h.9M82.1 345.1h.9M57.3 327.8h.9M100.9 326.7h.9M96.9 344.8h.9M85.8 331.1h.9M75.5 344.4h.9M50.9 369.5h.9M54.1 359.0h.9M56.5 362.6h.9M70.5 346.3h.9M48.2 350.4h.9M59.5 340.5h.9M48.8 338.4h.9M69.6 329.8h.9M55.7 356.5h.9M50.6 350.5h.9M47.3 338.7h.9M52.1 336.5h.9M49.8 361.5h.9M45.0 330.3h.9M59.6 349.6h.9M72.4 342.0h.9M72.2 346.5h.9M48.8 339.9h.9M67.3 331.2h.9M69.5 350.0h.9M87.4 345.4h.9M50.4 346.9h.9M56.7 320.7h.9M52.2 364.3h.9M46.0 340.0h.9M78.9 339.4h.9M72.2 328.6h.9M56.0 342.6h.9M47.5 317.2h.9M60.7 358.8h.9M52.1 351.3h.9M69.8 347.2h.9M45.9 336.0h.9M89.5 305.9h.9M62.7 339.5h.9M108.0 343.2h.9M66.4 320.4h.9M45.2 344.0h.9M58.8 351.8h.9M50.3 349.4h.9M96.6 341.5h.9M70.6 361.5h.9M77.1 367.7h.9M81.8 354.4h.9M48.7 349.5h.9M82.2 337.3h.9M71.6 347.7h.9M71.4 369.4h.9M79.1 357.0h.9M69.3 339.1h.9M47.7 333.8h.9M81.9 341.1h.9M72.0 327.9h.9M46.1 350.5h.9M58.9 346.4h.9M67.5 321.5h.9M63.3 356.1h.9M96.4 356.6h.9M62.0 327.5h.9M66.5 344.8h.9M56.4 337.0h.9M60.0 344.2h.9M71.8 336.9h.9M82.0 324.7h.9M60.6 344.7h.9M75.1 326.3h.9M63.2 338.2h.9M61.2 325.1h.9M75.7 351.8h.9M84.8 335.8h.9M82.2 356.6h.9M86.0 349.9h.9M71.2 330.7h.9M48.3 337.5h.9M71.5 312.6h.9M51.2 326.4h.9M82.4 369.4h.9M90.8 309.1h.9M65.4 372.4h.9M57.5 327.0h.9M54.7 372.0h.9M43.3 339.7h.9M63.6 338.8h.9M79.0 330.8h.9M95.2 336.8h.9M97.6 334.4h.9M69.4 348.0h.9M48.6 325.6h.9M54.7 364.6h.9M45.6 357.1h.9M51.9 357.6h.9M56.1 340.0h.9M51.8 327.9h.9M62.9 350.3h.9M83.8 338.3h.9M69.2 310.2h.9M87.2 352.1h.9M57.9 326.2h.9M63.5 332.6h.9M64.9 361.9h.9M50.2 332.7h.9M73.1 372.1h.9M58.5 360.0h.9M76.8 353.5h.9M50.5 335.8h.9M44.9 339.1h.9M99.4 314.8h.9M71.0 360.3h.9M70.2 333.2h.9M74.1 338.6h.9M94.0 347.8h.9M58.7 346.1h.9M72.5 358.3h.9M75.8 346.9h.9M69.1 325.5h.9M78.2 356.4h.9M83.2 341.0h.9M56.1 342.2h.9M49.3 349.8h.9M48.7 328.0h.9M71.3 321.0h.9M72.3 346.5h.9M79.9 336.1h.9M70.8 358.1h.9M66.0 322.0h.9M45.3 324.6h.9M73.3 361.3h.9M60.1 361.6h.9M92.1 350.6h.9M76.5 345.8h.9M101.6 320.8h.9M66.6 344.9h.9M57.8 335.8h.9M61.8 341.6h.9M78.6 342.5h.9M81.8 337.9h.9M63.8 369.2h.9M62.6 333.2h.9M77.5 309.3h.9M76.4 346.7h.9M71.1 348.9h.9M48.2 344.4h.9M52.1 326.7h.9M62.0 336.4h.9M62.6 323.9h.9" stroke="#a0a0c4" stroke-width=".9" stroke-opacity="0.36" fill="none"/>
<path d="M64.1 348.6h.9M63.3 343.7h.9M62.3 340.0h.9M85.2 345.8h.9M72.8 345.6h.9M57.1 349.7h.9M65.7 342.7h.9M60.8 361.0h.9M71.4 344.1h.9M63.9 355.4h.9M62.9 351.4h.9M81.2 350.0h.9M79.6 334.1h.9M81.6 325.2h.9M80.5 358.1h.9M104.2 321.6h.9M67.4 348.1h.9M58.4 359.1h.9M64.2 346.1h.9M83.9 328.1h.9M100.4 334.3h.9M78.3 335.6h.9M55.1 338.1h.9M75.8 341.9h.9M74.7 337.7h.9M70.6 330.7h.9M50.4 374.3h.9M67.1 312.4h.9M87.7 330.2h.9M62.3 337.5h.9M66.5 362.9h.9M65.0 354.6h.9M85.1 362.9h.9M76.6 327.6h.9M60.9 343.9h.9M52.8 357.2h.9M88.0 335.1h.9M81.6 338.5h.9M69.6 352.1h.9M85.7 361.5h.9M98.6 329.9h.9M68.8 325.9h.9M88.1 365.4h.9M69.7 361.5h.9M86.6 330.6h.9M68.5 346.0h.9M84.1 338.3h.9M100.3 338.9h.9M90.8 365.7h.9M66.5 345.8h.9M65.6 343.1h.9M68.6 350.9h.9M74.9 325.7h.9M52.1 356.6h.9M73.4 353.5h.9M74.3 366.4h.9M66.3 351.1h.9M82.4 354.7h.9M78.0 343.8h.9M68.7 354.0h.9M76.8 339.9h.9M62.0 333.8h.9M75.3 361.2h.9M91.1 330.8h.9M88.7 367.3h.9M75.6 358.6h.9M75.5 363.5h.9M81.4 326.5h.9M108.5 353.3h.9M63.6 340.6h.9M75.0 341.0h.9M49.1 355.7h.9M67.3 333.2h.9M90.3 338.3h.9M81.0 359.0h.9M67.3 361.9h.9M55.5 359.3h.9M78.5 336.0h.9M76.9 352.8h.9M101.2 339.6h.9M78.1 340.0h.9M83.1 310.8h.9M84.5 337.1h.9M84.8 341.4h.9M71.8 349.0h.9M81.2 355.7h.9M67.4 345.8h.9M86.3 344.4h.9M81.3 344.2h.9M99.3 338.9h.9M75.4 343.1h.9M70.1 326.2h.9M63.2 347.5h.9M73.7 342.2h.9M109.0 325.3h.9M93.6 358.8h.9M72.0 344.6h.9M94.5 339.5h.9M93.2 345.6h.9M65.4 346.1h.9M66.0 355.5h.9M79.5 328.3h.9M58.9 343.0h.9M103.7 330.9h.9M68.9 335.7h.9M57.4 353.4h.9M66.3 337.3h.9M79.3 358.2h.9M74.9 347.5h.9M46.8 367.8h.9M67.9 343.5h.9M56.8 361.5h.9M58.1 354.1h.9M54.1 363.6h.9M79.7 330.9h.9M68.2 332.4h.9M84.7 344.5h.9M75.1 357.5h.9M63.7 356.8h.9M94.5 328.4h.9M67.9 367.5h.9M78.9 339.0h.9M65.2 374.2h.9M72.2 337.5h.9M97.7 345.0h.9M67.0 359.6h.9M56.5 367.5h.9M87.0 316.9h.9M70.7 341.7h.9M73.6 348.6h.9M83.3 350.3h.9M87.2 348.9h.9M93.6 343.8h.9M68.6 357.2h.9M64.1 344.9h.9M99.8 327.7h.9M61.0 331.1h.9M76.3 355.0h.9M68.1 345.2h.9M90.0 328.6h.9M69.4 349.8h.9M78.1 357.1h.9M80.6 340.2h.9M68.3 349.2h.9M92.7 326.3h.9M71.8 328.3h.9M82.5 348.4h.9M91.6 335.4h.9M83.2 343.0h.9M100.4 350.2h.9M71.3 338.8h.9M80.6 339.6h.9M86.9 345.6h.9M73.1 342.0h.9M69.7 334.5h.9M71.7 337.5h.9M80.4 342.9h.9M63.7 340.5h.9M70.3 341.4h.9M76.9 353.5h.9M77.3 327.2h.9M94.3 346.6h.9M89.6 336.7h.9M84.4 360.5h.9M60.3 339.3h.9M77.1 348.0h.9M53.7 349.3h.9M98.9 326.2h.9M79.8 334.2h.9M54.6 362.0h.9M86.0 327.5h.9M51.3 365.1h.9M70.8 350.0h.9M59.5 355.9h.9M73.3 359.2h.9M81.6 351.6h.9M59.6 331.9h.9M53.9 372.0h.9M90.5 343.7h.9M61.6 334.7h.9M70.8 355.2h.9M88.6 329.4h.9M62.3 347.3h.9M92.1 342.1h.9M53.4 346.2h.9M50.1 358.9h.9M54.7 355.5h.9M78.8 348.2h.9M58.0 340.5h.9M64.7 346.4h.9M53.4 367.4h.9M45.1 350.1h.9M98.7 337.3h.9M92.5 332.0h.9M68.6 350.7h.9M62.4 367.1h.9M75.4 341.7h.9M50.8 366.3h.9M103.3 339.8h.9M82.5 334.8h.9M79.4 349.4h.9M83.3 352.4h.9M51.0 337.2h.9M61.7 366.7h.9M87.2 335.2h.9M81.2 341.6h.9M73.2 341.6h.9M77.0 359.9h.9M70.6 349.5h.9M95.0 341.1h.9M71.0 353.0h.9M62.7 358.8h.9M78.0 343.4h.9M78.5 347.8h.9M71.9 342.5h.9M60.9 355.6h.9M92.2 327.8h.9M63.1 350.4h.9M62.9 363.3h.9M68.1 364.2h.9M88.9 341.2h.9M86.2 335.0h.9M52.4 365.5h.9M71.8 328.7h.9M66.5 368.1h.9M88.2 351.9h.9M82.7 340.1h.9M84.9 348.4h.9M72.4 345.6h.9M75.9 341.2h.9M98.4 315.1h.9M47.3 353.9h.9M84.2 332.5h.9M74.7 343.6h.9M68.1 333.3h.9M71.5 341.8h.9M91.4 339.6h.9M52.5 353.5h.9M88.9 349.4h.9M82.5 337.4h.9M72.3 317.6h.9M61.3 345.6h.9M65.3 362.2h.9M79.4 345.9h.9M76.6 352.8h.9M80.0 334.2h.9M79.5 329.9h.9M87.1 318.1h.9M63.6 342.1h.9M83.2 356.0h.9M76.6 368.0h.9M93.9 334.3h.9M72.9 359.9h.9M85.6 336.1h.9M100.1 314.8h.9M56.5 359.8h.9M92.4 353.0h.9M53.7 367.3h.9M85.2 328.1h.9M60.7 343.0h.9M89.0 344.5h.9M83.0 342.2h.9M85.5 335.1h.9M88.3 345.0h.9M93.5 336.3h.9M79.8 351.1h.9M43.7 351.0h.9M94.9 330.1h.9M57.5 354.2h.9M72.8 349.0h.9M71.3 362.5h.9M71.7 370.9h.9M71.4 327.2h.9M59.5 360.8h.9M74.7 340.8h.9M75.4 347.9h.9M60.5 359.9h.9M97.9 317.1h.9M66.0 362.9h.9M97.6 339.7h.9M65.9 353.3h.9M75.3 343.1h.9M86.2 350.4h.9M80.9 340.7h.9M83.4 362.2h.9M83.9 339.4h.9M77.0 368.5h.9M95.2 340.1h.9M88.2 310.6h.9M73.4 343.5h.9M65.7 355.5h.9M84.3 344.8h.9M63.8 338.7h.9M85.1 345.1h.9M106.6 330.2h.9M66.8 338.2h.9M103.5 311.6h.9M81.5 350.2h.9M89.2 351.0h.9M56.8 353.3h.9M68.2 335.9h.9M75.7 363.8h.9M77.2 342.8h.9M67.4 353.5h.9M66.7 339.3h.9M75.6 328.7h.9M87.9 330.1h.9M72.0 337.2h.9M105.9 336.8h.9M106.3 329.9h.9M87.0 327.3h.9M87.6 329.1h.9M64.6 337.4h.9M77.5 349.2h.9M66.1 339.4h.9M91.5 343.5h.9M78.3 353.6h.9M80.0 328.5h.9M61.4 333.5h.9M64.0 361.6h.9M65.7 359.6h.9M65.1 327.6h.9M78.1 363.5h.9M75.2 347.6h.9M54.7 342.9h.9M66.1 342.5h.9M62.7 331.3h.9M103.1 343.8h.9M66.8 357.7h.9M68.5 363.3h.9M62.6 355.3h.9M94.1 336.0h.9M60.0 339.3h.9M62.1 373.7h.9M81.0 341.5h.9M91.0 333.8h.9M64.3 354.3h.9M72.8 347.8h.9M109.5 323.0h.9M76.0 341.9h.9M59.0 347.2h.9M47.4 364.7h.9M48.8 342.4h.9M99.8 340.6h.9M75.5 373.0h.9M65.7 320.6h.9M67.8 339.2h.9M50.4 364.6h.9M91.7 337.1h.9M51.3 358.5h.9M72.2 364.0h.9M66.4 340.7h.9M49.5 342.6h.9M69.4 363.1h.9M51.2 370.0h.9M78.1 354.2h.9M65.7 366.6h.9M109.1 346.3h.9M53.3 365.1h.9M72.3 350.2h.9M67.3 364.5h.9M113.9 331.5h.9M58.2 353.4h.9M84.3 339.6h.9M72.7 364.8h.9M87.5 348.6h.9M80.4 358.4h.9M60.7 343.9h.9M64.7 336.6h.9M94.9 338.1h.9M53.9 367.3h.9M82.5 334.6h.9M75.5 337.8h.9M72.7 347.1h.9M73.8 334.2h.9M61.9 362.2h.9M71.1 356.6h.9M58.9 342.9h.9M85.3 340.5h.9M81.1 336.1h.9M77.9 360.4h.9M80.2 340.6h.9M79.3 350.4h.9M66.1 357.8h.9M49.6 344.0h.9M77.3 345.4h.9M86.0 343.7h.9M88.3 344.9h.9M68.8 368.0h.9M104.4 312.2h.9M62.6 366.4h.9M92.5 344.1h.9M84.3 319.1h.9M82.0 346.1h.9M84.0 326.0h.9M71.9 343.9h.9M71.0 347.7h.9M60.3 335.5h.9M74.0 347.9h.9M45.4 324.8h.9M60.8 350.0h.9M73.7 368.8h.9M84.6 335.0h.9M103.7 364.7h.9M64.9 361.5h.9M76.4 364.9h.9M87.3 333.4h.9M76.5 334.0h.9M59.5 371.3h.9M92.9 326.0h.9M55.3 339.6h.9M93.4 313.5h.9M60.4 356.6h.9M89.8 333.5h.9M73.9 347.3h.9M84.6 337.0h.9M75.6 344.6h.9M68.9 369.7h.9M56.4 345.0h.9M68.7 352.2h.9M74.6 326.6h.9M59.1 362.8h.9M71.6 334.4h.9M60.8 361.2h.9M61.4 336.5h.9M72.8 368.1h.9M67.6 366.9h.9M90.2 324.0h.9M69.6 359.5h.9M61.9 365.2h.9M91.3 335.1h.9M77.1 342.1h.9M81.3 329.4h.9M94.1 328.7h.9M58.9 338.5h.9M70.0 353.8h.9M79.1 320.7h.9M67.8 343.3h.9M58.8 360.7h.9M70.2 362.2h.9M78.4 338.5h.9M69.2 338.3h.9M55.7 353.4h.9M67.7 341.3h.9M62.9 345.3h.9M69.4 335.8h.9M74.4 347.9h.9M81.3 330.5h.9M49.5 348.8h.9M79.5 333.7h.9M86.0 335.2h.9M58.1 336.2h.9M70.7 360.6h.9M70.8 359.0h.9M59.9 373.3h.9M69.8 334.1h.9M62.9 348.1h.9M62.9 329.8h.9M68.3 362.8h.9M80.8 350.9h.9M77.2 328.7h.9M60.0 365.8h.9M75.0 347.2h.9M70.5 363.9h.9M88.0 349.9h.9M74.1 356.2h.9M67.0 340.6h.9M61.9 335.5h.9M72.9 350.4h.9M75.8 331.2h.9M52.2 356.6h.9M108.2 318.3h.9M59.8 350.5h.9M88.7 318.2h.9M72.0 347.7h.9M59.9 350.0h.9M47.0 359.8h.9M100.0 342.8h.9M75.1 355.5h.9M80.6 342.6h.9M80.4 357.6h.9M79.7 338.8h.9M77.3 356.6h.9M61.7 348.4h.9M67.2 346.4h.9M92.4 335.3h.9M69.4 344.1h.9M94.9 334.2h.9M106.6 330.1h.9M67.6 345.3h.9M71.6 351.6h.9M87.3 341.6h.9M83.8 317.8h.9M64.9 336.1h.9M56.9 354.2h.9M59.2 347.2h.9M62.3 372.8h.9M76.4 357.9h.9M44.4 342.2h.9M72.3 360.3h.9M69.5 356.3h.9M69.6 369.7h.9M86.5 349.9h.9M79.0 359.7h.9M71.6 342.5h.9M66.2 354.7h.9M54.5 348.4h.9M80.4 350.8h.9M75.9 356.6h.9M85.7 319.5h.9M70.8 336.9h.9M67.0 355.7h.9M88.3 341.5h.9M94.4 353.2h.9M76.7 359.3h.9M95.7 334.2h.9M50.3 366.1h.9M59.4 338.2h.9M78.3 353.3h.9M69.5 348.6h.9M88.5 325.7h.9M62.3 358.0h.9M92.2 338.7h.9M71.6 342.5h.9M95.6 339.6h.9M54.2 369.2h.9M77.6 335.3h.9M55.6 359.4h.9M55.5 371.1h.9M55.7 339.6h.9M81.6 356.1h.9M55.5 358.8h.9M98.3 327.7h.9M68.2 354.7h.9M77.2 330.6h.9M61.8 335.9h.9M43.6 353.5h.9M86.8 339.7h.9M91.4 347.8h.9M76.1 348.2h.9M82.3 345.9h.9M58.6 357.0h.9M72.3 349.0h.9M63.6 354.5h.9M78.9 345.1h.9M87.0 346.4h.9M87.5 347.9h.9M94.0 347.9h.9M77.8 335.2h.9M111.1 329.0h.9M94.7 338.3h.9M66.9 337.9h.9M77.2 339.4h.9M54.6 335.6h.9M85.8 320.7h.9M63.1 363.0h.9M75.9 334.6h.9M75.6 349.0h.9M79.5 349.2h.9M81.4 335.4h.9M62.5 344.0h.9M87.4 342.8h.9M81.9 371.6h.9M75.6 349.7h.9M76.5 341.6h.9M69.3 333.6h.9M81.3 365.3h.9M82.4 334.0h.9M56.6 342.4h.9M71.3 347.0h.9M55.4 342.6h.9M78.8 348.4h.9M91.9 337.9h.9M101.3 338.7h.9M65.6 340.4h.9M85.9 349.3h.9M46.0 355.4h.9M79.0 335.0h.9M94.0 332.0h.9M58.1 343.3h.9M70.1 327.3h.9M48.6 352.0h.9M107.0 340.4h.9M68.6 346.7h.9M91.2 348.3h.9M78.4 372.7h.9M78.9 357.8h.9M43.6 373.5h.9M78.4 369.8h.9M62.7 339.9h.9M94.2 319.7h.9M65.6 337.7h.9M83.9 340.7h.9M67.6 347.3h.9M61.9 348.1h.9M64.1 372.0h.9M76.0 326.4h.9M61.9 363.3h.9M101.4 319.7h.9M68.3 348.7h.9M76.0 342.9h.9M94.3 342.0h.9M91.5 352.5h.9M67.3 345.5h.9M71.4 334.9h.9M73.4 319.2h.9M69.6 345.6h.9M67.7 367.7h.9M71.9 354.9h.9M68.3 354.1h.9M68.8 352.7h.9M68.2 343.0h.9M78.3 340.6h.9M54.6 350.2h.9M88.5 351.9h.9M54.5 358.8h.9M86.7 349.7h.9M75.1 330.0h.9M80.5 353.3h.9M75.5 342.6h.9M60.0 361.7h.9M73.4 348.0h.9M101.0 338.8h.9M65.4 357.8h.9M70.7 351.3h.9M100.9 335.3h.9M70.1 341.6h.9M74.3 351.6h.9M75.0 360.9h.9M66.3 337.9h.9M69.7 349.2h.9M94.0 344.1h.9M103.0 342.1h.9M78.8 344.2h.9M86.8 335.2h.9M54.9 358.0h.9M86.5 344.0h.9M67.9 368.5h.9M67.9 332.2h.9M86.7 349.2h.9M78.7 338.6h.9M71.3 364.5h.9M76.8 344.4h.9M62.0 343.8h.9M47.8 365.8h.9M93.2 340.1h.9M75.5 366.2h.9M64.3 342.1h.9M95.7 346.2h.9M60.9 342.3h.9M56.9 329.6h.9M84.9 357.8h.9M72.6 338.4h.9M79.7 335.2h.9M87.7 329.9h.9M97.6 321.2h.9M70.1 337.8h.9M60.0 364.1h.9M71.9 335.7h.9M78.4 337.5h.9M66.5 352.7h.9M83.9 347.9h.9M92.3 335.8h.9M60.2 350.2h.9M70.7 333.9h.9M69.3 346.1h.9M74.0 349.5h.9M98.2 347.4h.9M92.0 344.5h.9M67.3 366.9h.9M81.4 322.1h.9M102.3 314.0h.9M69.4 340.3h.9M73.9 361.5h.9M74.8 341.3h.9M82.4 326.9h.9M59.4 352.5h.9M69.1 360.7h.9M64.0 341.8h.9M54.9 337.4h.9M76.8 345.9h.9M80.2 338.3h.9M72.8 335.5h.9M75.3 347.9h.9M62.5 365.2h.9M76.2 345.8h.9M81.3 367.4h.9M68.9 341.3h.9M67.1 361.1h.9M66.1 343.5h.9M71.0 362.2h.9M82.1 353.9h.9M65.9 338.4h.9M87.1 339.5h.9M63.6 352.1h.9M67.2 364.2h.9M71.9 355.3h.9M75.6 342.1h.9M77.1 340.9h.9M56.2 357.3h.9M64.1 366.0h.9M78.3 335.2h.9M83.5 341.8h.9M80.1 329.0h.9M67.7 339.3h.9M74.5 365.0h.9M85.4 347.3h.9M50.5 340.8h.9M54.6 369.2h.9M94.0 341.2h.9M73.7 365.4h.9M75.7 353.7h.9M82.2 361.0h.9M53.1 336.9h.9M71.3 352.0h.9M72.7 338.5h.9M63.5 341.2h.9M71.6 350.3h.9" stroke="#8888ae" stroke-width=".9" stroke-opacity="0.4" fill="none"/>
<path d="M79.4 357.5h.9M58.8 367.8h.9M72.2 346.0h.9M73.0 352.5h.9M67.1 362.1h.9M89.2 343.2h.9M81.7 351.9h.9M74.5 357.4h.9M66.9 358.9h.9M81.9 353.3h.9M69.4 353.8h.9M75.8 349.7h.9M76.0 355.1h.9M69.4 361.1h.9M74.6 349.6h.9M61.0 358.7h.9M75.1 356.7h.9M59.7 368.3h.9M70.5 347.6h.9M80.3 348.9h.9M72.8 346.6h.9M66.9 363.4h.9M84.3 345.3h.9M69.6 352.6h.9M62.5 367.6h.9M75.6 358.1h.9M70.2 361.5h.9M68.9 359.7h.9M80.8 341.6h.9M79.4 347.2h.9M66.0 359.7h.9M75.2 346.3h.9M68.7 352.6h.9M66.0 357.2h.9M77.2 345.9h.9M80.8 343.6h.9M70.5 361.3h.9M81.2 341.6h.9M73.4 345.0h.9M68.3 354.2h.9M74.0 343.9h.9M66.5 353.8h.9M69.5 347.9h.9M71.0 371.8h.9M69.5 346.2h.9M74.8 342.9h.9M63.3 371.1h.9M79.4 342.0h.9M65.7 361.7h.9M89.7 342.2h.9M73.9 344.5h.9M60.2 365.8h.9M80.6 347.0h.9M76.7 358.1h.9M69.5 362.3h.9M76.9 345.4h.9M73.8 352.6h.9M73.9 345.8h.9M71.0 354.8h.9M72.8 352.9h.9M73.8 350.7h.9M71.9 359.9h.9M66.7 355.9h.9M62.3 354.4h.9M75.7 350.0h.9M72.9 355.5h.9M73.3 356.6h.9M87.2 342.8h.9M75.5 360.7h.9M72.7 342.5h.9M83.2 345.3h.9M75.4 343.4h.9M64.1 356.0h.9M73.2 345.4h.9M70.1 360.9h.9M68.0 357.5h.9M60.5 352.5h.9M71.5 353.1h.9M64.7 365.6h.9M81.4 351.0h.9M65.2 352.1h.9M72.3 354.2h.9M69.4 352.0h.9M62.8 356.7h.9M70.4 351.8h.9M84.2 341.5h.9M74.5 348.5h.9M68.2 350.6h.9M64.3 350.7h.9M61.0 371.0h.9M65.9 361.2h.9M69.8 351.7h.9M76.3 346.4h.9M74.6 348.9h.9M82.7 350.3h.9M76.3 356.5h.9M81.0 355.4h.9M66.9 348.2h.9M74.8 352.5h.9M69.1 354.6h.9M66.7 350.2h.9M83.0 339.4h.9M59.7 354.1h.9M66.0 358.2h.9M85.4 345.8h.9M63.3 353.1h.9M63.8 359.8h.9M77.5 345.8h.9M90.3 349.8h.9M67.1 344.2h.9M80.4 345.8h.9M80.5 352.3h.9M65.1 359.6h.9M71.5 349.2h.9M77.3 348.2h.9M75.1 362.3h.9M78.7 357.8h.9M74.5 357.7h.9M67.3 358.3h.9M74.0 338.4h.9M75.7 348.6h.9M81.2 346.8h.9M68.0 348.9h.9M92.2 331.8h.9M67.9 352.4h.9M70.9 355.7h.9M65.7 365.2h.9M72.3 356.8h.9M55.1 364.4h.9M69.1 353.5h.9M68.4 358.3h.9M72.5 346.9h.9M60.0 368.0h.9M73.3 358.9h.9M78.7 347.1h.9M60.7 360.7h.9M70.8 362.1h.9M62.6 367.0h.9M59.2 360.7h.9M59.8 359.4h.9M70.3 357.1h.9M70.1 359.2h.9M86.0 342.6h.9M63.3 359.6h.9M70.6 352.4h.9M84.5 349.9h.9M89.0 342.3h.9M52.1 369.3h.9M75.0 345.9h.9M70.7 360.1h.9M70.1 348.1h.9M58.8 345.6h.9M68.7 348.6h.9M68.5 349.1h.9M64.0 357.0h.9M89.6 331.3h.9M62.0 358.6h.9M82.8 349.2h.9M76.7 347.5h.9M71.1 349.5h.9M68.6 351.3h.9M58.6 358.6h.9M88.0 342.3h.9M66.5 357.4h.9M72.8 360.3h.9M70.3 350.9h.9M78.5 349.9h.9M65.0 354.6h.9M68.5 346.3h.9M68.7 362.4h.9M82.2 351.6h.9M67.3 353.7h.9M68.9 353.0h.9M81.3 344.2h.9M80.4 342.0h.9M80.1 356.5h.9M64.9 355.4h.9M63.1 351.0h.9M68.2 352.6h.9M87.4 337.5h.9M59.3 369.9h.9M79.4 346.9h.9M76.7 353.8h.9M68.3 356.7h.9M78.5 358.1h.9M83.4 344.8h.9M65.1 364.6h.9M75.5 357.6h.9M73.4 353.4h.9M75.1 346.3h.9M74.4 365.4h.9M68.8 361.8h.9M80.0 351.7h.9M78.5 339.7h.9M73.3 339.7h.9M73.8 353.9h.9M83.4 350.5h.9M64.6 357.9h.9M69.1 351.6h.9M64.3 355.8h.9M85.1 350.7h.9M83.1 354.4h.9M69.8 348.6h.9M68.1 357.9h.9M83.7 351.0h.9M68.6 362.1h.9M70.2 358.6h.9M83.7 352.6h.9M69.2 357.2h.9M74.3 348.9h.9M74.9 354.6h.9M58.2 361.1h.9M90.9 340.2h.9M62.7 350.0h.9M66.8 360.9h.9M78.8 350.4h.9M75.0 347.2h.9M80.8 339.0h.9M75.4 348.9h.9M62.4 367.0h.9M72.5 357.4h.9M82.4 345.7h.9M66.8 356.4h.9M76.3 358.7h.9M83.6 353.4h.9M75.7 345.6h.9M82.2 350.8h.9M72.9 355.5h.9M66.2 350.5h.9M74.0 356.4h.9M62.9 347.3h.9M69.7 362.0h.9M77.5 355.7h.9M65.5 356.3h.9M62.6 356.6h.9M76.6 350.4h.9M69.7 357.2h.9M61.5 359.9h.9M56.7 357.1h.9M58.9 357.6h.9M88.3 348.2h.9M80.0 343.1h.9M73.6 345.1h.9M69.1 357.4h.9M61.1 363.8h.9M70.7 341.8h.9M53.4 367.4h.9M71.9 354.4h.9M65.7 362.2h.9M71.1 349.7h.9M85.4 343.7h.9M83.5 355.1h.9M68.0 355.4h.9M58.8 363.2h.9M83.3 359.4h.9M77.2 350.3h.9M60.4 357.9h.9M54.4 359.7h.9M74.1 353.5h.9M64.9 358.0h.9M68.3 360.4h.9M75.4 347.1h.9M65.2 351.5h.9M75.6 363.9h.9M74.9 356.3h.9M81.2 354.8h.9M67.2 351.9h.9M82.9 349.9h.9M70.8 361.2h.9M72.1 353.0h.9M87.7 343.5h.9M73.7 350.0h.9M77.1 355.7h.9M73.5 347.5h.9M75.3 349.9h.9M74.1 350.5h.9M51.2 361.0h.9M62.8 347.5h.9M67.4 369.9h.9M76.1 347.1h.9M68.0 342.9h.9M77.2 355.1h.9M69.8 347.2h.9M78.0 345.1h.9M68.7 357.4h.9M76.3 362.4h.9M77.9 361.8h.9M71.9 345.8h.9M72.5 353.3h.9M87.0 348.7h.9M89.4 334.6h.9M76.2 364.3h.9M66.8 360.0h.9M81.3 339.3h.9M67.5 352.6h.9M77.5 351.3h.9M74.1 355.7h.9M65.3 356.7h.9M82.0 357.5h.9M72.3 353.6h.9M82.4 345.1h.9M82.8 345.8h.9M81.6 346.5h.9M62.9 355.8h.9M81.4 357.3h.9M85.3 340.2h.9M87.7 333.3h.9M68.9 361.8h.9M63.8 366.0h.9M77.1 353.0h.9M64.5 362.1h.9M79.2 347.0h.9M80.2 346.7h.9M74.0 349.8h.9M61.7 361.1h.9M73.8 347.2h.9M53.0 359.8h.9M81.5 344.0h.9M70.5 362.4h.9M66.4 348.7h.9M66.4 352.7h.9M68.2 350.9h.9M74.3 354.4h.9M67.5 356.0h.9M73.8 357.1h.9M69.3 360.4h.9M81.1 344.5h.9M64.2 358.1h.9M57.4 362.3h.9M62.9 360.0h.9M71.2 357.3h.9M74.6 353.9h.9M72.9 354.4h.9M65.9 362.7h.9M85.6 348.9h.9M63.6 363.1h.9M62.5 366.1h.9M69.4 352.7h.9M66.0 356.9h.9M69.4 349.6h.9M73.6 353.7h.9M76.2 349.6h.9M79.5 361.6h.9M81.0 347.9h.9M63.9 364.1h.9M68.5 339.7h.9M72.3 355.5h.9M73.0 353.2h.9M75.5 359.1h.9M74.4 349.6h.9M77.1 362.2h.9M64.3 356.6h.9M75.3 351.6h.9M78.8 356.2h.9M82.2 347.4h.9M72.5 352.6h.9M73.8 358.2h.9M59.7 357.3h.9M66.0 352.5h.9M70.6 362.1h.9M57.2 369.5h.9M61.8 360.5h.9M65.0 353.1h.9M61.4 362.8h.9M43.5 364.1h.9M72.9 359.6h.9M85.5 340.3h.9M65.5 357.1h.9M78.8 353.5h.9M66.7 360.9h.9M75.7 357.5h.9M68.7 354.9h.9M61.9 353.6h.9M76.7 354.0h.9M81.7 346.9h.9M66.1 352.6h.9M61.4 357.8h.9M75.2 351.3h.9M54.8 367.3h.9M67.0 351.1h.9M73.9 355.2h.9M60.4 354.7h.9M70.8 356.1h.9M75.2 360.4h.9M70.4 348.5h.9M76.3 345.8h.9M77.9 349.1h.9M78.6 341.6h.9M79.2 350.0h.9M67.8 361.4h.9M90.7 340.0h.9M66.2 357.4h.9M83.1 345.7h.9M81.6 341.2h.9M77.4 338.9h.9M70.3 353.0h.9M72.5 360.7h.9M69.0 358.2h.9M89.0 344.3h.9M67.0 353.0h.9M58.4 367.2h.9M82.6 351.5h.9M80.9 359.4h.9M71.1 339.6h.9M68.2 361.6h.9M72.0 358.7h.9M89.5 333.9h.9M89.0 338.6h.9M61.6 362.8h.9M77.5 345.1h.9M81.7 339.8h.9M73.8 357.7h.9M69.1 352.4h.9M74.3 355.6h.9M89.8 347.0h.9M86.6 341.0h.9M59.7 363.5h.9M66.2 352.0h.9M68.3 356.1h.9M75.7 356.1h.9M69.1 363.1h.9M75.1 355.5h.9M78.1 340.5h.9M82.4 340.2h.9M78.9 354.5h.9M74.6 341.4h.9M77.2 356.2h.9M71.3 353.5h.9M78.1 358.6h.9M65.4 353.0h.9M62.4 358.2h.9M71.7 355.8h.9M66.5 347.2h.9M62.6 365.6h.9M73.8 343.4h.9M72.1 338.1h.9M92.0 340.3h.9M61.4 365.6h.9M70.8 351.6h.9M69.0 354.6h.9M68.9 350.4h.9M69.9 358.7h.9M72.4 344.7h.9M73.6 361.9h.9M83.1 354.5h.9M59.0 357.9h.9M49.9 359.8h.9M66.4 351.6h.9M62.0 357.5h.9M73.6 357.3h.9M71.3 342.9h.9M82.8 342.2h.9M64.7 359.3h.9M65.1 350.5h.9M82.6 340.9h.9M69.6 358.9h.9M86.8 344.0h.9M67.0 360.4h.9M82.1 347.3h.9M76.0 347.1h.9M66.8 347.3h.9M63.5 353.5h.9M77.2 358.5h.9M51.2 362.6h.9M65.1 358.7h.9M79.0 342.6h.9M70.2 362.5h.9M77.0 352.5h.9M76.6 344.9h.9M72.2 349.1h.9M67.4 358.2h.9M71.9 345.5h.9M68.5 360.2h.9M75.8 354.4h.9M67.6 352.1h.9M80.3 350.2h.9M53.4 374.5h.9M68.7 360.4h.9M83.7 341.8h.9M65.8 360.2h.9M74.9 354.5h.9M62.5 363.0h.9M81.5 349.8h.9M81.0 353.4h.9M70.0 362.8h.9M71.0 348.0h.9M71.0 355.9h.9M79.2 355.8h.9M72.4 349.9h.9M88.2 337.7h.9M69.0 361.7h.9M66.9 352.8h.9M68.0 364.3h.9M64.7 360.3h.9M68.4 355.3h.9M66.7 358.9h.9M80.4 353.0h.9M66.1 351.0h.9M61.1 362.6h.9M57.6 374.0h.9M73.1 353.3h.9M59.8 359.7h.9M68.9 360.3h.9M71.3 357.9h.9M70.5 342.6h.9M74.6 359.2h.9M69.0 356.8h.9M67.7 349.3h.9M88.9 338.4h.9M76.0 347.2h.9M86.8 348.2h.9M84.5 348.9h.9M82.2 353.6h.9M76.0 350.9h.9M76.0 344.5h.9M55.5 372.4h.9M71.5 349.5h.9M67.5 351.3h.9M66.6 359.2h.9M76.0 355.3h.9M73.8 355.9h.9M75.6 346.0h.9M57.4 361.4h.9M68.9 352.7h.9M87.4 336.2h.9M73.8 347.2h.9M73.9 343.9h.9M80.4 347.5h.9M65.8 351.2h.9M83.5 340.1h.9M76.1 334.9h.9M68.9 367.4h.9M86.3 341.6h.9M82.1 348.8h.9M70.2 355.8h.9M59.6 355.5h.9M75.7 354.9h.9M70.0 347.5h.9M79.3 347.9h.9M77.4 347.1h.9M73.7 358.6h.9M79.3 339.8h.9M67.0 363.8h.9M75.5 350.9h.9M68.1 363.1h.9M74.6 352.6h.9M73.9 348.6h.9M76.0 351.0h.9M79.2 349.8h.9M60.5 358.7h.9M74.1 359.0h.9M71.0 361.4h.9M83.5 349.3h.9M89.8 338.4h.9M78.8 355.4h.9M78.7 354.1h.9M75.9 359.1h.9M69.3 343.8h.9M80.3 345.3h.9M64.8 357.7h.9M73.9 359.1h.9M74.9 350.6h.9M69.7 349.9h.9M66.2 355.5h.9M67.2 350.3h.9M72.6 359.3h.9M76.0 350.1h.9M74.5 349.9h.9M66.2 363.9h.9M91.3 340.4h.9M85.4 357.6h.9M64.9 362.8h.9M69.1 354.2h.9M59.6 363.5h.9M70.7 344.6h.9M69.3 352.7h.9M66.8 361.8h.9M86.4 344.0h.9M82.8 349.2h.9M73.8 355.6h.9M81.4 342.9h.9M67.2 349.0h.9M55.8 362.1h.9M80.5 348.6h.9M78.6 356.2h.9M63.2 369.5h.9M75.6 355.4h.9M80.7 341.2h.9M67.1 360.2h.9M70.3 351.3h.9M69.4 351.2h.9M72.4 350.8h.9M82.4 338.3h.9M77.2 349.6h.9M81.7 339.3h.9M74.3 362.4h.9M66.3 355.9h.9M66.5 352.0h.9M86.6 350.7h.9M69.1 351.3h.9" stroke="#585882" stroke-width=".9" stroke-opacity="0.45" fill="none"/>
<path d="M44.6 369.4h.9M46.6 368.6h.9M45.7 366.0h.9M44.9 363.5h.9M45.7 369.1h.9M47.1 364.8h.9M47.6 360.5h.9M48.8 371.8h.9M43.5 365.4h.9M46.3 372.3h.9M45.6 358.4h.9M47.6 365.1h.9M46.3 364.2h.9M45.3 357.9h.9M46.6 362.4h.9M45.4 371.8h.9M46.9 358.9h.9M45.2 366.1h.9M45.7 359.8h.9M45.6 371.9h.9M47.6 374.7h.9M46.8 351.1h.9M45.0 362.8h.9M47.1 366.0h.9M46.1 369.0h.9M45.1 374.2h.9M48.6 370.9h.9M44.6 367.6h.9M47.2 370.3h.9M44.3 371.7h.9M46.7 369.5h.9M44.8 365.9h.9M44.7 364.3h.9M45.0 364.2h.9M45.6 366.6h.9M44.5 365.3h.9M45.3 369.0h.9M46.3 363.9h.9M44.1 356.3h.9M43.4 368.5h.9M45.2 363.8h.9M45.2 362.8h.9M44.4 366.5h.9M45.3 360.7h.9M47.3 368.2h.9M47.4 362.1h.9M43.4 359.0h.9M48.2 363.2h.9M45.8 362.9h.9M45.7 360.7h.9M46.7 373.7h.9M47.0 370.5h.9M45.2 372.0h.9M44.1 359.0h.9M45.1 364.6h.9M47.6 360.2h.9M47.5 361.4h.9M43.3 356.0h.9M45.4 357.5h.9M45.9 366.3h.9M44.8 354.6h.9M44.6 368.7h.9M45.5 362.8h.9M45.8 369.9h.9M45.5 361.4h.9M46.8 362.0h.9M46.1 371.8h.9M47.2 366.9h.9M45.2 367.2h.9M46.6 361.1h.9M48.1 356.6h.9M47.2 358.5h.9M43.6 363.1h.9M45.0 358.0h.9M46.6 365.4h.9M47.8 360.0h.9M45.1 371.8h.9M43.4 354.7h.9M44.7 374.4h.9M48.2 358.0h.9M44.5 355.1h.9M44.1 360.3h.9M46.2 372.8h.9M49.6 363.9h.9M46.9 367.3h.9M46.0 371.2h.9M46.4 365.5h.9M44.3 363.6h.9" stroke="#9080b0" stroke-width=".9" stroke-opacity="0.5" fill="none"/>
<path d="M44.0 373.7h.9M43.7 373.4h.9M44.7 373.8h.9M43.9 373.8h.9M45.1 373.5h.9M45.1 373.2h.9M45.2 374.5h.9M43.6 374.4h.9M44.9 373.2h.9M43.8 374.3h.9M43.8 373.7h.9M44.0 374.3h.9" stroke="#c04060" stroke-width=".9" stroke-opacity="0.7" fill="none"/>
<path d="M51.8 358.8 L54.5 348.8 L67.5 331.2 L82.5 325.0 L99.5 335.5 L92.5 352.5 L80.0 363.8 L61.2 370.0 Z" fill="none" stroke="#3a3a3a" stroke-width="0.9" stroke-linejoin="round"/>
<text x="72.9" y="315.8" font-size="7.5" text-anchor="middle" fill="#262626" stroke="#262626" stroke-width="0.18">THP-1</text>
<text x="72.9" y="323.9" font-size="7.6" text-anchor="middle" fill="#262626" stroke="#262626" stroke-width="0.18">75.1%</text>
<rect x="42.5" y="303.5" width="73.5" height="73.0" fill="none" stroke="#c9c9c9" stroke-width="1"/>
<line x1="40.5" y1="376.5" x2="42.5" y2="376.5" stroke="#444" stroke-width="0.9"/>
<text x="38.2" y="379.2" font-size="7.6" text-anchor="end" fill="#2e2e2e" stroke="#2e2e2e" stroke-width="0.18">0</text>
<line x1="41.3" y1="373.708" x2="42.5" y2="373.708" stroke="#999" stroke-width="0.6"/>
<line x1="41.3" y1="370.916" x2="42.5" y2="370.916" stroke="#999" stroke-width="0.6"/>
<line x1="41.3" y1="368.124" x2="42.5" y2="368.124" stroke="#999" stroke-width="0.6"/>
<line x1="41.3" y1="365.332" x2="42.5" y2="365.332" stroke="#999" stroke-width="0.6"/>
<line x1="40.5" y1="362.54" x2="42.5" y2="362.54" stroke="#444" stroke-width="0.9"/>
<text x="38.2" y="365.24" font-size="7.6" text-anchor="end" fill="#2e2e2e" stroke="#2e2e2e" stroke-width="0.18">50K</text>
<line x1="41.3" y1="359.74800000000005" x2="42.5" y2="359.74800000000005" stroke="#999" stroke-width="0.6"/>
<line x1="41.3" y1="356.956" x2="42.5" y2="356.956" stroke="#999" stroke-width="0.6"/>
<line x1="41.3" y1="354.16400000000004" x2="42.5" y2="354.16400000000004" stroke="#999" stroke-width="0.6"/>
<line x1="41.3" y1="351.372" x2="42.5" y2="351.372" stroke="#999" stroke-width="0.6"/>
<line x1="40.5" y1="348.58" x2="42.5" y2="348.58" stroke="#444" stroke-width="0.9"/>
<text x="38.2" y="351.28" font-size="7.6" text-anchor="end" fill="#2e2e2e" stroke="#2e2e2e" stroke-width="0.18">100K</text>
<line x1="41.3" y1="345.788" x2="42.5" y2="345.788" stroke="#999" stroke-width="0.6"/>
<line x1="41.3" y1="342.996" x2="42.5" y2="342.996" stroke="#999" stroke-width="0.6"/>
<line x1="41.3" y1="340.204" x2="42.5" y2="340.204" stroke="#999" stroke-width="0.6"/>
<line x1="41.3" y1="337.412" x2="42.5" y2="337.412" stroke="#999" stroke-width="0.6"/>
<line x1="40.5" y1="334.62" x2="42.5" y2="334.62" stroke="#444" stroke-width="0.9"/>
<text x="38.2" y="337.32" font-size="7.6" text-anchor="end" fill="#2e2e2e" stroke="#2e2e2e" stroke-width="0.18">150K</text>
<line x1="41.3" y1="331.82800000000003" x2="42.5" y2="331.82800000000003" stroke="#999" stroke-width="0.6"/>
<line x1="41.3" y1="329.036" x2="42.5" y2="329.036" stroke="#999" stroke-width="0.6"/>
<line x1="41.3" y1="326.244" x2="42.5" y2="326.244" stroke="#999" stroke-width="0.6"/>
<line x1="41.3" y1="323.452" x2="42.5" y2="323.452" stroke="#999" stroke-width="0.6"/>
<line x1="40.5" y1="320.66" x2="42.5" y2="320.66" stroke="#444" stroke-width="0.9"/>
<text x="38.2" y="323.36" font-size="7.6" text-anchor="end" fill="#2e2e2e" stroke="#2e2e2e" stroke-width="0.18">200K</text>
<line x1="41.3" y1="317.86800000000005" x2="42.5" y2="317.86800000000005" stroke="#999" stroke-width="0.6"/>
<line x1="41.3" y1="315.076" x2="42.5" y2="315.076" stroke="#999" stroke-width="0.6"/>
<line x1="41.3" y1="312.28400000000005" x2="42.5" y2="312.28400000000005" stroke="#999" stroke-width="0.6"/>
<line x1="41.3" y1="309.492" x2="42.5" y2="309.492" stroke="#999" stroke-width="0.6"/>
<line x1="40.5" y1="306.7" x2="42.5" y2="306.7" stroke="#444" stroke-width="0.9"/>
<text x="38.2" y="309.4" font-size="7.6" text-anchor="end" fill="#2e2e2e" stroke="#2e2e2e" stroke-width="0.18">250K</text>
<line x1="41.3" y1="303.908" x2="42.5" y2="303.908" stroke="#999" stroke-width="0.6"/>
<line x1="42.2" y1="376.5" x2="42.2" y2="378.8" stroke="#555" stroke-width="0.8"/>
<text transform="translate(44.800000000000004,383.7) rotate(-47)" font-size="7.4" text-anchor="end" fill="#2e2e2e" stroke="#2e2e2e" stroke-width="0.18">0</text>
<line x1="55.0" y1="376.5" x2="55.0" y2="378.8" stroke="#555" stroke-width="0.8"/>
<text transform="translate(57.6,383.7) rotate(-47)" font-size="7.4" text-anchor="end" fill="#2e2e2e" stroke="#2e2e2e" stroke-width="0.18">50K</text>
<line x1="67.80000000000001" y1="376.5" x2="67.80000000000001" y2="378.8" stroke="#555" stroke-width="0.8"/>
<text transform="translate(70.4,383.7) rotate(-47)" font-size="7.4" text-anchor="end" fill="#2e2e2e" stroke="#2e2e2e" stroke-width="0.18">100K</text>
<line x1="80.60000000000001" y1="376.5" x2="80.60000000000001" y2="378.8" stroke="#555" stroke-width="0.8"/>
<text transform="translate(83.2,383.7) rotate(-47)" font-size="7.4" text-anchor="end" fill="#2e2e2e" stroke="#2e2e2e" stroke-width="0.18">150K</text>
<line x1="93.4" y1="376.5" x2="93.4" y2="378.8" stroke="#555" stroke-width="0.8"/>
<text transform="translate(96.0,383.7) rotate(-47)" font-size="7.4" text-anchor="end" fill="#2e2e2e" stroke="#2e2e2e" stroke-width="0.18">200K</text>
<line x1="106.2" y1="376.5" x2="106.2" y2="378.8" stroke="#555" stroke-width="0.8"/>
<text transform="translate(108.8,383.7) rotate(-47)" font-size="7.4" text-anchor="end" fill="#2e2e2e" stroke="#2e2e2e" stroke-width="0.18">250K</text>
<line x1="44.760000000000005" y1="376.5" x2="44.760000000000005" y2="377.6" stroke="#999" stroke-width="0.6"/>
<line x1="47.32" y1="376.5" x2="47.32" y2="377.6" stroke="#999" stroke-width="0.6"/>
<line x1="49.88" y1="376.5" x2="49.88" y2="377.6" stroke="#999" stroke-width="0.6"/>
<line x1="52.44" y1="376.5" x2="52.44" y2="377.6" stroke="#999" stroke-width="0.6"/>
<line x1="57.56" y1="376.5" x2="57.56" y2="377.6" stroke="#999" stroke-width="0.6"/>
<line x1="60.120000000000005" y1="376.5" x2="60.120000000000005" y2="377.6" stroke="#999" stroke-width="0.6"/>
<line x1="62.68000000000001" y1="376.5" x2="62.68000000000001" y2="377.6" stroke="#999" stroke-width="0.6"/>
<line x1="65.24000000000001" y1="376.5" x2="65.24000000000001" y2="377.6" stroke="#999" stroke-width="0.6"/>
<line x1="70.36000000000001" y1="376.5" x2="70.36000000000001" y2="377.6" stroke="#999" stroke-width="0.6"/>
<line x1="72.92000000000002" y1="376.5" x2="72.92000000000002" y2="377.6" stroke="#999" stroke-width="0.6"/>
<line x1="75.48" y1="376.5" x2="75.48" y2="377.6" stroke="#999" stroke-width="0.6"/>
<line x1="78.04" y1="376.5" x2="78.04" y2="377.6" stroke="#999" stroke-width="0.6"/>
<line x1="83.16000000000001" y1="376.5" x2="83.16000000000001" y2="377.6" stroke="#999" stroke-width="0.6"/>
<line x1="85.72000000000001" y1="376.5" x2="85.72000000000001" y2="377.6" stroke="#999" stroke-width="0.6"/>
<line x1="88.28" y1="376.5" x2="88.28" y2="377.6" stroke="#999" stroke-width="0.6"/>
<line x1="90.84" y1="376.5" x2="90.84" y2="377.6" stroke="#999" stroke-width="0.6"/>
<line x1="95.96000000000001" y1="376.5" x2="95.96000000000001" y2="377.6" stroke="#999" stroke-width="0.6"/>
<line x1="98.52000000000001" y1="376.5" x2="98.52000000000001" y2="377.6" stroke="#999" stroke-width="0.6"/>
<line x1="101.08" y1="376.5" x2="101.08" y2="377.6" stroke="#999" stroke-width="0.6"/>
<line x1="103.64" y1="376.5" x2="103.64" y2="377.6" stroke="#999" stroke-width="0.6"/>
<text x="78.6" y="409.9" font-size="9.2" text-anchor="middle" font-weight="bold" fill="#1a1a1a" textLength="18.2" lengthAdjust="spacingAndGlyphs" stroke="#1a1a1a" stroke-width="0.144">FSC-A</text>
<text transform="translate(14.6,340.0) rotate(-90)" font-size="8.6" text-anchor="middle" font-weight="bold" fill="#1a1a1a" textLength="17.6" lengthAdjust="spacingAndGlyphs" stroke="#1a1a1a" stroke-width="0.144">SSC-A</text>
<ellipse cx="204" cy="357.0" rx="19" ry="2.8" transform="rotate(-28.6 204 357.0)" fill="#8c8cc4" fill-opacity="0.45" filter="url(#bl)"/>
<path d="M191.2 364.1h.9M225.1 345.2h.9M196.1 362.3h.9M209.9 351.4h.9M210.3 356.0h.9M223.5 348.6h.9M206.4 356.3h.9M195.0 362.7h.9M224.7 345.9h.9M206.6 357.2h.9M185.6 367.6h.9M195.7 358.9h.9M185.9 368.6h.9M215.4 349.5h.9M193.7 364.9h.9M185.2 366.9h.9M225.1 345.8h.9M221.1 347.4h.9M209.0 354.3h.9M192.9 363.0h.9M217.7 350.9h.9M187.0 366.5h.9M209.3 356.5h.9M204.0 359.7h.9M218.3 353.1h.9M191.2 362.1h.9M199.5 360.1h.9M223.0 346.1h.9M197.7 359.7h.9M214.0 351.0h.9M194.9 359.8h.9M219.2 350.2h.9M190.1 365.2h.9M216.6 351.5h.9M212.0 352.3h.9M192.7 360.6h.9M205.6 358.1h.9M209.3 354.5h.9M195.1 362.4h.9M202.1 357.1h.9M212.9 353.0h.9M201.9 361.0h.9M186.6 367.9h.9M219.1 350.5h.9M213.2 354.0h.9M216.0 349.2h.9M218.6 348.0h.9M190.4 363.6h.9M194.2 363.2h.9M200.6 359.5h.9M195.1 359.2h.9M194.8 361.0h.9M221.7 348.2h.9M208.4 353.9h.9M192.7 364.3h.9M192.8 363.7h.9M185.1 369.2h.9M220.5 348.8h.9M220.4 348.8h.9M220.1 348.8h.9M199.1 358.4h.9M207.3 357.9h.9M198.0 361.0h.9M214.2 352.5h.9M222.4 348.3h.9M206.2 356.4h.9M194.4 360.5h.9M195.1 362.2h.9M188.1 363.8h.9M190.3 365.8h.9M207.0 356.6h.9M197.7 358.6h.9M223.3 347.7h.9M194.3 357.0h.9M202.9 354.5h.9M210.5 354.9h.9M205.5 352.7h.9M198.7 359.8h.9M189.7 365.4h.9M188.4 366.5h.9M224.3 344.6h.9M202.6 356.9h.9M206.1 356.7h.9M203.2 361.4h.9M201.0 358.7h.9M225.1 344.0h.9M203.0 354.8h.9M202.5 359.6h.9M192.0 362.5h.9M194.9 362.4h.9M215.9 349.6h.9M197.5 362.7h.9M189.0 365.8h.9M212.4 350.0h.9M210.0 355.0h.9M219.6 350.4h.9M216.2 349.0h.9M190.7 363.3h.9M186.4 366.9h.9M194.5 362.1h.9M200.4 358.4h.9M219.6 347.0h.9M223.0 347.0h.9M189.5 366.0h.9M199.3 363.3h.9M209.3 357.2h.9M206.2 359.9h.9M194.8 363.4h.9M216.5 350.9h.9M190.2 365.7h.9M206.3 355.6h.9M214.9 353.5h.9M194.0 363.9h.9M201.4 360.2h.9M202.5 357.4h.9M189.4 365.7h.9M213.9 350.4h.9M210.0 352.1h.9M206.1 357.5h.9M208.0 359.0h.9M203.2 357.6h.9M225.6 346.7h.9M201.2 359.1h.9M208.8 353.8h.9M195.5 362.0h.9M201.3 360.2h.9M209.8 351.3h.9M191.1 365.7h.9M219.0 347.0h.9M201.1 360.1h.9M195.5 363.6h.9M213.7 350.6h.9M205.5 355.4h.9M213.5 348.3h.9M224.5 345.8h.9M221.5 348.8h.9M219.5 350.1h.9M200.9 357.7h.9M223.9 346.8h.9M191.6 364.8h.9M196.1 360.1h.9M203.7 358.3h.9M185.2 366.7h.9M186.7 367.7h.9M205.1 358.9h.9M223.3 346.0h.9M220.0 348.4h.9M186.5 366.7h.9M208.6 355.7h.9M189.1 364.3h.9M215.2 349.6h.9M189.2 364.8h.9M206.2 353.6h.9M221.5 347.0h.9M187.4 366.7h.9M200.9 357.6h.9M198.7 360.8h.9M186.5 365.5h.9M204.0 357.5h.9M186.2 367.0h.9M200.0 359.4h.9M189.8 364.9h.9M220.5 345.1h.9M206.2 354.7h.9M223.9 346.2h.9M185.7 366.1h.9M190.4 365.1h.9M195.5 359.5h.9M190.0 362.7h.9M193.3 360.2h.9M225.6 345.0h.9M191.6 363.7h.9M214.3 352.8h.9M193.8 362.3h.9M190.1 365.0h.9M202.0 359.6h.9M193.7 362.2h.9M194.8 361.2h.9M201.7 358.8h.9M187.9 366.2h.9M184.1 367.8h.9M203.9 356.8h.9M221.0 347.4h.9M200.5 358.2h.9M201.8 358.2h.9M190.7 364.8h.9M190.1 365.0h.9M188.8 366.5h.9M210.1 354.7h.9M213.9 353.9h.9M204.8 356.7h.9M201.5 355.5h.9M193.8 365.0h.9M199.7 360.3h.9M196.6 362.2h.9M221.6 348.3h.9M204.7 358.9h.9M193.4 360.5h.9M193.8 363.6h.9M208.8 353.9h.9M222.8 346.0h.9M224.3 346.6h.9M221.0 350.0h.9M193.0 362.1h.9M187.1 368.9h.9M207.0 356.2h.9M221.5 348.8h.9M224.7 346.0h.9M195.7 362.3h.9M226.1 346.2h.9M223.1 346.2h.9M219.1 350.5h.9M218.2 350.8h.9M193.4 362.1h.9M206.5 358.2h.9M220.3 347.8h.9M190.9 361.0h.9M207.9 355.0h.9M217.6 350.6h.9M212.2 351.2h.9M212.3 351.0h.9M218.3 350.3h.9M221.5 349.1h.9M212.3 352.7h.9M207.5 356.2h.9M203.2 356.7h.9M195.1 362.9h.9M183.6 366.7h.9M189.0 366.4h.9M217.2 351.8h.9M199.3 361.8h.9M210.3 355.0h.9M202.0 358.1h.9M194.3 363.9h.9M217.4 348.4h.9M207.9 357.1h.9M193.5 362.5h.9M221.1 350.1h.9M222.8 347.8h.9M188.5 366.4h.9M191.2 362.4h.9M223.0 348.4h.9M209.3 355.5h.9M190.5 365.6h.9M195.0 360.4h.9M190.9 363.5h.9M196.4 363.2h.9M208.6 353.3h.9M197.2 360.1h.9M185.3 369.0h.9M212.4 355.1h.9M185.8 366.6h.9M185.5 367.4h.9M201.3 357.6h.9M211.1 352.8h.9M212.1 351.7h.9M221.9 346.5h.9M212.9 352.8h.9M220.2 347.4h.9M215.5 347.9h.9M224.2 346.5h.9M193.7 365.0h.9M188.2 364.0h.9M197.8 364.0h.9M198.7 364.3h.9M215.0 349.4h.9M198.9 360.3h.9M184.3 367.5h.9M186.5 366.2h.9M220.4 349.3h.9M203.3 358.9h.9M199.0 358.4h.9M199.0 361.8h.9M224.1 346.9h.9M225.0 346.5h.9M202.4 357.8h.9M219.1 349.5h.9M192.8 363.7h.9M187.5 366.0h.9M224.8 344.5h.9M185.9 366.4h.9M190.5 362.1h.9M188.2 367.9h.9M186.8 366.2h.9M191.7 363.4h.9M201.9 357.5h.9M190.8 365.7h.9M207.3 356.7h.9M220.1 349.9h.9M187.0 366.4h.9M207.6 356.2h.9M225.1 346.8h.9M210.8 352.5h.9M191.7 362.1h.9M213.1 353.1h.9M219.2 349.0h.9M198.8 360.8h.9M220.5 350.3h.9M191.2 364.7h.9M193.3 364.7h.9M205.5 356.9h.9M202.0 358.4h.9M192.9 364.2h.9M224.3 347.7h.9M202.6 355.4h.9M219.8 348.1h.9M224.5 346.0h.9M222.8 347.9h.9M209.7 355.0h.9M216.9 349.8h.9M189.2 365.7h.9M199.5 360.4h.9M200.5 356.9h.9M200.6 355.6h.9M207.7 353.8h.9M195.5 362.7h.9M184.2 367.8h.9M218.5 351.9h.9M212.1 351.3h.9M192.2 364.2h.9M195.1 364.2h.9M201.0 358.9h.9M205.8 354.8h.9M201.6 358.7h.9M203.3 360.7h.9M195.2 359.9h.9M203.5 358.4h.9M191.1 367.5h.9M205.1 358.7h.9M203.4 357.8h.9M184.9 368.2h.9M204.6 358.7h.9M197.3 362.3h.9M198.8 360.6h.9M188.1 365.1h.9M206.0 355.5h.9M214.6 353.5h.9M210.8 353.8h.9M221.2 347.2h.9M210.6 350.7h.9M193.8 363.7h.9M203.3 354.9h.9M223.9 349.1h.9M199.5 360.8h.9M206.9 356.0h.9M204.4 356.0h.9M185.7 369.6h.9M193.6 363.7h.9M203.2 360.7h.9M206.5 358.8h.9M219.8 348.6h.9M195.1 363.8h.9M208.5 354.3h.9M207.6 353.1h.9M197.2 361.3h.9M191.0 364.2h.9M213.4 355.5h.9M194.1 362.1h.9M223.0 345.7h.9M211.4 353.9h.9M211.1 356.2h.9M196.2 359.0h.9M221.1 347.3h.9M191.4 365.9h.9M210.1 352.3h.9M214.1 357.1h.9M200.6 359.9h.9M215.3 351.1h.9M212.0 354.9h.9M189.0 365.5h.9M226.5 346.4h.9M207.4 356.9h.9M189.9 366.4h.9M209.6 353.4h.9M195.4 362.7h.9M185.8 367.8h.9M191.8 362.3h.9M216.0 350.9h.9M190.1 365.2h.9M213.7 354.1h.9M197.3 361.1h.9M199.6 360.5h.9M200.1 359.8h.9M197.8 359.4h.9M215.3 351.3h.9M225.0 346.3h.9M222.2 347.1h.9M203.9 358.7h.9M193.1 363.8h.9M212.5 349.4h.9M201.7 360.7h.9M190.5 361.6h.9M213.0 354.8h.9M219.0 353.1h.9M201.2 358.7h.9M186.3 365.8h.9M206.3 357.8h.9M220.1 349.3h.9M208.2 354.9h.9M208.0 356.4h.9M205.8 357.3h.9M203.3 357.0h.9M202.5 357.3h.9M200.4 360.0h.9M207.0 356.2h.9M206.8 357.3h.9M223.0 346.0h.9M185.5 367.3h.9M205.5 356.0h.9M204.2 357.9h.9M209.2 352.8h.9M211.5 355.6h.9M187.2 367.6h.9M209.7 354.9h.9M207.5 355.6h.9M214.8 353.0h.9M200.1 358.1h.9M210.3 353.7h.9M205.4 359.6h.9M217.7 350.0h.9M226.1 347.0h.9M203.2 356.7h.9M195.0 361.6h.9M196.9 359.4h.9M188.2 364.1h.9M215.7 349.5h.9M190.6 365.0h.9M190.2 366.5h.9M221.9 349.3h.9M194.6 361.3h.9M207.7 355.5h.9M210.6 352.2h.9M210.3 356.5h.9M211.4 351.7h.9M207.7 357.2h.9M212.3 351.4h.9M197.7 362.3h.9M193.8 363.9h.9M224.9 346.5h.9M199.5 363.3h.9M191.6 362.8h.9M225.6 345.3h.9M210.4 355.1h.9M189.0 366.0h.9M204.1 355.7h.9M212.2 352.7h.9M203.2 358.9h.9M194.0 360.5h.9M219.3 350.1h.9M185.3 367.5h.9M223.1 345.0h.9M225.4 345.4h.9M187.9 366.1h.9M213.4 352.1h.9M216.3 348.3h.9M217.1 352.4h.9M204.8 356.6h.9M187.5 366.8h.9M206.3 354.9h.9M206.2 355.9h.9M187.1 365.8h.9M191.2 366.1h.9M207.0 358.2h.9M193.8 365.0h.9M224.2 349.1h.9M195.0 360.0h.9M214.3 355.8h.9M213.9 353.9h.9M185.7 367.4h.9M198.9 360.7h.9M223.5 347.1h.9M217.5 348.8h.9M184.0 367.0h.9M187.0 366.0h.9M221.7 345.6h.9M208.9 349.9h.9M210.7 355.1h.9M222.1 348.6h.9M206.9 354.4h.9M198.4 358.8h.9" stroke="#6262aa" stroke-width=".9" stroke-opacity="0.42" fill="none"/>
<path d="M186.4 366.8h.9M189.4 365.7h.9M187.9 366.0h.9M208.8 350.8h.9M215.3 351.6h.9M200.3 361.5h.9M215.9 350.8h.9M204.9 357.8h.9M193.8 362.7h.9M214.3 353.3h.9M220.2 348.0h.9M202.0 357.3h.9M205.5 354.1h.9M205.2 355.1h.9M219.3 348.1h.9M187.1 366.5h.9M197.3 360.7h.9M201.4 358.7h.9M190.0 364.6h.9M218.8 350.9h.9M189.6 364.2h.9M187.7 365.6h.9M195.9 360.4h.9M205.8 356.0h.9M188.0 365.1h.9M192.3 362.7h.9M206.8 358.1h.9M207.2 354.5h.9M204.2 357.1h.9M210.2 352.6h.9M198.3 358.5h.9M206.2 355.4h.9M206.7 354.9h.9M209.2 355.1h.9M201.1 357.7h.9M196.3 361.8h.9M208.1 355.6h.9M208.5 354.2h.9M204.1 356.0h.9M199.4 358.3h.9M186.1 366.4h.9M208.5 355.9h.9M218.2 348.9h.9M197.7 359.2h.9M214.4 353.0h.9M203.9 359.2h.9M201.6 358.0h.9M220.5 347.5h.9M190.7 365.6h.9M194.1 363.1h.9M194.5 363.7h.9M196.2 361.4h.9M198.8 360.2h.9M191.0 365.0h.9M220.1 348.4h.9M189.5 364.3h.9M220.3 348.7h.9M216.3 350.3h.9M205.9 357.6h.9M201.2 358.6h.9M186.1 366.5h.9M216.7 350.0h.9M194.1 363.3h.9M214.0 351.2h.9M211.6 354.5h.9M198.3 359.7h.9M195.2 362.0h.9M196.7 361.7h.9M197.1 361.0h.9M203.5 357.4h.9M204.2 358.2h.9M193.8 364.1h.9M212.5 353.7h.9M197.8 362.7h.9M189.4 365.5h.9M190.8 364.9h.9M197.5 361.9h.9M199.7 359.4h.9M212.5 353.0h.9M216.5 350.6h.9M197.6 361.0h.9M212.3 353.4h.9M219.8 347.7h.9M202.7 359.1h.9M193.0 362.8h.9M195.1 362.9h.9M214.1 352.6h.9M212.0 353.5h.9M187.6 367.1h.9M208.7 354.3h.9M193.0 363.8h.9M220.7 349.5h.9M186.6 366.9h.9M188.5 365.1h.9M207.7 357.2h.9M216.0 351.8h.9M196.4 362.2h.9M212.7 353.6h.9M187.3 366.2h.9M199.0 359.4h.9M192.2 364.7h.9M196.8 361.8h.9M218.4 350.6h.9M203.4 356.4h.9M208.4 354.2h.9M205.7 357.5h.9M199.8 357.2h.9M220.8 348.6h.9M212.0 353.5h.9M188.4 365.2h.9M193.0 361.4h.9M211.7 353.1h.9M218.1 349.7h.9M187.7 365.4h.9M202.4 356.9h.9M218.3 351.0h.9M205.0 357.0h.9M203.4 355.6h.9M202.4 360.2h.9M205.7 355.7h.9M220.8 348.8h.9M206.0 357.9h.9M197.7 361.7h.9M216.8 351.2h.9M193.1 365.5h.9M192.0 361.9h.9M204.9 355.6h.9M190.2 364.8h.9M196.2 363.4h.9M219.1 348.5h.9M203.3 357.2h.9M200.9 358.9h.9M206.5 356.3h.9M209.0 354.5h.9M187.9 366.5h.9M210.2 353.7h.9M208.4 355.2h.9M201.4 360.0h.9M192.1 363.4h.9M210.9 353.7h.9M219.7 348.0h.9M203.9 357.0h.9M191.0 364.2h.9M189.1 364.0h.9M199.8 360.9h.9M186.8 367.3h.9M217.1 351.7h.9M193.0 363.9h.9M204.2 356.4h.9M215.8 348.8h.9M191.2 363.9h.9M191.4 363.0h.9M202.3 358.4h.9M210.4 353.7h.9M205.4 357.5h.9M194.4 361.6h.9M216.3 351.7h.9M196.7 362.3h.9M188.2 366.6h.9M192.2 365.3h.9M218.6 350.4h.9M188.4 367.1h.9M208.4 353.3h.9M218.3 349.2h.9M194.5 363.7h.9M214.3 351.6h.9M195.5 363.6h.9M202.5 358.0h.9M194.0 363.6h.9M220.4 347.7h.9M216.9 350.2h.9M191.2 362.6h.9M215.0 351.2h.9M188.3 365.4h.9M189.7 365.3h.9M213.6 353.8h.9M209.5 352.4h.9M192.0 365.4h.9M193.6 362.1h.9M211.9 353.3h.9M215.2 351.1h.9M205.8 355.1h.9M196.5 360.0h.9M191.2 363.8h.9M215.8 351.4h.9M188.6 364.2h.9M194.2 362.6h.9M206.7 353.6h.9M218.4 348.9h.9M202.8 358.3h.9M195.9 360.1h.9M197.9 361.9h.9M210.9 353.3h.9M203.8 357.2h.9M215.9 349.7h.9M207.6 353.4h.9M221.1 348.7h.9M193.0 363.4h.9M212.3 352.3h.9M209.6 355.8h.9M186.4 366.3h.9M194.6 361.7h.9M208.4 354.3h.9M210.6 353.0h.9M189.3 366.8h.9M218.7 349.8h.9M219.7 350.0h.9M205.9 356.1h.9M203.3 354.7h.9M219.7 348.3h.9M201.4 359.1h.9M201.4 360.1h.9M214.8 352.6h.9M188.6 365.0h.9M205.2 357.7h.9M215.0 352.1h.9M209.3 353.7h.9M218.6 349.4h.9M216.4 350.2h.9M209.7 354.2h.9M199.6 358.6h.9M195.9 362.3h.9M190.6 363.8h.9M200.6 357.9h.9M212.0 352.2h.9M195.4 361.9h.9M205.2 355.7h.9M211.5 351.8h.9M198.6 360.3h.9M194.3 361.1h.9M189.9 363.7h.9M218.8 348.1h.9M214.8 351.9h.9M194.0 361.3h.9M196.6 361.8h.9M202.6 357.2h.9M205.5 357.0h.9M193.0 363.2h.9M213.9 351.9h.9M191.5 363.6h.9M220.8 348.8h.9M207.3 357.3h.9M216.5 350.4h.9M212.7 352.0h.9M212.1 355.4h.9M196.5 362.0h.9M201.6 357.0h.9M205.9 356.0h.9M188.5 366.2h.9M189.1 364.5h.9M203.8 357.8h.9M211.6 354.2h.9M212.6 353.0h.9M220.1 349.0h.9M208.3 355.6h.9M195.3 363.3h.9M188.5 365.4h.9M190.8 364.0h.9M209.9 354.4h.9M212.2 352.7h.9" stroke="#4a5a98" stroke-width=".9" stroke-opacity="0.42" fill="none"/>
<path d="M192.6 363.4h.9M189.5 365.0h.9M207.3 355.5h.9M192.7 363.1h.9M190.0 364.2h.9M193.9 362.9h.9M209.7 354.9h.9M192.8 363.7h.9M205.5 356.7h.9M213.8 352.1h.9M195.2 360.8h.9M214.1 352.0h.9M203.1 358.6h.9M206.4 356.7h.9M203.1 356.4h.9M190.9 364.9h.9M201.8 356.4h.9M208.3 354.4h.9M194.7 361.4h.9M198.8 360.7h.9M190.8 364.9h.9M192.5 363.3h.9M193.4 364.3h.9M192.6 363.4h.9M203.7 358.8h.9M203.6 356.9h.9M195.8 360.9h.9M193.7 361.5h.9M194.3 361.5h.9M211.4 353.6h.9M203.7 357.2h.9M193.2 364.0h.9M192.0 364.4h.9M203.5 357.5h.9M200.4 358.5h.9M194.2 362.3h.9M203.3 356.7h.9M212.0 353.3h.9M200.7 358.9h.9M201.1 358.4h.9M190.4 364.6h.9M198.8 360.5h.9M193.2 363.5h.9M196.5 360.9h.9M190.5 363.7h.9M203.1 358.8h.9M211.1 352.7h.9M199.3 358.8h.9M209.7 353.7h.9M194.7 362.3h.9M209.1 354.9h.9M204.8 357.0h.9M205.6 355.1h.9M199.6 359.8h.9M204.1 358.0h.9M213.4 352.3h.9M203.1 357.0h.9M213.7 352.6h.9M200.0 357.8h.9M210.5 354.3h.9M194.5 361.9h.9M197.6 360.0h.9M208.6 353.6h.9M201.8 359.9h.9M210.9 353.9h.9M190.0 365.1h.9M210.7 354.2h.9M200.3 358.5h.9M213.1 351.9h.9M192.6 363.6h.9M212.1 353.1h.9M206.8 354.7h.9M209.8 353.9h.9M205.1 356.2h.9M210.5 353.0h.9M205.2 356.7h.9M193.8 362.8h.9M214.1 352.5h.9M191.7 363.4h.9M189.7 364.3h.9M192.9 362.8h.9M192.7 364.2h.9M197.9 359.4h.9M213.7 351.4h.9M210.1 354.2h.9M204.6 357.9h.9M202.5 357.2h.9M194.8 361.7h.9M206.1 357.0h.9M205.1 355.7h.9M212.9 352.4h.9M210.1 354.8h.9M205.7 357.3h.9M209.4 354.3h.9M193.4 361.2h.9M201.0 360.3h.9M202.0 356.8h.9M200.0 358.3h.9M211.4 353.0h.9M204.0 356.3h.9M196.9 361.9h.9M190.2 364.7h.9M197.0 362.1h.9M193.3 361.3h.9M193.0 362.6h.9M192.8 363.8h.9M209.4 354.8h.9M196.2 362.2h.9M205.5 357.1h.9M210.4 354.3h.9M189.4 365.0h.9M210.0 354.2h.9M205.8 356.3h.9M194.0 364.1h.9M201.1 358.5h.9M190.3 363.7h.9M190.4 365.0h.9M212.1 354.2h.9M197.0 362.0h.9M194.1 362.8h.9M211.7 354.0h.9M208.2 354.3h.9M208.6 355.1h.9M206.8 355.0h.9M189.2 364.9h.9M213.4 351.6h.9M208.2 353.8h.9M203.8 357.7h.9M204.7 357.4h.9M195.4 361.8h.9M207.0 356.6h.9M207.7 354.6h.9M205.1 357.0h.9M203.8 357.8h.9M207.4 354.3h.9M197.6 361.2h.9M197.0 361.3h.9M203.8 358.1h.9M191.8 363.8h.9M207.3 355.4h.9M197.9 361.1h.9M189.6 364.7h.9M205.8 355.1h.9M206.1 357.1h.9M199.7 358.7h.9M196.8 360.0h.9M193.6 362.2h.9M189.9 364.1h.9M192.9 362.8h.9M202.2 358.3h.9M198.7 359.6h.9M208.0 356.3h.9M190.0 363.1h.9M203.5 355.8h.9M213.6 352.0h.9M197.4 361.3h.9M195.0 362.3h.9M201.8 358.9h.9M209.3 354.3h.9M208.1 354.8h.9M204.9 356.6h.9M210.5 353.7h.9M192.4 363.4h.9M209.2 355.0h.9M213.0 353.3h.9M209.9 353.3h.9M201.1 359.4h.9M192.6 363.4h.9M192.1 363.9h.9M190.4 364.8h.9" stroke="#9ab84e" stroke-width=".9" stroke-opacity="0.55" fill="none"/>
<path d="M212.4 361.4h.9M216.2 356.9h.9M214.6 353.2h.9M210.8 351.5h.9M230.9 346.1h.9M214.4 352.3h.9M223.6 347.7h.9M209.6 354.6h.9M226.5 348.2h.9M212.0 353.0h.9M224.5 349.2h.9M212.7 357.7h.9M219.5 347.7h.9M224.5 351.8h.9M210.3 351.7h.9M222.1 348.4h.9M212.0 354.1h.9M213.1 357.3h.9M206.2 360.0h.9M224.6 351.7h.9M220.0 351.6h.9M212.3 354.5h.9M209.5 361.9h.9M211.7 351.9h.9M222.6 354.2h.9M215.8 352.0h.9M206.2 360.4h.9M211.2 353.4h.9M217.0 348.2h.9M216.5 344.7h.9" stroke="#a0a0d0" stroke-width=".9" stroke-opacity="0.4" fill="none"/>
<path d="M180.1 366.6 L185.8 374.1 L234.4 349.8 L229.0 338.5 Z" fill="none" stroke="#3a3a3a" stroke-width="0.9" stroke-linejoin="round"/>
<text x="203.1" y="335.0" font-size="7.5" text-anchor="middle" fill="#262626" stroke="#262626" stroke-width="0.18">Single Cells</text>
<text x="202.7" y="344.3" font-size="7.6" text-anchor="middle" fill="#262626" stroke="#262626" stroke-width="0.18">99.8%</text>
<rect x="173.8" y="303.5" width="73.29999999999998" height="73.0" fill="none" stroke="#c9c9c9" stroke-width="1"/>
<line x1="171.8" y1="376.5" x2="173.8" y2="376.5" stroke="#444" stroke-width="0.9"/>
<text x="169.5" y="379.2" font-size="7.6" text-anchor="end" fill="#2e2e2e" stroke="#2e2e2e" stroke-width="0.18">0</text>
<line x1="172.60000000000002" y1="373.708" x2="173.8" y2="373.708" stroke="#999" stroke-width="0.6"/>
<line x1="172.60000000000002" y1="370.916" x2="173.8" y2="370.916" stroke="#999" stroke-width="0.6"/>
<line x1="172.60000000000002" y1="368.124" x2="173.8" y2="368.124" stroke="#999" stroke-width="0.6"/>
<line x1="172.60000000000002" y1="365.332" x2="173.8" y2="365.332" stroke="#999" stroke-width="0.6"/>
<line x1="171.8" y1="362.54" x2="173.8" y2="362.54" stroke="#444" stroke-width="0.9"/>
<text x="169.5" y="365.24" font-size="7.6" text-anchor="end" fill="#2e2e2e" stroke="#2e2e2e" stroke-width="0.18">50K</text>
<line x1="172.60000000000002" y1="359.74800000000005" x2="173.8" y2="359.74800000000005" stroke="#999" stroke-width="0.6"/>
<line x1="172.60000000000002" y1="356.956" x2="173.8" y2="356.956" stroke="#999" stroke-width="0.6"/>
<line x1="172.60000000000002" y1="354.16400000000004" x2="173.8" y2="354.16400000000004" stroke="#999" stroke-width="0.6"/>
<line x1="172.60000000000002" y1="351.372" x2="173.8" y2="351.372" stroke="#999" stroke-width="0.6"/>
<line x1="171.8" y1="348.58" x2="173.8" y2="348.58" stroke="#444" stroke-width="0.9"/>
<text x="169.5" y="351.28" font-size="7.6" text-anchor="end" fill="#2e2e2e" stroke="#2e2e2e" stroke-width="0.18">100K</text>
<line x1="172.60000000000002" y1="345.788" x2="173.8" y2="345.788" stroke="#999" stroke-width="0.6"/>
<line x1="172.60000000000002" y1="342.996" x2="173.8" y2="342.996" stroke="#999" stroke-width="0.6"/>
<line x1="172.60000000000002" y1="340.204" x2="173.8" y2="340.204" stroke="#999" stroke-width="0.6"/>
<line x1="172.60000000000002" y1="337.412" x2="173.8" y2="337.412" stroke="#999" stroke-width="0.6"/>
<line x1="171.8" y1="334.62" x2="173.8" y2="334.62" stroke="#444" stroke-width="0.9"/>
<text x="169.5" y="337.32" font-size="7.6" text-anchor="end" fill="#2e2e2e" stroke="#2e2e2e" stroke-width="0.18">150K</text>
<line x1="172.60000000000002" y1="331.82800000000003" x2="173.8" y2="331.82800000000003" stroke="#999" stroke-width="0.6"/>
<line x1="172.60000000000002" y1="329.036" x2="173.8" y2="329.036" stroke="#999" stroke-width="0.6"/>
<line x1="172.60000000000002" y1="326.244" x2="173.8" y2="326.244" stroke="#999" stroke-width="0.6"/>
<line x1="172.60000000000002" y1="323.452" x2="173.8" y2="323.452" stroke="#999" stroke-width="0.6"/>
<line x1="171.8" y1="320.66" x2="173.8" y2="320.66" stroke="#444" stroke-width="0.9"/>
<text x="169.5" y="323.36" font-size="7.6" text-anchor="end" fill="#2e2e2e" stroke="#2e2e2e" stroke-width="0.18">200K</text>
<line x1="172.60000000000002" y1="317.86800000000005" x2="173.8" y2="317.86800000000005" stroke="#999" stroke-width="0.6"/>
<line x1="172.60000000000002" y1="315.076" x2="173.8" y2="315.076" stroke="#999" stroke-width="0.6"/>
<line x1="172.60000000000002" y1="312.28400000000005" x2="173.8" y2="312.28400000000005" stroke="#999" stroke-width="0.6"/>
<line x1="172.60000000000002" y1="309.492" x2="173.8" y2="309.492" stroke="#999" stroke-width="0.6"/>
<line x1="171.8" y1="306.7" x2="173.8" y2="306.7" stroke="#444" stroke-width="0.9"/>
<text x="169.5" y="309.4" font-size="7.6" text-anchor="end" fill="#2e2e2e" stroke="#2e2e2e" stroke-width="0.18">250K</text>
<line x1="172.60000000000002" y1="303.908" x2="173.8" y2="303.908" stroke="#999" stroke-width="0.6"/>
<line x1="173.5" y1="376.5" x2="173.5" y2="378.8" stroke="#555" stroke-width="0.8"/>
<text transform="translate(176.1,383.7) rotate(-47)" font-size="7.4" text-anchor="end" fill="#2e2e2e" stroke="#2e2e2e" stroke-width="0.18">0</text>
<line x1="186.3" y1="376.5" x2="186.3" y2="378.8" stroke="#555" stroke-width="0.8"/>
<text transform="translate(188.9,383.7) rotate(-47)" font-size="7.4" text-anchor="end" fill="#2e2e2e" stroke="#2e2e2e" stroke-width="0.18">50K</text>
<line x1="199.1" y1="376.5" x2="199.1" y2="378.8" stroke="#555" stroke-width="0.8"/>
<text transform="translate(201.7,383.7) rotate(-47)" font-size="7.4" text-anchor="end" fill="#2e2e2e" stroke="#2e2e2e" stroke-width="0.18">100K</text>
<line x1="211.9" y1="376.5" x2="211.9" y2="378.8" stroke="#555" stroke-width="0.8"/>
<text transform="translate(214.5,383.7) rotate(-47)" font-size="7.4" text-anchor="end" fill="#2e2e2e" stroke="#2e2e2e" stroke-width="0.18">150K</text>
<line x1="224.7" y1="376.5" x2="224.7" y2="378.8" stroke="#555" stroke-width="0.8"/>
<text transform="translate(227.29999999999998,383.7) rotate(-47)" font-size="7.4" text-anchor="end" fill="#2e2e2e" stroke="#2e2e2e" stroke-width="0.18">200K</text>
<line x1="237.5" y1="376.5" x2="237.5" y2="378.8" stroke="#555" stroke-width="0.8"/>
<text transform="translate(240.1,383.7) rotate(-47)" font-size="7.4" text-anchor="end" fill="#2e2e2e" stroke="#2e2e2e" stroke-width="0.18">250K</text>
<line x1="176.06" y1="376.5" x2="176.06" y2="377.6" stroke="#999" stroke-width="0.6"/>
<line x1="178.62" y1="376.5" x2="178.62" y2="377.6" stroke="#999" stroke-width="0.6"/>
<line x1="181.18" y1="376.5" x2="181.18" y2="377.6" stroke="#999" stroke-width="0.6"/>
<line x1="183.74" y1="376.5" x2="183.74" y2="377.6" stroke="#999" stroke-width="0.6"/>
<line x1="188.86" y1="376.5" x2="188.86" y2="377.6" stroke="#999" stroke-width="0.6"/>
<line x1="191.42000000000002" y1="376.5" x2="191.42000000000002" y2="377.6" stroke="#999" stroke-width="0.6"/>
<line x1="193.98" y1="376.5" x2="193.98" y2="377.6" stroke="#999" stroke-width="0.6"/>
<line x1="196.54" y1="376.5" x2="196.54" y2="377.6" stroke="#999" stroke-width="0.6"/>
<line x1="201.66" y1="376.5" x2="201.66" y2="377.6" stroke="#999" stroke-width="0.6"/>
<line x1="204.22" y1="376.5" x2="204.22" y2="377.6" stroke="#999" stroke-width="0.6"/>
<line x1="206.78" y1="376.5" x2="206.78" y2="377.6" stroke="#999" stroke-width="0.6"/>
<line x1="209.34" y1="376.5" x2="209.34" y2="377.6" stroke="#999" stroke-width="0.6"/>
<line x1="214.46" y1="376.5" x2="214.46" y2="377.6" stroke="#999" stroke-width="0.6"/>
<line x1="217.02" y1="376.5" x2="217.02" y2="377.6" stroke="#999" stroke-width="0.6"/>
<line x1="219.57999999999998" y1="376.5" x2="219.57999999999998" y2="377.6" stroke="#999" stroke-width="0.6"/>
<line x1="222.14" y1="376.5" x2="222.14" y2="377.6" stroke="#999" stroke-width="0.6"/>
<line x1="227.26" y1="376.5" x2="227.26" y2="377.6" stroke="#999" stroke-width="0.6"/>
<line x1="229.82" y1="376.5" x2="229.82" y2="377.6" stroke="#999" stroke-width="0.6"/>
<line x1="232.38" y1="376.5" x2="232.38" y2="377.6" stroke="#999" stroke-width="0.6"/>
<line x1="234.94" y1="376.5" x2="234.94" y2="377.6" stroke="#999" stroke-width="0.6"/>
<text x="210.7" y="409.9" font-size="9.2" text-anchor="middle" font-weight="bold" fill="#1a1a1a" textLength="18.2" lengthAdjust="spacingAndGlyphs" stroke="#1a1a1a" stroke-width="0.144">FSC-A</text>
<text transform="translate(145.79999999999998,340.0) rotate(-90)" font-size="8.6" text-anchor="middle" font-weight="bold" fill="#1a1a1a" textLength="17.8" lengthAdjust="spacingAndGlyphs" stroke="#1a1a1a" stroke-width="0.144">FSC-H</text>
<ellipse cx="340" cy="347.0" rx="14" ry="4.6" transform="rotate(-77 340 347.0)" fill="#a0a0c8" fill-opacity="0.45" filter="url(#bl)"/>
<path d="M334.9 351.2h.9M341.8 349.5h.9M341.5 358.6h.9M337.5 352.3h.9M339.7 338.3h.9M342.0 334.7h.9M337.2 347.2h.9M341.9 337.4h.9M336.5 350.4h.9M338.6 352.1h.9M341.0 353.4h.9M338.2 346.9h.9M344.8 344.0h.9M337.3 364.4h.9M342.3 338.1h.9M337.2 339.2h.9M341.5 353.7h.9M340.0 347.7h.9M342.2 341.9h.9M339.4 342.9h.9M343.1 350.2h.9M335.1 350.1h.9M341.9 350.3h.9M343.6 332.2h.9M340.6 352.4h.9M343.9 345.1h.9M343.0 343.1h.9M342.1 342.9h.9M338.0 354.3h.9M346.6 334.5h.9M342.8 339.2h.9M340.8 348.0h.9M342.5 350.2h.9M337.4 349.0h.9M341.5 361.0h.9M336.3 352.5h.9M345.7 344.6h.9M340.3 341.2h.9M338.7 341.7h.9M339.7 348.9h.9M342.2 347.2h.9M346.2 343.5h.9M340.7 339.8h.9M338.1 344.2h.9M338.0 351.6h.9M339.9 338.1h.9M334.5 359.0h.9M337.4 356.5h.9M336.3 348.6h.9M337.5 353.0h.9M342.4 343.9h.9M341.7 335.8h.9M341.4 341.7h.9M336.4 355.3h.9M343.4 328.8h.9M345.2 333.8h.9M342.4 333.0h.9M340.9 338.9h.9M334.9 355.1h.9M336.4 342.2h.9M338.3 343.2h.9M336.9 343.0h.9M340.9 339.6h.9M333.4 358.3h.9M335.6 345.2h.9M342.0 344.3h.9M342.8 352.9h.9M343.5 335.1h.9M342.2 343.3h.9M343.3 349.6h.9M332.2 349.6h.9M341.3 346.8h.9M338.4 339.3h.9M340.2 334.9h.9M343.2 342.0h.9M343.5 345.9h.9M344.9 351.9h.9M339.8 342.4h.9M344.6 325.5h.9M341.2 360.7h.9M341.2 333.7h.9M341.5 355.4h.9M337.5 345.6h.9M339.4 350.6h.9M346.1 339.6h.9M343.3 352.6h.9M339.4 359.4h.9M341.1 348.1h.9M337.3 349.8h.9M343.7 345.0h.9M336.4 364.7h.9M336.4 349.3h.9M339.2 357.9h.9M342.8 342.5h.9M332.4 361.9h.9M337.8 351.4h.9M342.1 332.1h.9M343.1 346.2h.9M344.0 333.3h.9M346.1 345.0h.9M334.4 348.9h.9M337.9 352.6h.9M343.2 336.2h.9M342.5 336.9h.9M338.6 346.0h.9M339.3 357.0h.9M342.3 344.0h.9M338.0 350.7h.9M342.4 343.9h.9M341.1 329.9h.9M344.3 339.1h.9M340.0 348.9h.9M344.2 348.0h.9M345.4 326.1h.9M342.3 349.3h.9M340.4 342.5h.9M343.8 341.0h.9M341.8 350.4h.9M332.6 364.1h.9M340.0 349.3h.9M341.7 359.4h.9M339.8 349.8h.9M342.1 347.4h.9M341.1 351.8h.9M334.5 352.5h.9M341.4 342.6h.9M336.2 338.3h.9M338.5 345.4h.9M338.7 347.9h.9M337.6 349.3h.9M337.1 337.3h.9M338.1 360.4h.9M341.5 329.8h.9M335.3 353.3h.9M341.8 355.7h.9M343.8 341.6h.9M341.3 344.0h.9M336.4 350.8h.9M348.1 343.1h.9M343.0 350.4h.9M339.0 352.4h.9M342.8 332.8h.9M339.6 341.1h.9M339.9 330.6h.9M340.4 341.9h.9M341.4 345.3h.9M344.8 336.5h.9M342.9 338.3h.9M342.0 356.1h.9M344.1 334.4h.9M340.8 340.0h.9M340.3 358.9h.9M344.1 353.7h.9M341.2 341.0h.9M339.3 351.7h.9M337.3 354.6h.9M342.0 333.5h.9M343.0 331.6h.9M338.2 342.7h.9M338.3 348.8h.9M343.1 359.1h.9M340.9 341.8h.9M338.3 355.6h.9M335.5 354.6h.9M345.8 349.5h.9M338.6 361.2h.9M331.0 349.4h.9M337.2 358.1h.9M338.1 345.7h.9M344.7 332.5h.9M334.4 350.8h.9M338.5 344.9h.9M338.9 337.7h.9M340.9 336.7h.9M339.7 344.9h.9M344.4 342.3h.9M336.6 350.6h.9M346.0 331.8h.9M346.1 331.7h.9M344.9 346.6h.9M337.7 351.9h.9M341.3 350.4h.9M338.1 353.5h.9M337.9 353.4h.9M345.1 338.2h.9M346.8 350.0h.9M340.1 352.7h.9M333.0 349.3h.9M341.5 357.1h.9M345.4 362.0h.9M340.6 347.9h.9M342.3 336.5h.9M337.3 351.5h.9M340.0 354.7h.9M340.7 350.9h.9M336.2 358.7h.9M344.7 330.1h.9M343.2 348.3h.9M344.8 345.4h.9M340.2 356.7h.9M340.1 355.8h.9M348.6 327.6h.9M339.7 354.0h.9M338.8 342.6h.9M337.5 344.1h.9M344.3 339.4h.9M341.7 348.5h.9M343.8 327.2h.9M337.7 362.2h.9M337.1 350.0h.9M344.4 340.0h.9M345.7 342.9h.9M337.8 351.7h.9M333.2 341.7h.9M339.8 348.5h.9M339.0 354.8h.9M340.1 337.7h.9M340.6 342.1h.9M340.1 348.1h.9M344.2 334.7h.9M341.7 341.3h.9M338.9 364.9h.9M340.3 347.0h.9M334.8 350.0h.9M347.8 335.7h.9M337.6 332.8h.9M337.7 341.6h.9M338.3 348.0h.9M336.8 351.4h.9M341.4 351.2h.9M345.5 334.2h.9M339.6 346.8h.9M339.6 348.8h.9M338.5 351.8h.9M340.9 339.7h.9M338.3 353.4h.9M340.0 346.1h.9M341.6 349.4h.9M337.1 346.6h.9M339.0 341.7h.9M343.7 341.0h.9M341.8 343.0h.9M337.1 357.8h.9M342.1 346.2h.9M337.6 356.0h.9M337.8 359.6h.9M340.5 346.3h.9M345.0 333.7h.9M338.1 348.1h.9M341.5 351.0h.9M340.2 339.0h.9M338.6 347.5h.9M341.8 341.3h.9M336.3 352.2h.9M338.4 335.3h.9M342.1 329.8h.9M343.1 340.1h.9M344.7 340.6h.9M339.2 350.7h.9M343.3 339.1h.9M336.6 352.6h.9M338.2 358.9h.9M334.7 350.3h.9M340.0 351.6h.9M339.7 345.2h.9M342.2 345.9h.9M335.6 356.2h.9M343.8 339.3h.9M335.5 358.0h.9M344.7 335.3h.9M342.6 348.7h.9M346.4 336.4h.9M333.9 357.6h.9M339.0 351.0h.9M340.1 349.9h.9M345.7 335.3h.9M341.8 338.6h.9M344.2 333.5h.9M340.4 344.8h.9M342.8 363.3h.9M342.5 347.6h.9M343.5 328.0h.9M340.8 357.1h.9M337.8 344.3h.9M341.8 338.9h.9M331.3 353.2h.9M339.4 355.3h.9M340.9 356.0h.9M344.8 328.8h.9M340.2 344.9h.9M341.7 339.7h.9M345.9 339.1h.9M338.9 339.2h.9M340.5 341.2h.9M343.3 344.8h.9M339.4 352.5h.9M340.3 334.2h.9M341.7 348.9h.9M342.5 349.4h.9M334.1 354.3h.9M340.3 343.6h.9M343.3 344.8h.9M340.9 337.9h.9M333.9 348.9h.9M339.0 355.1h.9M336.3 344.2h.9M341.3 340.3h.9M341.0 337.5h.9M338.7 338.2h.9M334.5 361.8h.9M342.4 341.3h.9M337.1 362.6h.9M345.9 342.3h.9M342.9 340.7h.9M338.3 360.2h.9M335.7 363.0h.9M336.7 349.3h.9M337.8 355.2h.9M339.3 341.6h.9M342.6 344.8h.9M345.3 348.2h.9M337.4 349.0h.9M339.7 363.3h.9M340.7 341.1h.9M340.2 344.2h.9M341.6 339.6h.9M340.2 344.9h.9M332.3 352.9h.9M337.5 341.6h.9M342.5 343.9h.9M341.3 330.7h.9M342.9 346.2h.9M337.2 352.1h.9M346.6 344.4h.9M344.6 338.5h.9M340.2 355.3h.9M338.6 336.6h.9M339.5 346.7h.9M336.3 340.5h.9M341.3 341.0h.9M333.7 347.8h.9M334.8 363.8h.9M342.4 341.7h.9M336.7 339.6h.9M344.1 346.0h.9M339.1 360.1h.9M340.3 353.2h.9M335.7 345.1h.9M341.7 356.4h.9M343.3 348.5h.9M343.1 344.6h.9M339.9 350.3h.9M341.9 350.5h.9M342.1 352.3h.9M339.5 333.1h.9M341.2 348.6h.9M346.4 332.8h.9M335.4 345.1h.9M339.9 339.5h.9M341.5 345.5h.9M340.5 359.2h.9M343.3 339.6h.9M342.1 342.1h.9M336.1 358.2h.9M340.6 339.9h.9M341.1 346.9h.9M340.9 346.3h.9M340.9 342.8h.9M337.3 355.9h.9M339.9 338.5h.9M341.7 343.1h.9M330.6 352.5h.9M337.8 346.6h.9M341.5 352.6h.9M339.6 353.5h.9M340.8 346.0h.9M338.1 329.2h.9M341.3 338.8h.9M337.7 348.8h.9M340.2 346.6h.9M342.9 355.5h.9M338.3 353.0h.9M338.2 357.5h.9M343.7 344.6h.9M340.4 338.4h.9M342.6 333.5h.9M347.5 335.0h.9M336.3 349.6h.9M345.0 343.2h.9M343.8 344.2h.9M343.5 342.5h.9M341.6 335.7h.9M337.2 358.6h.9M335.3 352.7h.9M341.7 348.7h.9M332.6 361.3h.9M339.0 339.7h.9M343.1 350.9h.9M343.0 337.8h.9M333.5 340.8h.9M342.1 342.5h.9M338.1 358.5h.9M340.5 343.0h.9M343.9 340.8h.9M339.4 346.3h.9M341.1 357.4h.9M339.9 351.8h.9M344.9 334.6h.9M337.5 357.4h.9M334.2 351.8h.9M340.2 353.9h.9M340.1 344.0h.9M337.1 344.8h.9M338.2 353.2h.9M340.6 340.1h.9M340.7 348.5h.9M339.1 334.0h.9M341.5 342.6h.9" stroke="#7c7cb0" stroke-width=".9" stroke-opacity="0.45" fill="none"/>
<path d="M341.6 342.9h.9M338.8 353.9h.9M338.4 343.3h.9M342.0 337.5h.9M342.3 344.7h.9M338.6 347.4h.9M344.0 338.0h.9M342.8 330.6h.9M336.4 350.2h.9M340.0 349.4h.9M339.6 343.5h.9M338.6 348.0h.9M343.2 345.1h.9M344.8 339.4h.9M343.8 338.0h.9M343.6 335.8h.9M345.4 334.0h.9M343.9 332.0h.9M345.4 348.0h.9M341.9 344.3h.9M339.3 344.3h.9M339.5 339.4h.9M343.9 344.0h.9M343.0 342.1h.9M342.8 338.9h.9M342.6 342.1h.9M341.2 348.3h.9M338.4 348.3h.9M337.8 345.3h.9M339.6 354.0h.9M343.2 339.8h.9M344.3 329.7h.9M340.6 337.8h.9M339.8 337.9h.9M341.7 330.6h.9M342.2 345.1h.9M341.2 355.7h.9M340.4 348.0h.9M342.7 336.9h.9M341.4 336.8h.9M337.5 338.1h.9M341.7 333.4h.9M340.2 347.5h.9M341.9 332.3h.9M340.5 342.4h.9M337.4 347.3h.9M343.4 339.4h.9M340.7 346.9h.9M342.5 340.0h.9M341.1 343.4h.9M339.4 340.4h.9M342.6 343.6h.9M343.2 346.3h.9M338.7 343.4h.9M338.1 343.6h.9M338.7 338.2h.9M340.8 342.3h.9M341.7 344.4h.9M340.4 340.6h.9M341.3 337.5h.9M345.0 337.9h.9M343.6 340.7h.9M340.7 350.5h.9M339.0 351.0h.9M336.6 337.3h.9M338.7 346.7h.9M340.1 347.9h.9M339.7 338.3h.9M336.7 345.3h.9M336.1 345.6h.9M340.3 351.4h.9M340.6 337.1h.9M340.1 340.1h.9M346.1 337.1h.9M336.4 356.3h.9M339.4 346.0h.9M346.3 334.1h.9M342.5 342.8h.9M338.6 351.6h.9M340.5 344.1h.9M338.4 340.1h.9M344.2 349.4h.9M339.2 352.5h.9M343.1 338.5h.9M338.0 341.5h.9M337.5 344.5h.9M344.4 331.3h.9M342.5 338.4h.9M343.1 345.3h.9M343.6 337.7h.9M343.4 339.4h.9M341.7 344.3h.9M340.8 341.9h.9M346.3 339.7h.9M341.6 354.8h.9M343.1 345.5h.9M339.6 348.3h.9M342.3 336.5h.9M339.2 339.9h.9M343.2 349.8h.9M341.2 341.5h.9M337.4 350.0h.9M339.8 348.4h.9M339.8 342.9h.9M340.6 346.4h.9M339.8 335.1h.9M341.7 351.2h.9M338.6 350.6h.9M345.0 342.6h.9M332.8 353.0h.9M343.3 343.4h.9M339.7 341.3h.9M337.3 340.5h.9M345.2 338.4h.9M342.6 344.0h.9M342.9 349.2h.9M338.8 345.9h.9M336.7 346.1h.9M346.1 339.5h.9M339.0 350.7h.9M340.6 339.7h.9M339.9 351.7h.9M342.7 336.7h.9M339.3 348.6h.9M338.7 353.6h.9M345.0 335.9h.9M342.0 343.2h.9M340.8 345.6h.9M340.8 346.0h.9M341.0 345.6h.9M342.0 338.5h.9M340.6 350.2h.9M339.9 343.7h.9M340.2 338.9h.9M343.5 337.3h.9M338.9 346.2h.9M339.2 342.8h.9M337.8 336.0h.9M340.7 341.5h.9M341.1 349.1h.9M341.5 345.5h.9M340.1 344.9h.9M343.8 339.9h.9M342.4 336.7h.9M342.3 333.8h.9M335.7 349.6h.9M337.7 350.5h.9M339.7 352.9h.9M341.2 342.3h.9M341.3 341.1h.9M340.2 343.8h.9M339.0 341.8h.9M345.9 335.8h.9M345.9 343.3h.9M341.8 348.5h.9M340.4 352.1h.9M342.3 347.2h.9M343.3 342.2h.9M343.0 339.2h.9M344.1 344.8h.9M342.6 340.6h.9M342.5 334.1h.9M345.6 332.9h.9M338.4 341.4h.9M342.1 335.3h.9M341.6 342.0h.9M343.7 337.3h.9M337.6 352.7h.9M342.0 340.5h.9M343.3 338.1h.9M341.7 332.8h.9M343.6 335.1h.9M343.0 341.0h.9M342.2 344.7h.9M342.4 344.0h.9M342.7 347.4h.9M338.0 351.0h.9M341.6 342.9h.9M339.4 346.9h.9M343.7 341.5h.9M341.8 334.8h.9M340.5 342.7h.9M338.4 351.1h.9M339.9 335.4h.9M346.7 326.4h.9M343.7 332.6h.9M339.3 355.9h.9M342.0 333.1h.9M344.3 335.5h.9M343.7 338.3h.9M343.3 339.4h.9M343.5 335.8h.9M342.9 339.0h.9M339.6 341.3h.9M336.9 352.4h.9M336.7 349.0h.9M341.4 338.3h.9M349.1 336.5h.9M341.2 337.8h.9M341.3 340.2h.9M345.8 341.7h.9M345.8 333.8h.9M345.2 341.6h.9M344.1 338.1h.9M338.5 348.9h.9M341.0 341.4h.9M336.5 344.6h.9M340.1 346.7h.9M339.4 340.2h.9M344.7 344.0h.9M337.4 340.7h.9M341.0 343.5h.9M343.2 335.2h.9M343.6 334.7h.9M345.4 336.3h.9M343.5 333.7h.9M350.0 340.5h.9M340.1 349.6h.9M340.4 339.4h.9M341.9 337.6h.9M342.6 338.0h.9M342.2 348.3h.9M345.6 331.3h.9M338.1 340.1h.9M341.6 340.6h.9M336.3 346.2h.9M343.8 340.3h.9M346.8 339.3h.9M339.6 353.5h.9M344.1 343.2h.9M339.2 342.2h.9M342.0 343.0h.9M338.7 346.3h.9M343.3 341.3h.9M341.9 344.0h.9M339.9 345.2h.9M343.4 341.8h.9M342.9 333.2h.9M345.8 340.7h.9M341.5 337.5h.9" stroke="#5a5a90" stroke-width=".9" stroke-opacity="0.45" fill="none"/>
<path d="M336.7 351.7h.9M335.3 362.8h.9M335.8 356.6h.9M338.7 349.4h.9M338.6 353.6h.9M336.5 354.5h.9M337.3 345.0h.9M339.4 354.3h.9M338.1 354.8h.9M339.1 352.7h.9M339.7 355.7h.9M341.1 352.2h.9M335.5 352.9h.9M336.1 360.9h.9M336.4 351.5h.9M339.8 356.8h.9M337.7 352.3h.9M338.5 354.4h.9M337.6 355.6h.9M338.2 356.7h.9M342.0 347.6h.9M340.7 360.0h.9M336.2 354.0h.9M337.3 360.4h.9M337.7 352.7h.9M337.4 357.3h.9M339.7 353.0h.9M335.4 350.8h.9M338.3 356.6h.9M340.0 352.6h.9M339.4 360.8h.9M337.0 359.0h.9M337.3 355.8h.9M338.9 357.5h.9M339.7 350.7h.9M336.3 359.2h.9M339.0 354.3h.9M337.5 356.2h.9M340.9 342.7h.9M334.5 354.4h.9M340.2 357.7h.9M337.4 349.9h.9M339.4 350.6h.9M338.9 357.6h.9M337.4 356.4h.9M338.8 353.9h.9M338.5 355.9h.9M338.7 354.0h.9M337.8 352.1h.9M337.1 359.8h.9M340.0 348.8h.9M337.5 352.7h.9M335.5 358.4h.9M337.0 357.7h.9M336.8 360.5h.9M338.0 360.8h.9M335.8 353.5h.9M338.3 356.3h.9M339.9 352.5h.9M337.9 355.4h.9M339.0 355.1h.9M337.6 356.8h.9M338.0 353.2h.9M339.5 359.0h.9M337.5 351.5h.9M339.1 345.3h.9M337.1 357.5h.9M341.1 352.1h.9M340.5 348.3h.9M339.5 353.8h.9M336.7 357.0h.9M339.2 351.7h.9M337.1 352.6h.9M336.5 352.4h.9M339.3 350.0h.9M337.1 356.5h.9M345.6 343.1h.9M339.8 357.3h.9M337.5 366.6h.9M338.8 353.9h.9M335.6 357.6h.9M338.0 352.8h.9M340.5 352.1h.9M339.1 354.6h.9M338.9 353.2h.9M338.3 356.2h.9M338.9 352.1h.9M335.8 355.4h.9M339.8 359.0h.9M339.8 349.7h.9M338.5 352.6h.9M340.5 351.3h.9M338.7 355.1h.9M336.9 349.3h.9M336.7 357.7h.9M336.7 358.7h.9M337.1 357.4h.9M337.1 351.5h.9M340.6 353.9h.9M336.8 352.7h.9M339.6 356.9h.9M337.3 354.8h.9M338.1 350.4h.9M338.3 358.8h.9M337.5 353.6h.9M340.5 352.3h.9M339.6 349.4h.9M339.6 352.1h.9M339.6 360.7h.9M337.0 356.5h.9M336.2 357.1h.9M339.4 349.3h.9M335.2 355.8h.9M338.5 353.2h.9M337.3 358.3h.9M337.7 361.9h.9M338.1 359.2h.9M335.4 352.8h.9M336.4 358.5h.9M340.0 350.8h.9M341.5 351.8h.9M337.4 355.0h.9M335.2 361.5h.9M337.7 351.3h.9M339.1 357.9h.9M338.3 364.8h.9M336.9 347.9h.9M338.8 351.9h.9M338.8 350.0h.9M340.4 354.9h.9M338.5 356.6h.9M338.8 351.2h.9M340.0 350.4h.9M336.6 349.9h.9M337.9 358.4h.9M341.6 349.4h.9M337.3 353.6h.9M334.5 357.9h.9M338.8 356.2h.9M336.2 353.7h.9M338.4 354.3h.9M339.9 357.5h.9M340.5 352.4h.9M337.1 353.2h.9M341.1 349.7h.9M335.9 356.0h.9M338.3 350.3h.9M337.3 358.8h.9M337.8 351.3h.9M339.9 354.1h.9M336.8 350.3h.9M341.7 351.5h.9M339.1 350.0h.9M336.4 351.8h.9M337.1 356.2h.9M340.3 345.1h.9M340.1 358.6h.9M337.1 348.2h.9M335.7 354.2h.9M336.0 348.8h.9M338.5 345.7h.9M340.6 359.0h.9M339.4 351.8h.9M337.7 350.0h.9M338.8 350.1h.9M339.3 351.8h.9M337.8 347.7h.9M338.2 360.0h.9M341.4 344.1h.9M339.3 354.8h.9" stroke="#76986a" stroke-width=".9" stroke-opacity="0.5" fill="none"/>
<path d="M342.6 346.0h.9M342.6 357.3h.9M333.2 360.9h.9M337.6 342.3h.9M355.3 358.2h.9M350.1 360.8h.9M340.6 339.8h.9M343.7 363.4h.9M332.9 356.5h.9M342.2 367.9h.9M349.5 366.8h.9M340.3 345.2h.9M335.2 333.3h.9M337.2 333.5h.9M346.9 350.2h.9M350.4 358.8h.9M357.6 348.3h.9M346.6 348.4h.9M342.3 339.5h.9M337.1 339.1h.9M343.3 344.4h.9M344.5 354.9h.9M358.1 350.9h.9M358.2 338.4h.9M346.4 350.9h.9M341.5 345.1h.9M334.8 369.6h.9M329.8 361.4h.9M342.4 339.8h.9M337.0 368.0h.9M337.9 350.7h.9M340.4 354.6h.9M344.8 348.5h.9M330.8 324.7h.9M347.7 323.6h.9M343.6 336.6h.9M350.5 338.8h.9M329.0 331.0h.9M337.8 353.8h.9M349.4 362.6h.9" stroke="#9a9ad0" stroke-width=".9" stroke-opacity="0.35" fill="none"/>
<path d="M316.9 358.2h.9M317.0 362.1h.9M315.4 365.4h.9M316.3 364.5h.9M316.0 367.5h.9M316.6 358.4h.9M315.0 359.8h.9M316.1 355.3h.9M315.9 367.2h.9M315.7 365.4h.9M315.4 355.4h.9M316.6 359.2h.9M316.2 365.0h.9M317.1 354.1h.9M316.4 361.1h.9M316.1 368.7h.9M315.8 357.2h.9M316.3 350.3h.9M316.3 355.8h.9M316.2 356.5h.9" stroke="#b0b0b0" stroke-width=".9" stroke-opacity="0.5" fill="none"/>
<rect x="326.4" y="322.2" width="33.3" height="49" fill="none" stroke="#4a4a4a" stroke-width="0.85"/>
<text x="380.4" y="312.7" font-size="7.5" text-anchor="end" fill="#262626" stroke="#262626" stroke-width="0.18">CTV+</text>
<text x="381.2" y="321.6" font-size="7.6" text-anchor="end" fill="#262626" stroke="#262626" stroke-width="0.18">99.3%</text>
<rect x="309.7" y="303.5" width="73.60000000000002" height="73.0" fill="none" stroke="#c9c9c9" stroke-width="1"/>
<line x1="307.7" y1="376.5" x2="309.7" y2="376.5" stroke="#444" stroke-width="0.9"/>
<text x="305.4" y="379.2" font-size="7.6" text-anchor="end" fill="#2e2e2e" stroke="#2e2e2e" stroke-width="0.18">0</text>
<line x1="308.5" y1="373.708" x2="309.7" y2="373.708" stroke="#999" stroke-width="0.6"/>
<line x1="308.5" y1="370.916" x2="309.7" y2="370.916" stroke="#999" stroke-width="0.6"/>
<line x1="308.5" y1="368.124" x2="309.7" y2="368.124" stroke="#999" stroke-width="0.6"/>
<line x1="308.5" y1="365.332" x2="309.7" y2="365.332" stroke="#999" stroke-width="0.6"/>
<line x1="307.7" y1="362.54" x2="309.7" y2="362.54" stroke="#444" stroke-width="0.9"/>
<text x="305.4" y="365.24" font-size="7.6" text-anchor="end" fill="#2e2e2e" stroke="#2e2e2e" stroke-width="0.18">50K</text>
<line x1="308.5" y1="359.74800000000005" x2="309.7" y2="359.74800000000005" stroke="#999" stroke-width="0.6"/>
<line x1="308.5" y1="356.956" x2="309.7" y2="356.956" stroke="#999" stroke-width="0.6"/>
<line x1="308.5" y1="354.16400000000004" x2="309.7" y2="354.16400000000004" stroke="#999" stroke-width="0.6"/>
<line x1="308.5" y1="351.372" x2="309.7" y2="351.372" stroke="#999" stroke-width="0.6"/>
<line x1="307.7" y1="348.58" x2="309.7" y2="348.58" stroke="#444" stroke-width="0.9"/>
<text x="305.4" y="351.28" font-size="7.6" text-anchor="end" fill="#2e2e2e" stroke="#2e2e2e" stroke-width="0.18">100K</text>
<line x1="308.5" y1="345.788" x2="309.7" y2="345.788" stroke="#999" stroke-width="0.6"/>
<line x1="308.5" y1="342.996" x2="309.7" y2="342.996" stroke="#999" stroke-width="0.6"/>
<line x1="308.5" y1="340.204" x2="309.7" y2="340.204" stroke="#999" stroke-width="0.6"/>
<line x1="308.5" y1="337.412" x2="309.7" y2="337.412" stroke="#999" stroke-width="0.6"/>
<line x1="307.7" y1="334.62" x2="309.7" y2="334.62" stroke="#444" stroke-width="0.9"/>
<text x="305.4" y="337.32" font-size="7.6" text-anchor="end" fill="#2e2e2e" stroke="#2e2e2e" stroke-width="0.18">150K</text>
<line x1="308.5" y1="331.82800000000003" x2="309.7" y2="331.82800000000003" stroke="#999" stroke-width="0.6"/>
<line x1="308.5" y1="329.036" x2="309.7" y2="329.036" stroke="#999" stroke-width="0.6"/>
<line x1="308.5" y1="326.244" x2="309.7" y2="326.244" stroke="#999" stroke-width="0.6"/>
<line x1="308.5" y1="323.452" x2="309.7" y2="323.452" stroke="#999" stroke-width="0.6"/>
<line x1="307.7" y1="320.66" x2="309.7" y2="320.66" stroke="#444" stroke-width="0.9"/>
<text x="305.4" y="323.36" font-size="7.6" text-anchor="end" fill="#2e2e2e" stroke="#2e2e2e" stroke-width="0.18">200K</text>
<line x1="308.5" y1="317.86800000000005" x2="309.7" y2="317.86800000000005" stroke="#999" stroke-width="0.6"/>
<line x1="308.5" y1="315.076" x2="309.7" y2="315.076" stroke="#999" stroke-width="0.6"/>
<line x1="308.5" y1="312.28400000000005" x2="309.7" y2="312.28400000000005" stroke="#999" stroke-width="0.6"/>
<line x1="308.5" y1="309.492" x2="309.7" y2="309.492" stroke="#999" stroke-width="0.6"/>
<line x1="307.7" y1="306.7" x2="309.7" y2="306.7" stroke="#444" stroke-width="0.9"/>
<text x="305.4" y="309.4" font-size="7.6" text-anchor="end" fill="#2e2e2e" stroke="#2e2e2e" stroke-width="0.18">250K</text>
<line x1="308.5" y1="303.908" x2="309.7" y2="303.908" stroke="#999" stroke-width="0.6"/>
<line x1="316.3" y1="376.5" x2="316.3" y2="378.8" stroke="#555" stroke-width="0.8"/>
<text transform="translate(318.90000000000003,383.7) rotate(-47)" font-size="7.4" text-anchor="end" fill="#2e2e2e" stroke="#2e2e2e" stroke-width="0.18">0</text>
<line x1="335.7" y1="376.5" x2="335.7" y2="378.8" stroke="#555" stroke-width="0.8"/>
<text transform="translate(338.3,383.7) rotate(-47)" font-size="7.4" text-anchor="end" fill="#2e2e2e" stroke="#2e2e2e" stroke-width="0.18">10<tspan dx="0.3" dy="-2.1" font-size="5.2">3</tspan></text>
<line x1="355.3" y1="376.5" x2="355.3" y2="378.8" stroke="#555" stroke-width="0.8"/>
<text transform="translate(357.90000000000003,383.7) rotate(-47)" font-size="7.4" text-anchor="end" fill="#2e2e2e" stroke="#2e2e2e" stroke-width="0.18">10<tspan dx="0.3" dy="-2.1" font-size="5.2">4</tspan></text>
<line x1="375.5" y1="376.5" x2="375.5" y2="378.8" stroke="#555" stroke-width="0.8"/>
<text transform="translate(378.1,383.7) rotate(-47)" font-size="7.4" text-anchor="end" fill="#2e2e2e" stroke="#2e2e2e" stroke-width="0.18">10<tspan dx="0.3" dy="-2.1" font-size="5.2">5</tspan></text>
<line x1="320.18" y1="376.5" x2="320.18" y2="377.6" stroke="#999" stroke-width="0.6"/>
<line x1="324.06" y1="376.5" x2="324.06" y2="377.6" stroke="#999" stroke-width="0.6"/>
<line x1="327.94" y1="376.5" x2="327.94" y2="377.6" stroke="#999" stroke-width="0.6"/>
<line x1="331.82" y1="376.5" x2="331.82" y2="377.6" stroke="#999" stroke-width="0.6"/>
<line x1="339.62" y1="376.5" x2="339.62" y2="377.6" stroke="#999" stroke-width="0.6"/>
<line x1="343.54" y1="376.5" x2="343.54" y2="377.6" stroke="#999" stroke-width="0.6"/>
<line x1="347.46" y1="376.5" x2="347.46" y2="377.6" stroke="#999" stroke-width="0.6"/>
<line x1="351.38" y1="376.5" x2="351.38" y2="377.6" stroke="#999" stroke-width="0.6"/>
<line x1="359.34000000000003" y1="376.5" x2="359.34000000000003" y2="377.6" stroke="#999" stroke-width="0.6"/>
<line x1="363.38" y1="376.5" x2="363.38" y2="377.6" stroke="#999" stroke-width="0.6"/>
<line x1="367.42" y1="376.5" x2="367.42" y2="377.6" stroke="#999" stroke-width="0.6"/>
<line x1="371.46" y1="376.5" x2="371.46" y2="377.6" stroke="#999" stroke-width="0.6"/>
<text x="346.8" y="409.9" font-size="9.2" text-anchor="middle" font-weight="bold" fill="#1a1a1a" textLength="41.5" lengthAdjust="spacingAndGlyphs" stroke="#1a1a1a" stroke-width="0.144">Celltrace violet</text>
<text transform="translate(281.6,340.0) rotate(-90)" font-size="8.6" text-anchor="middle" font-weight="bold" fill="#1a1a1a" textLength="17.6" lengthAdjust="spacingAndGlyphs" stroke="#1a1a1a" stroke-width="0.144">SSC-A</text>
<rect x="310.9" y="375.8" width="9.5" height="1.5" fill="#222"/>
<path d="M451.5 254.2 L452.2 253.4 L454.2 237.6 L455.5 211.3 L456.6 195.5 L457.4 192.5 L458.2 191.6 L459.2 193.0 L460.1 195.5 L461.4 208.7 L463.4 223.2 L466.0 235.0 L468.7 248.2 L470.5 251.5 L472.6 252.8 L476.0 253.6 L480.0 254.2 Z" fill="#ec8a80" stroke="#a83848" stroke-width="0.9" stroke-linejoin="round"/>
<rect x="440.5" y="182.0" width="72.79999999999995" height="72.30000000000001" fill="none" stroke="#1e1e1e" stroke-width="1.1"/>
<line x1="437.7" y1="254.3" x2="440.5" y2="254.3" stroke="#222" stroke-width="0.9"/>
<text x="436.9" y="257.0" font-size="7.6" text-anchor="end" fill="#2a2a2a" stroke="#2a2a2a" stroke-width="0.18">0</text>
<line x1="437.7" y1="240.0" x2="440.5" y2="240.0" stroke="#222" stroke-width="0.9"/>
<text x="436.9" y="242.7" font-size="7.6" text-anchor="end" fill="#2a2a2a" stroke="#2a2a2a" stroke-width="0.18">20</text>
<line x1="437.7" y1="225.8" x2="440.5" y2="225.8" stroke="#222" stroke-width="0.9"/>
<text x="436.9" y="228.5" font-size="7.6" text-anchor="end" fill="#2a2a2a" stroke="#2a2a2a" stroke-width="0.18">40</text>
<line x1="437.7" y1="211.5" x2="440.5" y2="211.5" stroke="#222" stroke-width="0.9"/>
<text x="436.9" y="214.2" font-size="7.6" text-anchor="end" fill="#2a2a2a" stroke="#2a2a2a" stroke-width="0.18">60</text>
<line x1="437.7" y1="197.2" x2="440.5" y2="197.2" stroke="#222" stroke-width="0.9"/>
<text x="436.9" y="199.89999999999998" font-size="7.6" text-anchor="end" fill="#2a2a2a" stroke="#2a2a2a" stroke-width="0.18">80</text>
<line x1="437.7" y1="183.0" x2="440.5" y2="183.0" stroke="#222" stroke-width="0.9"/>
<text x="436.9" y="185.7" font-size="7.6" text-anchor="end" fill="#2a2a2a" stroke="#2a2a2a" stroke-width="0.18">100</text>
<line x1="451.5" y1="254.3" x2="451.5" y2="256.6" stroke="#222" stroke-width="0.8"/>
<text transform="translate(454.1,261.5) rotate(-47)" font-size="7.4" text-anchor="end" fill="#2e2e2e" stroke="#2e2e2e" stroke-width="0.18">0</text>
<line x1="465.1" y1="254.3" x2="465.1" y2="256.6" stroke="#222" stroke-width="0.8"/>
<text transform="translate(467.70000000000005,261.5) rotate(-47)" font-size="7.4" text-anchor="end" fill="#2e2e2e" stroke="#2e2e2e" stroke-width="0.18">10<tspan dx="0.3" dy="-2.1" font-size="5.2">3</tspan></text>
<line x1="480.3" y1="254.3" x2="480.3" y2="256.6" stroke="#222" stroke-width="0.8"/>
<text transform="translate(482.90000000000003,261.5) rotate(-47)" font-size="7.4" text-anchor="end" fill="#2e2e2e" stroke="#2e2e2e" stroke-width="0.18">10<tspan dx="0.3" dy="-2.1" font-size="5.2">4</tspan></text>
<line x1="494.9" y1="254.3" x2="494.9" y2="256.6" stroke="#222" stroke-width="0.8"/>
<text transform="translate(497.5,261.5) rotate(-47)" font-size="7.4" text-anchor="end" fill="#2e2e2e" stroke="#2e2e2e" stroke-width="0.18">10<tspan dx="0.3" dy="-2.1" font-size="5.2">5</tspan></text>
<line x1="508.3" y1="254.3" x2="508.3" y2="256.6" stroke="#222" stroke-width="0.8"/>
<text transform="translate(510.90000000000003,261.5) rotate(-47)" font-size="7.4" text-anchor="end" fill="#2e2e2e" stroke="#2e2e2e" stroke-width="0.18">10<tspan dx="0.3" dy="-2.1" font-size="5.2">6</tspan></text>
<line x1="454.22" y1="254.3" x2="454.22" y2="255.4" stroke="#555" stroke-width="0.6"/>
<line x1="456.94" y1="254.3" x2="456.94" y2="255.4" stroke="#555" stroke-width="0.6"/>
<line x1="459.66" y1="254.3" x2="459.66" y2="255.4" stroke="#555" stroke-width="0.6"/>
<line x1="462.38" y1="254.3" x2="462.38" y2="255.4" stroke="#555" stroke-width="0.6"/>
<line x1="468.14000000000004" y1="254.3" x2="468.14000000000004" y2="255.4" stroke="#555" stroke-width="0.6"/>
<line x1="471.18" y1="254.3" x2="471.18" y2="255.4" stroke="#555" stroke-width="0.6"/>
<line x1="474.22" y1="254.3" x2="474.22" y2="255.4" stroke="#555" stroke-width="0.6"/>
<line x1="477.26" y1="254.3" x2="477.26" y2="255.4" stroke="#555" stroke-width="0.6"/>
<line x1="483.22" y1="254.3" x2="483.22" y2="255.4" stroke="#555" stroke-width="0.6"/>
<line x1="486.14" y1="254.3" x2="486.14" y2="255.4" stroke="#555" stroke-width="0.6"/>
<line x1="489.06" y1="254.3" x2="489.06" y2="255.4" stroke="#555" stroke-width="0.6"/>
<line x1="491.97999999999996" y1="254.3" x2="491.97999999999996" y2="255.4" stroke="#555" stroke-width="0.6"/>
<line x1="497.58" y1="254.3" x2="497.58" y2="255.4" stroke="#555" stroke-width="0.6"/>
<line x1="500.26" y1="254.3" x2="500.26" y2="255.4" stroke="#555" stroke-width="0.6"/>
<line x1="502.94" y1="254.3" x2="502.94" y2="255.4" stroke="#555" stroke-width="0.6"/>
<line x1="505.62" y1="254.3" x2="505.62" y2="255.4" stroke="#555" stroke-width="0.6"/>
<line x1="468.7" y1="205.2" x2="513" y2="205.2" stroke="#222" stroke-width="1"/>
<line x1="468.7" y1="203.0" x2="468.7" y2="207.39999999999998" stroke="#222" stroke-width="1"/>
<line x1="512.6" y1="203.0" x2="512.6" y2="207.39999999999998" stroke="#222" stroke-width="1"/>
<text x="486.6" y="190.7" font-size="7.5" text-anchor="middle" fill="#262626" stroke="#262626" stroke-width="0.18">pHrodo red+</text>
<text x="486.8" y="199.9" font-size="7.6" text-anchor="middle" fill="#262626" stroke="#262626" stroke-width="0.18">4.87%</text>
<text x="476.9" y="287.90000000000003" font-size="9.2" text-anchor="middle" font-weight="bold" fill="#1a1a1a" textLength="31.5" lengthAdjust="spacingAndGlyphs" stroke="#1a1a1a" stroke-width="0.144">pHrodo red</text>
<text transform="translate(417.4,218.15) rotate(-90)" font-size="8.6" text-anchor="middle" font-weight="bold" fill="#1a1a1a" textLength="16.8" lengthAdjust="spacingAndGlyphs" stroke="#1a1a1a" stroke-width="0.144">Count</text>
<path d="M452.0 376.2 L453.2 375.0 L455.0 370.0 L457.0 362.0 L458.7 352.5 L460.0 342.0 L460.8 336.2 L462.0 331.0 L462.8 328.8 L463.5 328.1 L464.3 331.0 L465.2 335.2 L465.9 332.0 L466.5 330.3 L467.2 334.0 L467.9 341.6 L469.0 351.0 L470.2 356.5 L471.6 360.0 L473.0 362.0 L474.4 363.3 L475.5 361.0 L476.8 357.5 L477.9 356.3 L478.8 358.5 L480.0 357.5 L481.2 354.0 L482.5 348.0 L484.0 340.0 L485.5 333.0 L486.8 330.8 L487.8 333.0 L489.0 339.0 L490.3 347.0 L491.8 357.0 L493.3 365.5 L494.8 371.5 L496.3 375.0 L498.0 376.2 Z" fill="#ec8a80" stroke="#a83848" stroke-width="0.9" stroke-linejoin="round"/>
<rect x="440.5" y="303.2" width="72.79999999999995" height="73.10000000000002" fill="none" stroke="#1e1e1e" stroke-width="1.1"/>
<line x1="437.7" y1="376.3" x2="440.5" y2="376.3" stroke="#222" stroke-width="0.9"/>
<text x="436.9" y="379.0" font-size="7.6" text-anchor="end" fill="#2a2a2a" stroke="#2a2a2a" stroke-width="0.18">0</text>
<line x1="437.7" y1="351.9" x2="440.5" y2="351.9" stroke="#222" stroke-width="0.9"/>
<text x="436.9" y="354.59999999999997" font-size="7.6" text-anchor="end" fill="#2a2a2a" stroke="#2a2a2a" stroke-width="0.18">20</text>
<line x1="437.7" y1="327.5" x2="440.5" y2="327.5" stroke="#222" stroke-width="0.9"/>
<text x="436.9" y="330.2" font-size="7.6" text-anchor="end" fill="#2a2a2a" stroke="#2a2a2a" stroke-width="0.18">40</text>
<line x1="437.7" y1="303.2" x2="440.5" y2="303.2" stroke="#222" stroke-width="0.9"/>
<text x="436.9" y="305.9" font-size="7.6" text-anchor="end" fill="#2a2a2a" stroke="#2a2a2a" stroke-width="0.18">60</text>
<line x1="451.5" y1="376.3" x2="451.5" y2="378.6" stroke="#222" stroke-width="0.8"/>
<text transform="translate(454.1,383.5) rotate(-47)" font-size="7.4" text-anchor="end" fill="#2e2e2e" stroke="#2e2e2e" stroke-width="0.18">0</text>
<line x1="465.1" y1="376.3" x2="465.1" y2="378.6" stroke="#222" stroke-width="0.8"/>
<text transform="translate(467.70000000000005,383.5) rotate(-47)" font-size="7.4" text-anchor="end" fill="#2e2e2e" stroke="#2e2e2e" stroke-width="0.18">10<tspan dx="0.3" dy="-2.1" font-size="5.2">3</tspan></text>
<line x1="480.3" y1="376.3" x2="480.3" y2="378.6" stroke="#222" stroke-width="0.8"/>
<text transform="translate(482.90000000000003,383.5) rotate(-47)" font-size="7.4" text-anchor="end" fill="#2e2e2e" stroke="#2e2e2e" stroke-width="0.18">10<tspan dx="0.3" dy="-2.1" font-size="5.2">4</tspan></text>
<line x1="494.9" y1="376.3" x2="494.9" y2="378.6" stroke="#222" stroke-width="0.8"/>
<text transform="translate(497.5,383.5) rotate(-47)" font-size="7.4" text-anchor="end" fill="#2e2e2e" stroke="#2e2e2e" stroke-width="0.18">10<tspan dx="0.3" dy="-2.1" font-size="5.2">5</tspan></text>
<line x1="508.3" y1="376.3" x2="508.3" y2="378.6" stroke="#222" stroke-width="0.8"/>
<text transform="translate(510.90000000000003,383.5) rotate(-47)" font-size="7.4" text-anchor="end" fill="#2e2e2e" stroke="#2e2e2e" stroke-width="0.18">10<tspan dx="0.3" dy="-2.1" font-size="5.2">6</tspan></text>
<line x1="454.22" y1="376.3" x2="454.22" y2="377.40000000000003" stroke="#555" stroke-width="0.6"/>
<line x1="456.94" y1="376.3" x2="456.94" y2="377.40000000000003" stroke="#555" stroke-width="0.6"/>
<line x1="459.66" y1="376.3" x2="459.66" y2="377.40000000000003" stroke="#555" stroke-width="0.6"/>
<line x1="462.38" y1="376.3" x2="462.38" y2="377.40000000000003" stroke="#555" stroke-width="0.6"/>
<line x1="468.14000000000004" y1="376.3" x2="468.14000000000004" y2="377.40000000000003" stroke="#555" stroke-width="0.6"/>
<line x1="471.18" y1="376.3" x2="471.18" y2="377.40000000000003" stroke="#555" stroke-width="0.6"/>
<line x1="474.22" y1="376.3" x2="474.22" y2="377.40000000000003" stroke="#555" stroke-width="0.6"/>
<line x1="477.26" y1="376.3" x2="477.26" y2="377.40000000000003" stroke="#555" stroke-width="0.6"/>
<line x1="483.22" y1="376.3" x2="483.22" y2="377.40000000000003" stroke="#555" stroke-width="0.6"/>
<line x1="486.14" y1="376.3" x2="486.14" y2="377.40000000000003" stroke="#555" stroke-width="0.6"/>
<line x1="489.06" y1="376.3" x2="489.06" y2="377.40000000000003" stroke="#555" stroke-width="0.6"/>
<line x1="491.97999999999996" y1="376.3" x2="491.97999999999996" y2="377.40000000000003" stroke="#555" stroke-width="0.6"/>
<line x1="497.58" y1="376.3" x2="497.58" y2="377.40000000000003" stroke="#555" stroke-width="0.6"/>
<line x1="500.26" y1="376.3" x2="500.26" y2="377.40000000000003" stroke="#555" stroke-width="0.6"/>
<line x1="502.94" y1="376.3" x2="502.94" y2="377.40000000000003" stroke="#555" stroke-width="0.6"/>
<line x1="505.62" y1="376.3" x2="505.62" y2="377.40000000000003" stroke="#555" stroke-width="0.6"/>
<line x1="468.7" y1="327.5" x2="513" y2="327.5" stroke="#222" stroke-width="1"/>
<line x1="468.7" y1="325.3" x2="468.7" y2="329.7" stroke="#222" stroke-width="1"/>
<line x1="512.6" y1="325.3" x2="512.6" y2="329.7" stroke="#222" stroke-width="1"/>
<text x="486.6" y="311.9" font-size="7.5" text-anchor="middle" fill="#262626" stroke="#262626" stroke-width="0.18">pHrodo red+</text>
<text x="486.8" y="321.09999999999997" font-size="7.6" text-anchor="middle" fill="#262626" stroke="#262626" stroke-width="0.18">55.9%</text>
<text x="476.9" y="409.90000000000003" font-size="9.2" text-anchor="middle" font-weight="bold" fill="#1a1a1a" textLength="31.5" lengthAdjust="spacingAndGlyphs" stroke="#1a1a1a" stroke-width="0.144">pHrodo red</text>
<text transform="translate(417.4,339.75) rotate(-90)" font-size="8.6" text-anchor="middle" font-weight="bold" fill="#1a1a1a" textLength="16.8" lengthAdjust="spacingAndGlyphs" stroke="#1a1a1a" stroke-width="0.144">Count</text>
<line x1="123.1" y1="285.0" x2="150.3" y2="285.0" stroke="#2a2a2a" stroke-width="1.5"/>
<path d="M146.3 281.1 L156.3 285.0 L146.3 288.9 L148.7 285.0 Z" fill="#111" stroke="none" stroke-width="1" stroke-linejoin="round"/>
<line x1="251.1" y1="284.8" x2="278.0" y2="284.8" stroke="#2a2a2a" stroke-width="1.5"/>
<path d="M274.0 280.9 L284.0 284.8 L274.0 288.7 L276.4 284.8 Z" fill="#111" stroke="none" stroke-width="1" stroke-linejoin="round"/>
<line x1="397.2" y1="285.2" x2="424.2" y2="285.2" stroke="#2a2a2a" stroke-width="1.5"/>
<path d="M420.2 281.3 L430.2 285.2 L420.2 289.1 L422.6 285.2 Z" fill="#111" stroke="none" stroke-width="1" stroke-linejoin="round"/>
<text x="6.6" y="436.7" font-size="11.4" font-weight="bold" fill="#111" stroke="#111" stroke-width="0.144">C</text>
<line x1="39.6" y1="455.8" x2="39.6" y2="532.3" stroke="#111" stroke-width="1.1"/>
<line x1="39.1" y1="523.4" x2="134.35" y2="523.4" stroke="#111" stroke-width="1.1"/>
<line x1="37.0" y1="523.4" x2="39.6" y2="523.4" stroke="#111" stroke-width="0.9"/>
<text x="35.0" y="526.1" font-size="7.6" text-anchor="end" fill="#2a2a2a" stroke="#2a2a2a" stroke-width="0.18">0.0</text>
<line x1="37.0" y1="507.2" x2="39.6" y2="507.2" stroke="#111" stroke-width="0.9"/>
<text x="35.0" y="509.9" font-size="7.6" text-anchor="end" fill="#2a2a2a" stroke="#2a2a2a" stroke-width="0.18">0.5</text>
<line x1="37.0" y1="491.0" x2="39.6" y2="491.0" stroke="#111" stroke-width="0.9"/>
<text x="35.0" y="493.7" font-size="7.6" text-anchor="end" fill="#2a2a2a" stroke="#2a2a2a" stroke-width="0.18">1.0</text>
<line x1="37.0" y1="474.79999999999995" x2="39.6" y2="474.79999999999995" stroke="#111" stroke-width="0.9"/>
<text x="35.0" y="477.49999999999994" font-size="7.6" text-anchor="end" fill="#2a2a2a" stroke="#2a2a2a" stroke-width="0.18">1.5</text>
<line x1="37.0" y1="458.59999999999997" x2="39.6" y2="458.59999999999997" stroke="#111" stroke-width="0.9"/>
<text x="35.0" y="461.29999999999995" font-size="7.6" text-anchor="end" fill="#2a2a2a" stroke="#2a2a2a" stroke-width="0.18">2.0</text>
<line x1="39.6" y1="523.4" x2="39.6" y2="525.6" stroke="#111" stroke-width="0.9"/>
<line x1="58.05" y1="523.4" x2="58.05" y2="525.6" stroke="#111" stroke-width="0.9"/>
<line x1="76.5" y1="523.4" x2="76.5" y2="525.6" stroke="#111" stroke-width="0.9"/>
<line x1="94.94999999999999" y1="523.4" x2="94.94999999999999" y2="525.6" stroke="#111" stroke-width="0.9"/>
<line x1="113.4" y1="523.4" x2="113.4" y2="525.6" stroke="#111" stroke-width="0.9"/>
<line x1="131.85" y1="523.4" x2="131.85" y2="525.6" stroke="#111" stroke-width="0.9"/>
<text x="31.5" y="531.8" font-size="7.6" text-anchor="middle" fill="#2a2a2a" stroke="#2a2a2a" stroke-width="0.18">0</text>
<text x="38.0" y="531.8" font-size="7.6" fill="#2a2a2a" stroke="#2a2a2a" stroke-width="0.18">.01</text>
<text x="58.849999999999994" y="531.8" font-size="7.6" text-anchor="middle" fill="#2a2a2a" stroke="#2a2a2a" stroke-width="0.18">0.1</text>
<text x="76.5" y="531.8" font-size="7.6" text-anchor="middle" fill="#2a2a2a" stroke="#2a2a2a" stroke-width="0.18">1</text>
<text x="94.94999999999999" y="531.8" font-size="7.6" text-anchor="middle" fill="#2a2a2a" stroke="#2a2a2a" stroke-width="0.18">10</text>
<text x="113.4" y="531.8" font-size="7.6" text-anchor="middle" fill="#2a2a2a" stroke="#2a2a2a" stroke-width="0.18">100</text>
<text x="131.85" y="531.8" font-size="7.6" text-anchor="middle" fill="#2a2a2a" stroke="#2a2a2a" stroke-width="0.18">1000</text>
<text x="87.0" y="449.6" font-size="9" text-anchor="middle" fill="#222" stroke="#222" stroke-width="0.18">Brad3</text>
<text x="86.9" y="544.8" font-size="8.7" text-anchor="middle" font-weight="bold" fill="#1a1a1a" textLength="62.0" lengthAdjust="spacingAndGlyphs" stroke="#1a1a1a" stroke-width="0.144">Concentration (ng/ml)</text>
<text transform="translate(17.6,493.6) rotate(-90)" font-size="8.8" text-anchor="middle" fill="#1a1a1a" textLength="53.5" lengthAdjust="spacingAndGlyphs" stroke="#1a1a1a" stroke-width="0.18">ADP score (&#215; 10<tspan dy="-2.7" font-size="5.6">6</tspan><tspan dy="2.7">)</tspan></text>
<line x1="94.94999999999999" y1="477.71599999999995" x2="94.94999999999999" y2="480.95599999999996" stroke="#c9c9c9" stroke-width="0.9"/>
<line x1="93.64999999999999" y1="477.71599999999995" x2="96.24999999999999" y2="477.71599999999995" stroke="#c9c9c9" stroke-width="0.9"/>
<line x1="93.64999999999999" y1="480.95599999999996" x2="96.24999999999999" y2="480.95599999999996" stroke="#c9c9c9" stroke-width="0.9"/>
<line x1="131.85" y1="477.716" x2="131.85" y2="482.9" stroke="#c9c9c9" stroke-width="0.9"/>
<line x1="130.54999999999998" y1="477.716" x2="133.15" y2="477.716" stroke="#c9c9c9" stroke-width="0.9"/>
<line x1="130.54999999999998" y1="482.9" x2="133.15" y2="482.9" stroke="#c9c9c9" stroke-width="0.9"/>
<path d="M39.6 523.4 L58.0 523.4 L76.5 516.3 L94.9 479.3 L113.4 458.9 L131.8 480.3" fill="none" stroke="#c9c9c9" stroke-width="1.0" stroke-linejoin="round"/>
<circle cx="39.6" cy="523.4" r="1.75" fill="#fff" stroke="#c9c9c9" stroke-width="1.0"/>
<circle cx="58.0" cy="523.4" r="1.75" fill="#fff" stroke="#c9c9c9" stroke-width="1.0"/>
<circle cx="76.5" cy="516.3" r="1.75" fill="#fff" stroke="#c9c9c9" stroke-width="1.0"/>
<circle cx="94.9" cy="479.3" r="1.75" fill="#fff" stroke="#c9c9c9" stroke-width="1.0"/>
<circle cx="113.4" cy="458.9" r="1.75" fill="#fff" stroke="#c9c9c9" stroke-width="1.0"/>
<circle cx="131.8" cy="480.3" r="1.75" fill="#fff" stroke="#c9c9c9" stroke-width="1.0"/>
<line x1="76.5" y1="523.076" x2="76.5" y2="526.9639999999999" stroke="#5a3a6a" stroke-width="0.9"/>
<line x1="75.2" y1="523.076" x2="77.8" y2="523.076" stroke="#5a3a6a" stroke-width="0.9"/>
<line x1="75.2" y1="526.9639999999999" x2="77.8" y2="526.9639999999999" stroke="#5a3a6a" stroke-width="0.9"/>
<line x1="113.4" y1="523.076" x2="113.4" y2="526.9639999999999" stroke="#5a3a6a" stroke-width="0.9"/>
<line x1="112.10000000000001" y1="523.076" x2="114.7" y2="523.076" stroke="#5a3a6a" stroke-width="0.9"/>
<line x1="112.10000000000001" y1="526.9639999999999" x2="114.7" y2="526.9639999999999" stroke="#5a3a6a" stroke-width="0.9"/>
<path d="M39.6 524.4 L58.0 524.0 L76.5 525.0 L94.9 525.3 L113.4 525.0 L131.8 525.0" fill="none" stroke="#5a3a6a" stroke-width="1.0" stroke-linejoin="round"/>
<circle cx="39.6" cy="524.4" r="1.75" fill="#fff" stroke="#5a3a6a" stroke-width="1.0"/>
<circle cx="58.0" cy="524.0" r="1.75" fill="#fff" stroke="#5a3a6a" stroke-width="1.0"/>
<circle cx="76.5" cy="525.0" r="1.75" fill="#fff" stroke="#5a3a6a" stroke-width="1.0"/>
<circle cx="94.9" cy="525.3" r="1.75" fill="#fff" stroke="#5a3a6a" stroke-width="1.0"/>
<circle cx="113.4" cy="525.0" r="1.75" fill="#fff" stroke="#5a3a6a" stroke-width="1.0"/>
<circle cx="131.8" cy="525.0" r="1.75" fill="#fff" stroke="#5a3a6a" stroke-width="1.0"/>
<line x1="113.4" y1="483.872" x2="113.4" y2="491.64799999999997" stroke="#4fb3de" stroke-width="0.9"/>
<line x1="112.10000000000001" y1="483.872" x2="114.7" y2="483.872" stroke="#4fb3de" stroke-width="0.9"/>
<line x1="112.10000000000001" y1="491.64799999999997" x2="114.7" y2="491.64799999999997" stroke="#4fb3de" stroke-width="0.9"/>
<path d="M39.6 524.0 L58.0 523.4 L76.5 514.3 L94.9 485.8 L113.4 487.8 L131.8 492.3" fill="none" stroke="#4fb3de" stroke-width="1.0" stroke-linejoin="round"/>
<circle cx="39.6" cy="524.0" r="1.75" fill="#fff" stroke="#4fb3de" stroke-width="1.0"/>
<circle cx="58.0" cy="523.4" r="1.75" fill="#fff" stroke="#4fb3de" stroke-width="1.0"/>
<circle cx="76.5" cy="514.3" r="1.75" fill="#fff" stroke="#4fb3de" stroke-width="1.0"/>
<circle cx="94.9" cy="485.8" r="1.75" fill="#fff" stroke="#4fb3de" stroke-width="1.0"/>
<circle cx="113.4" cy="487.8" r="1.75" fill="#fff" stroke="#4fb3de" stroke-width="1.0"/>
<circle cx="131.8" cy="492.3" r="1.75" fill="#fff" stroke="#4fb3de" stroke-width="1.0"/>
<line x1="94.94999999999999" y1="477.71599999999995" x2="94.94999999999999" y2="480.95599999999996" stroke="#f0a33a" stroke-width="0.9"/>
<line x1="93.64999999999999" y1="477.71599999999995" x2="96.24999999999999" y2="477.71599999999995" stroke="#f0a33a" stroke-width="0.9"/>
<line x1="93.64999999999999" y1="480.95599999999996" x2="96.24999999999999" y2="480.95599999999996" stroke="#f0a33a" stroke-width="0.9"/>
<path d="M39.6 524.0 L58.0 523.4 L76.5 511.7 L94.9 479.3 L113.4 485.2 L131.8 516.9" fill="none" stroke="#f0a33a" stroke-width="1.0" stroke-linejoin="round"/>
<circle cx="39.6" cy="524.0" r="1.75" fill="#fff" stroke="#f0a33a" stroke-width="1.0"/>
<circle cx="58.0" cy="523.4" r="1.75" fill="#fff" stroke="#f0a33a" stroke-width="1.0"/>
<circle cx="76.5" cy="511.7" r="1.75" fill="#fff" stroke="#f0a33a" stroke-width="1.0"/>
<circle cx="94.9" cy="479.3" r="1.75" fill="#fff" stroke="#f0a33a" stroke-width="1.0"/>
<circle cx="113.4" cy="485.2" r="1.75" fill="#fff" stroke="#f0a33a" stroke-width="1.0"/>
<circle cx="131.8" cy="516.9" r="1.75" fill="#fff" stroke="#f0a33a" stroke-width="1.0"/>
<line x1="131.85" y1="514.976" x2="131.85" y2="518.8639999999999" stroke="#4f9e3c" stroke-width="0.9"/>
<line x1="130.54999999999998" y1="514.976" x2="133.15" y2="514.976" stroke="#4f9e3c" stroke-width="0.9"/>
<line x1="130.54999999999998" y1="518.8639999999999" x2="133.15" y2="518.8639999999999" stroke="#4f9e3c" stroke-width="0.9"/>
<path d="M39.6 524.0 L58.0 523.4 L76.5 509.5 L94.9 482.6 L113.4 487.8 L131.8 516.9" fill="none" stroke="#4f9e3c" stroke-width="1.0" stroke-linejoin="round"/>
<circle cx="39.6" cy="524.0" r="1.75" fill="#fff" stroke="#4f9e3c" stroke-width="1.0"/>
<circle cx="58.0" cy="523.4" r="1.75" fill="#fff" stroke="#4f9e3c" stroke-width="1.0"/>
<circle cx="76.5" cy="509.5" r="1.75" fill="#fff" stroke="#4f9e3c" stroke-width="1.0"/>
<circle cx="94.9" cy="482.6" r="1.75" fill="#fff" stroke="#4f9e3c" stroke-width="1.0"/>
<circle cx="113.4" cy="487.8" r="1.75" fill="#fff" stroke="#4f9e3c" stroke-width="1.0"/>
<circle cx="131.8" cy="516.9" r="1.75" fill="#fff" stroke="#4f9e3c" stroke-width="1.0"/>
<line x1="113.4" y1="479.01199999999994" x2="113.4" y2="482.25199999999995" stroke="#c12d41" stroke-width="0.9"/>
<line x1="112.10000000000001" y1="479.01199999999994" x2="114.7" y2="479.01199999999994" stroke="#c12d41" stroke-width="0.9"/>
<line x1="112.10000000000001" y1="482.25199999999995" x2="114.7" y2="482.25199999999995" stroke="#c12d41" stroke-width="0.9"/>
<line x1="131.85" y1="489.056" x2="131.85" y2="492.296" stroke="#c12d41" stroke-width="0.9"/>
<line x1="130.54999999999998" y1="489.056" x2="133.15" y2="489.056" stroke="#c12d41" stroke-width="0.9"/>
<line x1="130.54999999999998" y1="492.296" x2="133.15" y2="492.296" stroke="#c12d41" stroke-width="0.9"/>
<path d="M39.6 525.3 L58.0 524.4 L76.5 517.6 L94.9 487.8 L113.4 480.6 L131.8 490.7" fill="none" stroke="#c12d41" stroke-width="1.0" stroke-linejoin="round"/>
<circle cx="39.6" cy="525.3" r="1.75" fill="#fff" stroke="#c12d41" stroke-width="1.0"/>
<circle cx="58.0" cy="524.4" r="1.75" fill="#fff" stroke="#c12d41" stroke-width="1.0"/>
<circle cx="76.5" cy="517.6" r="1.75" fill="#fff" stroke="#c12d41" stroke-width="1.0"/>
<circle cx="94.9" cy="487.8" r="1.75" fill="#fff" stroke="#c12d41" stroke-width="1.0"/>
<circle cx="113.4" cy="480.6" r="1.75" fill="#fff" stroke="#c12d41" stroke-width="1.0"/>
<circle cx="131.8" cy="490.7" r="1.75" fill="#fff" stroke="#c12d41" stroke-width="1.0"/>
<line x1="182.4" y1="455.8" x2="182.4" y2="532.3" stroke="#111" stroke-width="1.1"/>
<line x1="181.9" y1="523.4" x2="277.15" y2="523.4" stroke="#111" stroke-width="1.1"/>
<line x1="179.8" y1="523.4" x2="182.4" y2="523.4" stroke="#111" stroke-width="0.9"/>
<text x="177.8" y="526.1" font-size="7.6" text-anchor="end" fill="#2a2a2a" stroke="#2a2a2a" stroke-width="0.18">0.0</text>
<line x1="179.8" y1="507.2" x2="182.4" y2="507.2" stroke="#111" stroke-width="0.9"/>
<text x="177.8" y="509.9" font-size="7.6" text-anchor="end" fill="#2a2a2a" stroke="#2a2a2a" stroke-width="0.18">0.5</text>
<line x1="179.8" y1="491.0" x2="182.4" y2="491.0" stroke="#111" stroke-width="0.9"/>
<text x="177.8" y="493.7" font-size="7.6" text-anchor="end" fill="#2a2a2a" stroke="#2a2a2a" stroke-width="0.18">1.0</text>
<line x1="179.8" y1="474.79999999999995" x2="182.4" y2="474.79999999999995" stroke="#111" stroke-width="0.9"/>
<text x="177.8" y="477.49999999999994" font-size="7.6" text-anchor="end" fill="#2a2a2a" stroke="#2a2a2a" stroke-width="0.18">1.5</text>
<line x1="179.8" y1="458.59999999999997" x2="182.4" y2="458.59999999999997" stroke="#111" stroke-width="0.9"/>
<text x="177.8" y="461.29999999999995" font-size="7.6" text-anchor="end" fill="#2a2a2a" stroke="#2a2a2a" stroke-width="0.18">2.0</text>
<line x1="182.4" y1="523.4" x2="182.4" y2="525.6" stroke="#111" stroke-width="0.9"/>
<line x1="200.85" y1="523.4" x2="200.85" y2="525.6" stroke="#111" stroke-width="0.9"/>
<line x1="219.3" y1="523.4" x2="219.3" y2="525.6" stroke="#111" stroke-width="0.9"/>
<line x1="237.75" y1="523.4" x2="237.75" y2="525.6" stroke="#111" stroke-width="0.9"/>
<line x1="256.2" y1="523.4" x2="256.2" y2="525.6" stroke="#111" stroke-width="0.9"/>
<line x1="274.65" y1="523.4" x2="274.65" y2="525.6" stroke="#111" stroke-width="0.9"/>
<text x="174.3" y="531.8" font-size="7.6" text-anchor="middle" fill="#2a2a2a" stroke="#2a2a2a" stroke-width="0.18">0</text>
<text x="180.8" y="531.8" font-size="7.6" fill="#2a2a2a" stroke="#2a2a2a" stroke-width="0.18">.01</text>
<text x="201.65" y="531.8" font-size="7.6" text-anchor="middle" fill="#2a2a2a" stroke="#2a2a2a" stroke-width="0.18">0.1</text>
<text x="219.3" y="531.8" font-size="7.6" text-anchor="middle" fill="#2a2a2a" stroke="#2a2a2a" stroke-width="0.18">1</text>
<text x="237.75" y="531.8" font-size="7.6" text-anchor="middle" fill="#2a2a2a" stroke="#2a2a2a" stroke-width="0.18">10</text>
<text x="256.2" y="531.8" font-size="7.6" text-anchor="middle" fill="#2a2a2a" stroke="#2a2a2a" stroke-width="0.18">100</text>
<text x="274.65" y="531.8" font-size="7.6" text-anchor="middle" fill="#2a2a2a" stroke="#2a2a2a" stroke-width="0.18">1000</text>
<text x="229.5" y="449.6" font-size="9" text-anchor="middle" fill="#222" stroke="#222" stroke-width="0.18">Fog1</text>
<text x="229.7" y="544.8" font-size="8.7" text-anchor="middle" font-weight="bold" fill="#1a1a1a" textLength="62.0" lengthAdjust="spacingAndGlyphs" stroke="#1a1a1a" stroke-width="0.144">Concentration (ng/ml)</text>
<text transform="translate(160.4,493.6) rotate(-90)" font-size="8.8" text-anchor="middle" fill="#1a1a1a" textLength="53.5" lengthAdjust="spacingAndGlyphs" stroke="#1a1a1a" stroke-width="0.18">ADP score (&#215; 10<tspan dy="-2.7" font-size="5.6">6</tspan><tspan dy="2.7">)</tspan></text>
<line x1="256.2" y1="456.656" x2="256.2" y2="461.84" stroke="#c9c9c9" stroke-width="0.9"/>
<line x1="254.89999999999998" y1="456.656" x2="257.5" y2="456.656" stroke="#c9c9c9" stroke-width="0.9"/>
<line x1="254.89999999999998" y1="461.84" x2="257.5" y2="461.84" stroke="#c9c9c9" stroke-width="0.9"/>
<line x1="274.65" y1="477.716" x2="274.65" y2="482.9" stroke="#c9c9c9" stroke-width="0.9"/>
<line x1="273.34999999999997" y1="477.716" x2="275.95" y2="477.716" stroke="#c9c9c9" stroke-width="0.9"/>
<line x1="273.34999999999997" y1="482.9" x2="275.95" y2="482.9" stroke="#c9c9c9" stroke-width="0.9"/>
<path d="M182.4 524.0 L200.8 523.4 L219.3 512.7 L237.8 482.9 L256.2 459.2 L274.6 480.3" fill="none" stroke="#c9c9c9" stroke-width="1.0" stroke-linejoin="round"/>
<circle cx="182.4" cy="524.0" r="1.75" fill="#fff" stroke="#c9c9c9" stroke-width="1.0"/>
<circle cx="200.8" cy="523.4" r="1.75" fill="#fff" stroke="#c9c9c9" stroke-width="1.0"/>
<circle cx="219.3" cy="512.7" r="1.75" fill="#fff" stroke="#c9c9c9" stroke-width="1.0"/>
<circle cx="237.8" cy="482.9" r="1.75" fill="#fff" stroke="#c9c9c9" stroke-width="1.0"/>
<circle cx="256.2" cy="459.2" r="1.75" fill="#fff" stroke="#c9c9c9" stroke-width="1.0"/>
<circle cx="274.6" cy="480.3" r="1.75" fill="#fff" stroke="#c9c9c9" stroke-width="1.0"/>
<line x1="237.75" y1="522.428" x2="237.75" y2="525.668" stroke="#5a3a6a" stroke-width="0.9"/>
<line x1="236.45" y1="522.428" x2="239.05" y2="522.428" stroke="#5a3a6a" stroke-width="0.9"/>
<line x1="236.45" y1="525.668" x2="239.05" y2="525.668" stroke="#5a3a6a" stroke-width="0.9"/>
<line x1="256.2" y1="519.8359999999999" x2="256.2" y2="527.612" stroke="#5a3a6a" stroke-width="0.9"/>
<line x1="254.89999999999998" y1="519.8359999999999" x2="257.5" y2="519.8359999999999" stroke="#5a3a6a" stroke-width="0.9"/>
<line x1="254.89999999999998" y1="527.612" x2="257.5" y2="527.612" stroke="#5a3a6a" stroke-width="0.9"/>
<line x1="274.65" y1="518.216" x2="274.65" y2="531.176" stroke="#5a3a6a" stroke-width="0.9"/>
<line x1="273.34999999999997" y1="518.216" x2="275.95" y2="518.216" stroke="#5a3a6a" stroke-width="0.9"/>
<line x1="273.34999999999997" y1="531.176" x2="275.95" y2="531.176" stroke="#5a3a6a" stroke-width="0.9"/>
<path d="M182.4 525.0 L200.8 524.4 L219.3 524.4 L237.8 524.0 L256.2 523.7 L274.6 524.7" fill="none" stroke="#5a3a6a" stroke-width="1.0" stroke-linejoin="round"/>
<circle cx="182.4" cy="525.0" r="1.75" fill="#fff" stroke="#5a3a6a" stroke-width="1.0"/>
<circle cx="200.8" cy="524.4" r="1.75" fill="#fff" stroke="#5a3a6a" stroke-width="1.0"/>
<circle cx="219.3" cy="524.4" r="1.75" fill="#fff" stroke="#5a3a6a" stroke-width="1.0"/>
<circle cx="237.8" cy="524.0" r="1.75" fill="#fff" stroke="#5a3a6a" stroke-width="1.0"/>
<circle cx="256.2" cy="523.7" r="1.75" fill="#fff" stroke="#5a3a6a" stroke-width="1.0"/>
<circle cx="274.6" cy="524.7" r="1.75" fill="#fff" stroke="#5a3a6a" stroke-width="1.0"/>
<line x1="256.2" y1="461.19199999999995" x2="256.2" y2="467.67199999999997" stroke="#4fb3de" stroke-width="0.9"/>
<line x1="254.89999999999998" y1="461.19199999999995" x2="257.5" y2="461.19199999999995" stroke="#4fb3de" stroke-width="0.9"/>
<line x1="254.89999999999998" y1="467.67199999999997" x2="257.5" y2="467.67199999999997" stroke="#4fb3de" stroke-width="0.9"/>
<line x1="274.65" y1="483.548" x2="274.65" y2="486.788" stroke="#4fb3de" stroke-width="0.9"/>
<line x1="273.34999999999997" y1="483.548" x2="275.95" y2="483.548" stroke="#4fb3de" stroke-width="0.9"/>
<line x1="273.34999999999997" y1="486.788" x2="275.95" y2="486.788" stroke="#4fb3de" stroke-width="0.9"/>
<path d="M182.4 524.4 L200.8 524.4 L219.3 513.7 L237.8 485.2 L256.2 464.4 L274.6 485.2" fill="none" stroke="#4fb3de" stroke-width="1.0" stroke-linejoin="round"/>
<circle cx="182.4" cy="524.4" r="1.75" fill="#fff" stroke="#4fb3de" stroke-width="1.0"/>
<circle cx="200.8" cy="524.4" r="1.75" fill="#fff" stroke="#4fb3de" stroke-width="1.0"/>
<circle cx="219.3" cy="513.7" r="1.75" fill="#fff" stroke="#4fb3de" stroke-width="1.0"/>
<circle cx="237.8" cy="485.2" r="1.75" fill="#fff" stroke="#4fb3de" stroke-width="1.0"/>
<circle cx="256.2" cy="464.4" r="1.75" fill="#fff" stroke="#4fb3de" stroke-width="1.0"/>
<circle cx="274.6" cy="485.2" r="1.75" fill="#fff" stroke="#4fb3de" stroke-width="1.0"/>
<line x1="200.85" y1="521.132" x2="200.85" y2="527.612" stroke="#f0a33a" stroke-width="0.9"/>
<line x1="199.54999999999998" y1="521.132" x2="202.15" y2="521.132" stroke="#f0a33a" stroke-width="0.9"/>
<line x1="199.54999999999998" y1="527.612" x2="202.15" y2="527.612" stroke="#f0a33a" stroke-width="0.9"/>
<line x1="237.75" y1="472.532" x2="237.75" y2="479.012" stroke="#f0a33a" stroke-width="0.9"/>
<line x1="236.45" y1="472.532" x2="239.05" y2="472.532" stroke="#f0a33a" stroke-width="0.9"/>
<line x1="236.45" y1="479.012" x2="239.05" y2="479.012" stroke="#f0a33a" stroke-width="0.9"/>
<path d="M182.4 524.4 L200.8 524.4 L219.3 508.8 L237.8 475.8 L256.2 468.3 L274.6 504.0" fill="none" stroke="#f0a33a" stroke-width="1.0" stroke-linejoin="round"/>
<circle cx="182.4" cy="524.4" r="1.75" fill="#fff" stroke="#f0a33a" stroke-width="1.0"/>
<circle cx="200.8" cy="524.4" r="1.75" fill="#fff" stroke="#f0a33a" stroke-width="1.0"/>
<circle cx="219.3" cy="508.8" r="1.75" fill="#fff" stroke="#f0a33a" stroke-width="1.0"/>
<circle cx="237.8" cy="475.8" r="1.75" fill="#fff" stroke="#f0a33a" stroke-width="1.0"/>
<circle cx="256.2" cy="468.3" r="1.75" fill="#fff" stroke="#f0a33a" stroke-width="1.0"/>
<circle cx="274.6" cy="504.0" r="1.75" fill="#fff" stroke="#f0a33a" stroke-width="1.0"/>
<line x1="182.4" y1="522.104" x2="182.4" y2="527.288" stroke="#4f9e3c" stroke-width="0.9"/>
<line x1="181.1" y1="522.104" x2="183.70000000000002" y2="522.104" stroke="#4f9e3c" stroke-width="0.9"/>
<line x1="181.1" y1="527.288" x2="183.70000000000002" y2="527.288" stroke="#4f9e3c" stroke-width="0.9"/>
<line x1="219.3" y1="504.608" x2="219.3" y2="509.792" stroke="#4f9e3c" stroke-width="0.9"/>
<line x1="218.0" y1="504.608" x2="220.60000000000002" y2="504.608" stroke="#4f9e3c" stroke-width="0.9"/>
<line x1="218.0" y1="509.792" x2="220.60000000000002" y2="509.792" stroke="#4f9e3c" stroke-width="0.9"/>
<line x1="237.75" y1="473.17999999999995" x2="237.75" y2="479.65999999999997" stroke="#4f9e3c" stroke-width="0.9"/>
<line x1="236.45" y1="473.17999999999995" x2="239.05" y2="473.17999999999995" stroke="#4f9e3c" stroke-width="0.9"/>
<line x1="236.45" y1="479.65999999999997" x2="239.05" y2="479.65999999999997" stroke="#4f9e3c" stroke-width="0.9"/>
<line x1="256.2" y1="465.72799999999995" x2="256.2" y2="469.616" stroke="#4f9e3c" stroke-width="0.9"/>
<line x1="254.89999999999998" y1="465.72799999999995" x2="257.5" y2="465.72799999999995" stroke="#4f9e3c" stroke-width="0.9"/>
<line x1="254.89999999999998" y1="469.616" x2="257.5" y2="469.616" stroke="#4f9e3c" stroke-width="0.9"/>
<line x1="274.65" y1="502.34" x2="274.65" y2="505.58" stroke="#4f9e3c" stroke-width="0.9"/>
<line x1="273.34999999999997" y1="502.34" x2="275.95" y2="502.34" stroke="#4f9e3c" stroke-width="0.9"/>
<line x1="273.34999999999997" y1="505.58" x2="275.95" y2="505.58" stroke="#4f9e3c" stroke-width="0.9"/>
<path d="M182.4 524.7 L200.8 524.4 L219.3 507.2 L237.8 476.4 L256.2 467.7 L274.6 504.0" fill="none" stroke="#4f9e3c" stroke-width="1.0" stroke-linejoin="round"/>
<circle cx="182.4" cy="524.7" r="1.75" fill="#fff" stroke="#4f9e3c" stroke-width="1.0"/>
<circle cx="200.8" cy="524.4" r="1.75" fill="#fff" stroke="#4f9e3c" stroke-width="1.0"/>
<circle cx="219.3" cy="507.2" r="1.75" fill="#fff" stroke="#4f9e3c" stroke-width="1.0"/>
<circle cx="237.8" cy="476.4" r="1.75" fill="#fff" stroke="#4f9e3c" stroke-width="1.0"/>
<circle cx="256.2" cy="467.7" r="1.75" fill="#fff" stroke="#4f9e3c" stroke-width="1.0"/>
<circle cx="274.6" cy="504.0" r="1.75" fill="#fff" stroke="#4f9e3c" stroke-width="1.0"/>
<line x1="219.3" y1="514.6519999999999" x2="219.3" y2="517.8919999999999" stroke="#c12d41" stroke-width="0.9"/>
<line x1="218.0" y1="514.6519999999999" x2="220.60000000000002" y2="514.6519999999999" stroke="#c12d41" stroke-width="0.9"/>
<line x1="218.0" y1="517.8919999999999" x2="220.60000000000002" y2="517.8919999999999" stroke="#c12d41" stroke-width="0.9"/>
<line x1="237.75" y1="485.492" x2="237.75" y2="493.268" stroke="#c12d41" stroke-width="0.9"/>
<line x1="236.45" y1="485.492" x2="239.05" y2="485.492" stroke="#c12d41" stroke-width="0.9"/>
<line x1="236.45" y1="493.268" x2="239.05" y2="493.268" stroke="#c12d41" stroke-width="0.9"/>
<line x1="256.2" y1="469.93999999999994" x2="256.2" y2="482.9" stroke="#c12d41" stroke-width="0.9"/>
<line x1="254.89999999999998" y1="469.93999999999994" x2="257.5" y2="469.93999999999994" stroke="#c12d41" stroke-width="0.9"/>
<line x1="254.89999999999998" y1="482.9" x2="257.5" y2="482.9" stroke="#c12d41" stroke-width="0.9"/>
<line x1="274.65" y1="481.92799999999994" x2="274.65" y2="485.816" stroke="#c12d41" stroke-width="0.9"/>
<line x1="273.34999999999997" y1="481.92799999999994" x2="275.95" y2="481.92799999999994" stroke="#c12d41" stroke-width="0.9"/>
<line x1="273.34999999999997" y1="485.816" x2="275.95" y2="485.816" stroke="#c12d41" stroke-width="0.9"/>
<path d="M182.4 524.7 L200.8 525.0 L219.3 516.3 L237.8 489.4 L256.2 476.4 L274.6 483.9" fill="none" stroke="#c12d41" stroke-width="1.0" stroke-linejoin="round"/>
<circle cx="182.4" cy="524.7" r="1.75" fill="#fff" stroke="#c12d41" stroke-width="1.0"/>
<circle cx="200.8" cy="525.0" r="1.75" fill="#fff" stroke="#c12d41" stroke-width="1.0"/>
<circle cx="219.3" cy="516.3" r="1.75" fill="#fff" stroke="#c12d41" stroke-width="1.0"/>
<circle cx="237.8" cy="489.4" r="1.75" fill="#fff" stroke="#c12d41" stroke-width="1.0"/>
<circle cx="256.2" cy="476.4" r="1.75" fill="#fff" stroke="#c12d41" stroke-width="1.0"/>
<circle cx="274.6" cy="483.9" r="1.75" fill="#fff" stroke="#c12d41" stroke-width="1.0"/>
<line x1="325.3" y1="455.8" x2="325.3" y2="532.3" stroke="#111" stroke-width="1.1"/>
<line x1="324.8" y1="523.4" x2="420.05" y2="523.4" stroke="#111" stroke-width="1.1"/>
<line x1="322.7" y1="523.4" x2="325.3" y2="523.4" stroke="#111" stroke-width="0.9"/>
<text x="320.7" y="526.1" font-size="7.6" text-anchor="end" fill="#2a2a2a" stroke="#2a2a2a" stroke-width="0.18">0.0</text>
<line x1="322.7" y1="507.2" x2="325.3" y2="507.2" stroke="#111" stroke-width="0.9"/>
<text x="320.7" y="509.9" font-size="7.6" text-anchor="end" fill="#2a2a2a" stroke="#2a2a2a" stroke-width="0.18">0.5</text>
<line x1="322.7" y1="491.0" x2="325.3" y2="491.0" stroke="#111" stroke-width="0.9"/>
<text x="320.7" y="493.7" font-size="7.6" text-anchor="end" fill="#2a2a2a" stroke="#2a2a2a" stroke-width="0.18">1.0</text>
<line x1="322.7" y1="474.79999999999995" x2="325.3" y2="474.79999999999995" stroke="#111" stroke-width="0.9"/>
<text x="320.7" y="477.49999999999994" font-size="7.6" text-anchor="end" fill="#2a2a2a" stroke="#2a2a2a" stroke-width="0.18">1.5</text>
<line x1="322.7" y1="458.59999999999997" x2="325.3" y2="458.59999999999997" stroke="#111" stroke-width="0.9"/>
<text x="320.7" y="461.29999999999995" font-size="7.6" text-anchor="end" fill="#2a2a2a" stroke="#2a2a2a" stroke-width="0.18">2.0</text>
<line x1="325.3" y1="523.4" x2="325.3" y2="525.6" stroke="#111" stroke-width="0.9"/>
<line x1="343.75" y1="523.4" x2="343.75" y2="525.6" stroke="#111" stroke-width="0.9"/>
<line x1="362.2" y1="523.4" x2="362.2" y2="525.6" stroke="#111" stroke-width="0.9"/>
<line x1="380.65" y1="523.4" x2="380.65" y2="525.6" stroke="#111" stroke-width="0.9"/>
<line x1="399.1" y1="523.4" x2="399.1" y2="525.6" stroke="#111" stroke-width="0.9"/>
<line x1="417.55" y1="523.4" x2="417.55" y2="525.6" stroke="#111" stroke-width="0.9"/>
<text x="317.2" y="531.8" font-size="7.6" text-anchor="middle" fill="#2a2a2a" stroke="#2a2a2a" stroke-width="0.18">0</text>
<text x="323.7" y="531.8" font-size="7.6" fill="#2a2a2a" stroke="#2a2a2a" stroke-width="0.18">.01</text>
<text x="344.55" y="531.8" font-size="7.6" text-anchor="middle" fill="#2a2a2a" stroke="#2a2a2a" stroke-width="0.18">0.1</text>
<text x="362.2" y="531.8" font-size="7.6" text-anchor="middle" fill="#2a2a2a" stroke="#2a2a2a" stroke-width="0.18">1</text>
<text x="380.65" y="531.8" font-size="7.6" text-anchor="middle" fill="#2a2a2a" stroke="#2a2a2a" stroke-width="0.18">10</text>
<text x="399.1" y="531.8" font-size="7.6" text-anchor="middle" fill="#2a2a2a" stroke="#2a2a2a" stroke-width="0.18">100</text>
<text x="417.55" y="531.8" font-size="7.6" text-anchor="middle" fill="#2a2a2a" stroke="#2a2a2a" stroke-width="0.18">1000</text>
<text x="372.6" y="449.6" font-size="9" text-anchor="middle" fill="#222" stroke="#222" stroke-width="0.18">VRC03</text>
<text x="372.6" y="544.8" font-size="8.7" text-anchor="middle" font-weight="bold" fill="#1a1a1a" textLength="62.0" lengthAdjust="spacingAndGlyphs" stroke="#1a1a1a" stroke-width="0.144">Concentration (ng/ml)</text>
<text transform="translate(303.3,493.6) rotate(-90)" font-size="8.8" text-anchor="middle" fill="#1a1a1a" textLength="53.5" lengthAdjust="spacingAndGlyphs" stroke="#1a1a1a" stroke-width="0.18">ADP score (&#215; 10<tspan dy="-2.7" font-size="5.6">6</tspan><tspan dy="2.7">)</tspan></text>
<line x1="417.55" y1="477.39199999999994" x2="417.55" y2="483.87199999999996" stroke="#c9c9c9" stroke-width="0.9"/>
<line x1="416.25" y1="477.39199999999994" x2="418.85" y2="477.39199999999994" stroke="#c9c9c9" stroke-width="0.9"/>
<line x1="416.25" y1="483.87199999999996" x2="418.85" y2="483.87199999999996" stroke="#c9c9c9" stroke-width="0.9"/>
<path d="M325.3 523.4 L343.8 524.4 L362.2 518.5 L380.6 482.9 L399.1 458.9 L417.6 480.6" fill="none" stroke="#c9c9c9" stroke-width="1.0" stroke-linejoin="round"/>
<circle cx="325.3" cy="523.4" r="1.75" fill="#fff" stroke="#c9c9c9" stroke-width="1.0"/>
<circle cx="343.8" cy="524.4" r="1.75" fill="#fff" stroke="#c9c9c9" stroke-width="1.0"/>
<circle cx="362.2" cy="518.5" r="1.75" fill="#fff" stroke="#c9c9c9" stroke-width="1.0"/>
<circle cx="380.6" cy="482.9" r="1.75" fill="#fff" stroke="#c9c9c9" stroke-width="1.0"/>
<circle cx="399.1" cy="458.9" r="1.75" fill="#fff" stroke="#c9c9c9" stroke-width="1.0"/>
<circle cx="417.6" cy="480.6" r="1.75" fill="#fff" stroke="#c9c9c9" stroke-width="1.0"/>
<line x1="343.75" y1="518.54" x2="343.75" y2="525.02" stroke="#5a3a6a" stroke-width="0.9"/>
<line x1="342.45" y1="518.54" x2="345.05" y2="518.54" stroke="#5a3a6a" stroke-width="0.9"/>
<line x1="342.45" y1="525.02" x2="345.05" y2="525.02" stroke="#5a3a6a" stroke-width="0.9"/>
<line x1="362.2" y1="520.16" x2="362.2" y2="525.3439999999999" stroke="#5a3a6a" stroke-width="0.9"/>
<line x1="360.9" y1="520.16" x2="363.5" y2="520.16" stroke="#5a3a6a" stroke-width="0.9"/>
<line x1="360.9" y1="525.3439999999999" x2="363.5" y2="525.3439999999999" stroke="#5a3a6a" stroke-width="0.9"/>
<line x1="380.65" y1="518.54" x2="380.65" y2="526.316" stroke="#5a3a6a" stroke-width="0.9"/>
<line x1="379.34999999999997" y1="518.54" x2="381.95" y2="518.54" stroke="#5a3a6a" stroke-width="0.9"/>
<line x1="379.34999999999997" y1="526.316" x2="381.95" y2="526.316" stroke="#5a3a6a" stroke-width="0.9"/>
<line x1="399.1" y1="518.8639999999999" x2="399.1" y2="526.64" stroke="#5a3a6a" stroke-width="0.9"/>
<line x1="397.8" y1="518.8639999999999" x2="400.40000000000003" y2="518.8639999999999" stroke="#5a3a6a" stroke-width="0.9"/>
<line x1="397.8" y1="526.64" x2="400.40000000000003" y2="526.64" stroke="#5a3a6a" stroke-width="0.9"/>
<line x1="417.55" y1="522.1039999999999" x2="417.55" y2="528.584" stroke="#5a3a6a" stroke-width="0.9"/>
<line x1="416.25" y1="522.1039999999999" x2="418.85" y2="522.1039999999999" stroke="#5a3a6a" stroke-width="0.9"/>
<line x1="416.25" y1="528.584" x2="418.85" y2="528.584" stroke="#5a3a6a" stroke-width="0.9"/>
<path d="M325.3 524.0 L343.8 521.8 L362.2 522.8 L380.6 522.4 L399.1 522.8 L417.6 525.3" fill="none" stroke="#5a3a6a" stroke-width="1.0" stroke-linejoin="round"/>
<circle cx="325.3" cy="524.0" r="1.75" fill="#fff" stroke="#5a3a6a" stroke-width="1.0"/>
<circle cx="343.8" cy="521.8" r="1.75" fill="#fff" stroke="#5a3a6a" stroke-width="1.0"/>
<circle cx="362.2" cy="522.8" r="1.75" fill="#fff" stroke="#5a3a6a" stroke-width="1.0"/>
<circle cx="380.6" cy="522.4" r="1.75" fill="#fff" stroke="#5a3a6a" stroke-width="1.0"/>
<circle cx="399.1" cy="522.8" r="1.75" fill="#fff" stroke="#5a3a6a" stroke-width="1.0"/>
<circle cx="417.6" cy="525.3" r="1.75" fill="#fff" stroke="#5a3a6a" stroke-width="1.0"/>
<path d="M325.3 524.0 L343.8 521.5 L362.2 521.5 L380.6 521.5 L399.1 521.8 L417.6 522.8" fill="none" stroke="#4fb3de" stroke-width="1.0" stroke-linejoin="round"/>
<circle cx="325.3" cy="524.0" r="1.75" fill="#fff" stroke="#4fb3de" stroke-width="1.0"/>
<circle cx="343.8" cy="521.5" r="1.75" fill="#fff" stroke="#4fb3de" stroke-width="1.0"/>
<circle cx="362.2" cy="521.5" r="1.75" fill="#fff" stroke="#4fb3de" stroke-width="1.0"/>
<circle cx="380.6" cy="521.5" r="1.75" fill="#fff" stroke="#4fb3de" stroke-width="1.0"/>
<circle cx="399.1" cy="521.8" r="1.75" fill="#fff" stroke="#4fb3de" stroke-width="1.0"/>
<circle cx="417.6" cy="522.8" r="1.75" fill="#fff" stroke="#4fb3de" stroke-width="1.0"/>
<path d="M325.3 524.0 L343.8 521.8 L362.2 522.4 L380.6 522.1 L399.1 522.4 L417.6 524.0" fill="none" stroke="#f0a33a" stroke-width="1.0" stroke-linejoin="round"/>
<circle cx="325.3" cy="524.0" r="1.75" fill="#fff" stroke="#f0a33a" stroke-width="1.0"/>
<circle cx="343.8" cy="521.8" r="1.75" fill="#fff" stroke="#f0a33a" stroke-width="1.0"/>
<circle cx="362.2" cy="522.4" r="1.75" fill="#fff" stroke="#f0a33a" stroke-width="1.0"/>
<circle cx="380.6" cy="522.1" r="1.75" fill="#fff" stroke="#f0a33a" stroke-width="1.0"/>
<circle cx="399.1" cy="522.4" r="1.75" fill="#fff" stroke="#f0a33a" stroke-width="1.0"/>
<circle cx="417.6" cy="524.0" r="1.75" fill="#fff" stroke="#f0a33a" stroke-width="1.0"/>
<path d="M325.3 524.0 L343.8 521.5 L362.2 522.1 L380.6 521.8 L399.1 522.1 L417.6 523.4" fill="none" stroke="#4f9e3c" stroke-width="1.0" stroke-linejoin="round"/>
<circle cx="325.3" cy="524.0" r="1.75" fill="#fff" stroke="#4f9e3c" stroke-width="1.0"/>
<circle cx="343.8" cy="521.5" r="1.75" fill="#fff" stroke="#4f9e3c" stroke-width="1.0"/>
<circle cx="362.2" cy="522.1" r="1.75" fill="#fff" stroke="#4f9e3c" stroke-width="1.0"/>
<circle cx="380.6" cy="521.8" r="1.75" fill="#fff" stroke="#4f9e3c" stroke-width="1.0"/>
<circle cx="399.1" cy="522.1" r="1.75" fill="#fff" stroke="#4f9e3c" stroke-width="1.0"/>
<circle cx="417.6" cy="523.4" r="1.75" fill="#fff" stroke="#4f9e3c" stroke-width="1.0"/>
<line x1="343.75" y1="516.272" x2="343.75" y2="525.3439999999999" stroke="#c12d41" stroke-width="0.9"/>
<line x1="342.45" y1="516.272" x2="345.05" y2="516.272" stroke="#c12d41" stroke-width="0.9"/>
<line x1="342.45" y1="525.3439999999999" x2="345.05" y2="525.3439999999999" stroke="#c12d41" stroke-width="0.9"/>
<line x1="362.2" y1="520.16" x2="362.2" y2="526.64" stroke="#c12d41" stroke-width="0.9"/>
<line x1="360.9" y1="520.16" x2="363.5" y2="520.16" stroke="#c12d41" stroke-width="0.9"/>
<line x1="360.9" y1="526.64" x2="363.5" y2="526.64" stroke="#c12d41" stroke-width="0.9"/>
<line x1="380.65" y1="517.8919999999999" x2="380.65" y2="527.612" stroke="#c12d41" stroke-width="0.9"/>
<line x1="379.34999999999997" y1="517.8919999999999" x2="381.95" y2="517.8919999999999" stroke="#c12d41" stroke-width="0.9"/>
<line x1="379.34999999999997" y1="527.612" x2="381.95" y2="527.612" stroke="#c12d41" stroke-width="0.9"/>
<line x1="399.1" y1="517.8919999999999" x2="399.1" y2="527.612" stroke="#c12d41" stroke-width="0.9"/>
<line x1="397.8" y1="517.8919999999999" x2="400.40000000000003" y2="517.8919999999999" stroke="#c12d41" stroke-width="0.9"/>
<line x1="397.8" y1="527.612" x2="400.40000000000003" y2="527.612" stroke="#c12d41" stroke-width="0.9"/>
<line x1="417.55" y1="520.484" x2="417.55" y2="529.5559999999999" stroke="#c12d41" stroke-width="0.9"/>
<line x1="416.25" y1="520.484" x2="418.85" y2="520.484" stroke="#c12d41" stroke-width="0.9"/>
<line x1="416.25" y1="529.5559999999999" x2="418.85" y2="529.5559999999999" stroke="#c12d41" stroke-width="0.9"/>
<path d="M325.3 524.0 L343.8 520.8 L362.2 523.4 L380.6 522.8 L399.1 522.8 L417.6 525.0" fill="none" stroke="#c12d41" stroke-width="1.0" stroke-linejoin="round"/>
<circle cx="325.3" cy="524.0" r="1.75" fill="#fff" stroke="#c12d41" stroke-width="1.0"/>
<circle cx="343.8" cy="520.8" r="1.75" fill="#fff" stroke="#c12d41" stroke-width="1.0"/>
<circle cx="362.2" cy="523.4" r="1.75" fill="#fff" stroke="#c12d41" stroke-width="1.0"/>
<circle cx="380.6" cy="522.8" r="1.75" fill="#fff" stroke="#c12d41" stroke-width="1.0"/>
<circle cx="399.1" cy="522.8" r="1.75" fill="#fff" stroke="#c12d41" stroke-width="1.0"/>
<circle cx="417.6" cy="525.0" r="1.75" fill="#fff" stroke="#c12d41" stroke-width="1.0"/>
<line x1="432.2" y1="461.5" x2="440.3" y2="461.5" stroke="#c9c9c9" stroke-width="1.0"/>
<circle cx="436.2" cy="461.5" r="1.8" fill="#fff" stroke="#c9c9c9" stroke-width="1.0"/>
<text x="443.7" y="463.5" font-size="6.9" fill="#2a2a2a" stroke="#2a2a2a" stroke-width="0.18">RhD-pIgG</text>
<line x1="432.2" y1="472.4" x2="440.3" y2="472.4" stroke="#c12d41" stroke-width="1.0"/>
<circle cx="436.2" cy="472.4" r="1.8" fill="#fff" stroke="#c12d41" stroke-width="1.0"/>
<text x="443.7" y="474.4" font-size="6.9" fill="#2a2a2a" stroke="#2a2a2a" stroke-width="0.18">WT</text>
<line x1="432.2" y1="483.3" x2="440.3" y2="483.3" stroke="#4f9e3c" stroke-width="1.0"/>
<circle cx="436.2" cy="483.3" r="1.8" fill="#fff" stroke="#4f9e3c" stroke-width="1.0"/>
<text x="443.7" y="485.3" font-size="6.9" fill="#2a2a2a" stroke="#2a2a2a" stroke-width="0.18">GASDALIE</text>
<line x1="432.2" y1="494.2" x2="440.3" y2="494.2" stroke="#4fb3de" stroke-width="1.0"/>
<circle cx="436.2" cy="494.2" r="1.8" fill="#fff" stroke="#4fb3de" stroke-width="1.0"/>
<text x="443.7" y="496.2" font-size="6.9" fill="#2a2a2a" stroke="#2a2a2a" stroke-width="0.18">AFUC</text>
<line x1="432.2" y1="505.1" x2="440.3" y2="505.1" stroke="#f0a33a" stroke-width="1.0"/>
<circle cx="436.2" cy="505.1" r="1.8" fill="#fff" stroke="#f0a33a" stroke-width="1.0"/>
<text x="443.7" y="507.1" font-size="6.9" fill="#2a2a2a" stroke="#2a2a2a" stroke-width="0.18">AFUC GASDALIE</text>
<line x1="432.2" y1="516.0" x2="440.3" y2="516.0" stroke="#5a3a6a" stroke-width="1.0"/>
<circle cx="436.2" cy="516.0" r="1.8" fill="#fff" stroke="#5a3a6a" stroke-width="1.0"/>
<text x="443.7" y="518.0" font-size="6.9" fill="#2a2a2a" stroke="#2a2a2a" stroke-width="0.18">GRLR</text>
</svg>
</body></html>
